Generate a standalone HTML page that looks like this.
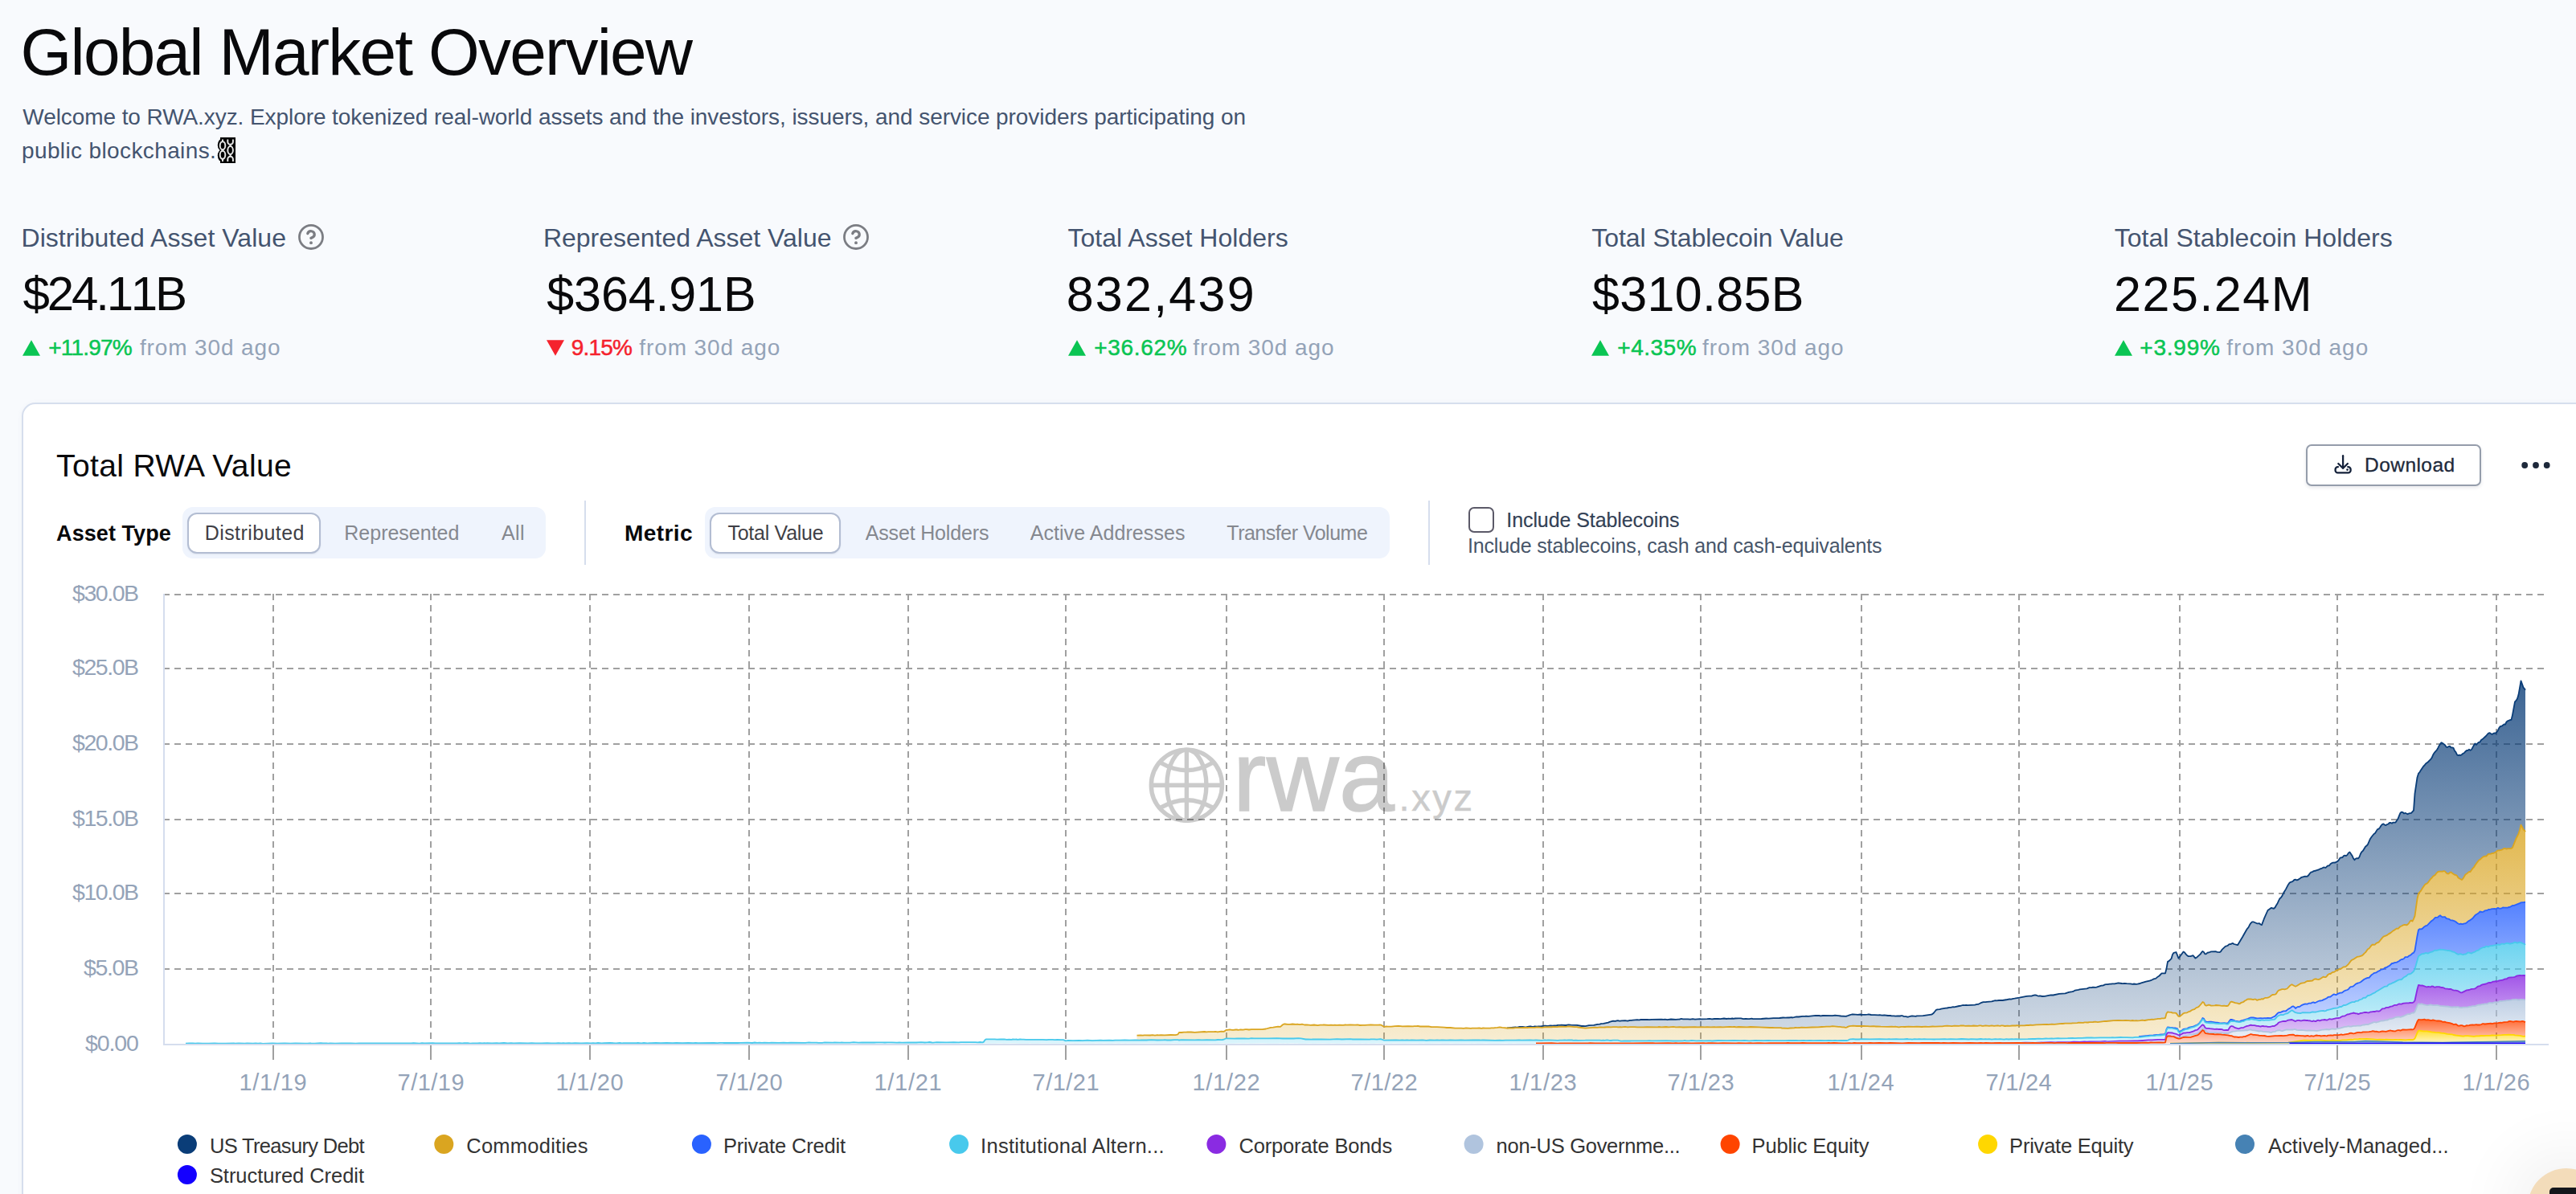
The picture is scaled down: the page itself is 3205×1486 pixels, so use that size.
<!DOCTYPE html>
<html lang="en">
<head>
<meta charset="utf-8">
<title>Global Market Overview</title>
<style>
html,body{margin:0;padding:0}
body{width:3205px;height:1486px;overflow:hidden;background:#f8fafd;font-family:"Liberation Sans",sans-serif;position:relative}
.t{position:absolute;white-space:nowrap;margin:0;padding:0}
.abs{position:absolute}
.card{position:absolute;left:27px;top:501px;width:3300px;height:1100px;box-sizing:border-box;border:2px solid #d6deed;border-radius:17px;background:#fff;box-shadow:0 1px 6px rgba(100,120,160,.06)}
.seg{position:absolute;top:631px;height:64px;border-radius:13px;background:#eff4fd}
.segsel{position:absolute;top:637.5px;height:51px;box-sizing:border-box;border:2px solid #b3bdd2;border-radius:12px;background:#fff;box-shadow:0 1px 2px rgba(30,40,80,.08)}
.vdiv{position:absolute;top:623px;width:2px;height:80px;background:#d6deed}
.chart{position:absolute;left:0;top:0}
.btn{position:absolute;left:2869px;top:553px;width:218px;height:52px;box-sizing:border-box;border:2px solid #959dab;border-radius:7px;background:#fff;box-shadow:0 2px 4px rgba(20,30,60,.10)}
.cb{position:absolute;left:1827px;top:631px;width:32px;height:32px;box-sizing:border-box;border:2px solid #5b5968;border-radius:7px;background:#fff}
.fab{position:absolute;left:3145px;top:1454px;width:96px;height:96px;border-radius:50%;background:#f3dcba;box-shadow:0 0 80px 24px rgba(0,0,0,.055)}
.fabi{position:absolute;left:3172px;top:1478px;width:60px;height:40px;border-radius:5px;background:#14161b}
</style>
</head>
<body>
<div class="card"></div>
<div class="seg" style="left:227px;width:452px"></div>
<div class="segsel" style="left:233px;width:165.5px"></div>
<div class="vdiv" style="left:727px"></div>
<div class="seg" style="left:877px;width:852px"></div>
<div class="segsel" style="left:883px;width:162.5px"></div>
<div class="vdiv" style="left:1777px"></div>
<div class="cb"></div>
<div class="btn"></div>
<svg class="chart" width="3205" height="1486" viewBox="0 0 3205 1486">
<defs>
<linearGradient id="g-sc" x1="0" y1="0" x2="0" y2="1"><stop offset="0" stop-color="#1400ff" stop-opacity="0.8"/><stop offset="1" stop-color="#1400ff" stop-opacity="0.2"/></linearGradient>
<linearGradient id="g-am" x1="0" y1="0" x2="0" y2="1"><stop offset="0" stop-color="#4682b4" stop-opacity="0.8"/><stop offset="1" stop-color="#4682b4" stop-opacity="0.2"/></linearGradient>
<linearGradient id="g-pe" x1="0" y1="0" x2="0" y2="1"><stop offset="0" stop-color="#ffd700" stop-opacity="0.8"/><stop offset="1" stop-color="#ffd700" stop-opacity="0.2"/></linearGradient>
<linearGradient id="g-pu" x1="0" y1="0" x2="0" y2="1"><stop offset="0" stop-color="#ff4500" stop-opacity="0.8"/><stop offset="1" stop-color="#ff4500" stop-opacity="0.2"/></linearGradient>
<linearGradient id="g-ng" x1="0" y1="0" x2="0" y2="1"><stop offset="0" stop-color="#b0c4de" stop-opacity="0.8"/><stop offset="1" stop-color="#b0c4de" stop-opacity="0.2"/></linearGradient>
<linearGradient id="g-cb" x1="0" y1="0" x2="0" y2="1"><stop offset="0" stop-color="#8a2be2" stop-opacity="0.8"/><stop offset="1" stop-color="#8a2be2" stop-opacity="0.2"/></linearGradient>
<linearGradient id="g-ia" x1="0" y1="0" x2="0" y2="1"><stop offset="0" stop-color="#48c9ec" stop-opacity="0.8"/><stop offset="1" stop-color="#48c9ec" stop-opacity="0.2"/></linearGradient>
<linearGradient id="g-pc" x1="0" y1="0" x2="0" y2="1"><stop offset="0" stop-color="#2962ff" stop-opacity="0.8"/><stop offset="1" stop-color="#2962ff" stop-opacity="0.2"/></linearGradient>
<linearGradient id="g-co" x1="0" y1="0" x2="0" y2="1"><stop offset="0" stop-color="#daa520" stop-opacity="0.8"/><stop offset="1" stop-color="#daa520" stop-opacity="0.2"/></linearGradient>
<linearGradient id="g-us" x1="0" y1="0" x2="0" y2="1"><stop offset="0" stop-color="#0a3d78" stop-opacity="0.8"/><stop offset="1" stop-color="#0a3d78" stop-opacity="0.2"/></linearGradient>
</defs>
<g stroke="#a0a0a0" stroke-width="2" stroke-dasharray="8 6" fill="none">
<line x1="203" y1="740.0" x2="3166" y2="740.0"/>
<line x1="203" y1="832.0" x2="3166" y2="832.0"/>
<line x1="203" y1="926.0" x2="3166" y2="926.0"/>
<line x1="203" y1="1020.0" x2="3166" y2="1020.0"/>
<line x1="203" y1="1112.0" x2="3166" y2="1112.0"/>
<line x1="203" y1="1206.0" x2="3166" y2="1206.0"/>
<line x1="340.0" y1="739" x2="340.0" y2="1299"/>
<line x1="536.0" y1="739" x2="536.0" y2="1299"/>
<line x1="734.0" y1="739" x2="734.0" y2="1299"/>
<line x1="932.0" y1="739" x2="932.0" y2="1299"/>
<line x1="1130.0" y1="739" x2="1130.0" y2="1299"/>
<line x1="1326.0" y1="739" x2="1326.0" y2="1299"/>
<line x1="1526.0" y1="739" x2="1526.0" y2="1299"/>
<line x1="1722.0" y1="739" x2="1722.0" y2="1299"/>
<line x1="1920.0" y1="739" x2="1920.0" y2="1299"/>
<line x1="2116.0" y1="739" x2="2116.0" y2="1299"/>
<line x1="2316.0" y1="739" x2="2316.0" y2="1299"/>
<line x1="2512.0" y1="739" x2="2512.0" y2="1299"/>
<line x1="2712.0" y1="739" x2="2712.0" y2="1299"/>
<line x1="2908.0" y1="739" x2="2908.0" y2="1299"/>
<line x1="3106.0" y1="739" x2="3106.0" y2="1299"/>
</g>
<g id="wm" opacity="0.2"><g fill="none" stroke="#000" stroke-width="5.4"><circle cx="1476.4" cy="977.2" r="44.1"/><ellipse cx="1476.4" cy="977.2" rx="24.5" ry="44.1"/><line x1="1476.4" y1="933" x2="1476.4" y2="1021.4"/><line x1="1432.3" y1="977.2" x2="1520.5" y2="977.2"/><path d="M1444.5 949.5Q1476.4 968 1508.3 949.5"/><path d="M1444.5 1004.9Q1476.4 986.4 1508.3 1004.9"/></g>
<text x="1534.0" y="1009.3" font-family='"Liberation Sans", sans-serif' font-size="124" fill="#000" stroke="#000" stroke-width="1.6" letter-spacing="0.6">rwa</text>
<text x="1740.6" y="1009.3" font-family='"Liberation Sans", sans-serif' font-size="47" fill="#000" stroke="#000" stroke-width="0.6" letter-spacing="2.6">.xyz</text></g>
<polygon points="1875.0,1279.4 1885.5,1278.4 1887.0,1278.6 1888.5,1278.4 1890.0,1278.0 1894.5,1277.9 1897.5,1278.4 1899.0,1278.4 1900.5,1277.9 1903.5,1277.5 1905.0,1277.5 1906.5,1277.9 1908.0,1277.8 1909.5,1277.3 1912.5,1277.7 1914.0,1277.3 1917.0,1277.3 1921.5,1276.6 1923.0,1276.6 1924.5,1276.9 1926.0,1276.9 1929.0,1276.4 1932.0,1276.7 1933.5,1276.3 1935.0,1276.5 1936.5,1276.4 1938.0,1275.8 1941.0,1275.8 1942.5,1275.6 1947.0,1276.0 1948.5,1276.0 1951.5,1275.3 1954.5,1275.6 1962.0,1275.9 1968.0,1277.0 1969.5,1276.9 1972.5,1277.2 1977.0,1276.2 1983.0,1275.9 1987.5,1274.9 1990.5,1274.7 1992.0,1274.1 1995.0,1273.9 2001.0,1272.6 2002.5,1271.9 2007.0,1270.7 2010.0,1270.9 2011.5,1270.4 2013.0,1270.2 2014.5,1270.6 2016.0,1270.7 2017.5,1270.3 2022.0,1270.2 2025.0,1270.7 2028.0,1269.8 2029.5,1269.8 2037.0,1269.2 2038.5,1269.4 2040.0,1269.4 2041.5,1268.9 2043.0,1269.0 2049.0,1268.8 2052.0,1269.2 2055.0,1268.8 2067.0,1268.7 2070.0,1268.9 2071.5,1268.7 2074.5,1269.2 2079.0,1268.5 2085.0,1268.8 2088.0,1268.6 2089.5,1268.7 2091.0,1268.2 2092.5,1268.0 2094.0,1268.4 2100.0,1268.4 2103.0,1268.6 2106.0,1268.2 2109.0,1268.7 2115.0,1268.2 2116.5,1268.3 2124.0,1268.1 2127.0,1267.8 2130.0,1268.3 2133.0,1268.0 2137.5,1267.9 2140.5,1268.1 2145.0,1267.5 2148.0,1268.0 2151.0,1267.7 2152.5,1267.8 2155.5,1267.5 2157.0,1267.8 2158.5,1267.5 2163.0,1267.3 2166.0,1267.4 2169.0,1268.1 2172.0,1267.8 2175.0,1268.2 2176.5,1268.1 2178.0,1267.8 2179.5,1267.7 2181.0,1268.1 2191.5,1268.0 2197.5,1267.5 2200.5,1267.6 2206.5,1267.1 2214.0,1267.0 2218.5,1266.5 2221.5,1266.6 2224.5,1266.3 2226.0,1266.5 2229.0,1266.2 2230.5,1266.5 2235.0,1265.3 2238.0,1265.5 2242.5,1264.8 2245.5,1264.8 2247.0,1264.6 2250.0,1264.8 2259.0,1263.8 2263.5,1264.0 2265.0,1264.3 2268.0,1264.0 2280.0,1264.1 2281.5,1263.8 2283.0,1263.7 2287.5,1264.1 2290.5,1264.5 2296.5,1264.8 2298.0,1264.5 2301.0,1263.4 2304.0,1262.5 2305.5,1262.4 2311.5,1262.8 2314.5,1262.5 2317.5,1262.8 2320.5,1262.8 2323.5,1262.7 2325.0,1262.4 2328.0,1263.0 2332.5,1263.2 2337.0,1263.4 2338.5,1263.2 2341.5,1263.6 2344.5,1263.3 2349.0,1264.0 2352.0,1264.0 2353.5,1264.3 2356.5,1264.3 2358.0,1264.7 2361.0,1264.5 2364.0,1264.5 2365.5,1264.2 2367.0,1264.2 2368.5,1264.9 2370.0,1265.2 2371.5,1265.2 2373.0,1265.6 2374.5,1265.5 2377.5,1264.6 2379.0,1264.4 2383.5,1264.9 2385.0,1264.4 2392.5,1264.1 2403.0,1262.7 2404.5,1261.9 2406.0,1260.5 2409.0,1256.8 2410.5,1256.3 2413.5,1256.1 2415.0,1255.7 2421.0,1254.6 2422.5,1254.5 2425.5,1253.9 2427.0,1253.8 2430.0,1253.2 2431.5,1253.4 2437.5,1252.0 2439.0,1251.9 2442.0,1251.0 2443.5,1251.2 2446.5,1250.9 2448.0,1251.1 2457.0,1250.7 2460.0,1249.9 2461.5,1249.8 2464.5,1248.2 2467.5,1247.1 2470.5,1247.2 2472.0,1246.9 2478.0,1246.4 2482.5,1245.2 2484.0,1245.3 2487.0,1245.0 2491.5,1245.0 2497.5,1244.0 2500.5,1243.4 2502.0,1243.6 2505.0,1242.8 2506.5,1242.7 2512.5,1241.7 2521.5,1239.9 2524.5,1239.6 2527.5,1239.6 2530.5,1238.6 2532.0,1238.3 2533.5,1238.6 2535.0,1239.3 2536.5,1239.6 2538.0,1239.3 2541.0,1240.0 2544.0,1239.9 2551.5,1238.4 2554.5,1238.5 2562.0,1236.8 2569.5,1236.3 2574.0,1234.9 2577.0,1234.3 2578.5,1234.2 2580.0,1233.6 2581.5,1232.7 2583.0,1232.3 2586.0,1231.8 2587.5,1231.3 2596.5,1230.3 2599.5,1229.2 2602.5,1229.2 2604.0,1228.7 2607.0,1228.9 2608.5,1228.7 2614.5,1226.7 2616.0,1226.6 2617.5,1226.1 2619.0,1225.3 2620.5,1225.1 2622.0,1225.2 2625.0,1224.7 2626.5,1224.7 2628.0,1224.3 2631.0,1224.3 2635.5,1223.3 2640.0,1224.0 2641.5,1224.1 2643.0,1223.8 2646.0,1224.2 2650.5,1224.3 2653.5,1224.8 2655.0,1224.5 2658.0,1224.8 2659.5,1224.7 2662.5,1224.0 2664.0,1223.4 2670.0,1221.7 2674.5,1220.7 2676.0,1220.2 2679.0,1218.7 2680.5,1218.2 2682.0,1217.9 2685.0,1215.4 2686.5,1214.5 2689.5,1211.4 2694.0,1211.4 2695.5,1205.3 2697.0,1196.9 2698.5,1196.1 2701.5,1193.2 2703.0,1188.0 2704.5,1185.8 2707.5,1185.0 2710.5,1192.7 2716.5,1184.5 2718.0,1185.2 2719.5,1187.4 2721.0,1189.0 2722.5,1190.1 2725.5,1190.1 2728.5,1189.2 2731.5,1192.6 2733.0,1191.7 2737.5,1187.7 2739.0,1185.4 2740.5,1183.9 2742.0,1185.1 2743.5,1187.4 2745.0,1187.1 2746.5,1185.7 2748.0,1185.5 2751.0,1184.4 2757.0,1184.2 2758.5,1184.9 2761.5,1185.2 2763.0,1184.3 2764.5,1181.9 2769.0,1177.7 2770.5,1177.3 2772.0,1176.6 2773.5,1175.2 2775.0,1175.1 2778.0,1173.9 2779.5,1175.0 2784.0,1176.2 2790.0,1166.3 2794.5,1158.2 2796.0,1155.8 2797.5,1154.1 2799.0,1151.1 2800.5,1148.8 2802.0,1147.4 2803.5,1147.3 2808.0,1149.3 2809.5,1149.4 2811.0,1149.1 2812.5,1150.5 2814.0,1151.1 2817.0,1143.2 2821.5,1133.0 2826.0,1129.8 2829.0,1130.8 2830.5,1129.5 2832.0,1126.7 2833.5,1124.5 2835.0,1121.1 2836.5,1118.2 2838.0,1117.1 2839.5,1114.8 2841.0,1111.5 2844.0,1106.6 2847.0,1100.9 2848.5,1098.8 2850.0,1097.8 2851.5,1097.4 2853.0,1096.5 2854.5,1095.0 2856.0,1094.7 2857.5,1095.3 2859.0,1095.0 2862.0,1093.0 2863.5,1091.8 2868.0,1090.6 2869.5,1090.8 2871.0,1090.5 2872.5,1089.0 2874.0,1086.8 2875.5,1085.4 2877.0,1085.2 2878.5,1084.1 2881.5,1083.5 2883.0,1082.8 2884.5,1082.5 2886.0,1081.7 2889.0,1080.6 2890.5,1079.7 2892.0,1079.5 2893.5,1080.0 2895.0,1078.4 2896.5,1077.3 2898.0,1077.3 2899.5,1075.3 2901.0,1074.3 2902.5,1073.6 2905.5,1073.5 2908.5,1071.9 2910.0,1070.1 2911.5,1067.6 2914.5,1067.0 2916.0,1065.1 2917.5,1064.7 2919.0,1065.1 2920.5,1063.9 2922.0,1061.4 2923.5,1060.5 2926.5,1064.9 2928.0,1068.4 2929.5,1070.2 2931.0,1068.7 2932.5,1068.2 2934.0,1068.4 2935.5,1066.5 2937.0,1062.5 2938.5,1060.1 2940.0,1058.8 2943.0,1053.7 2944.5,1052.6 2946.0,1050.8 2949.0,1043.9 2950.5,1041.8 2953.5,1038.0 2955.0,1037.0 2958.0,1032.1 2959.5,1031.7 2961.0,1030.0 2962.5,1027.5 2964.0,1025.9 2965.5,1025.3 2967.0,1026.7 2968.5,1027.0 2970.0,1026.0 2971.5,1025.5 2973.0,1024.0 2974.5,1024.0 2976.0,1024.7 2977.5,1023.6 2980.5,1023.6 2983.5,1019.1 2985.0,1015.1 2986.5,1011.7 2988.0,1010.6 2989.5,1010.8 2991.0,1012.5 2992.5,1011.7 2995.5,1013.3 2997.0,1012.4 3000.0,1011.9 3003.0,1008.6 3004.5,987.6 3007.5,967.5 3009.0,962.7 3010.5,961.0 3012.0,958.4 3015.0,953.9 3016.5,952.5 3018.0,950.5 3021.0,948.3 3022.5,946.6 3024.0,945.3 3025.5,943.3 3027.0,939.8 3028.5,937.3 3030.0,935.4 3031.5,933.9 3033.0,931.6 3034.5,928.4 3036.0,926.0 3037.5,924.2 3039.0,924.9 3042.0,927.3 3043.5,929.6 3045.0,930.0 3046.5,929.1 3048.0,928.6 3049.5,930.4 3051.0,930.4 3052.5,930.9 3054.0,934.4 3055.5,936.2 3057.0,939.4 3058.5,940.2 3060.0,939.6 3061.5,940.0 3063.0,939.0 3064.5,937.7 3066.0,937.0 3067.5,935.2 3069.0,934.0 3070.5,933.9 3072.0,932.7 3073.5,933.8 3075.0,932.9 3078.0,927.4 3079.5,925.4 3081.0,926.9 3082.5,925.1 3084.0,923.8 3085.5,923.5 3087.0,921.0 3088.5,920.1 3093.0,916.0 3096.0,912.5 3097.5,912.1 3100.5,913.9 3102.0,912.9 3103.5,912.4 3105.0,912.5 3106.5,911.1 3108.0,908.7 3109.5,905.6 3111.0,903.9 3112.5,903.7 3115.5,901.5 3117.0,901.6 3118.5,898.5 3120.0,897.3 3123.0,896.0 3124.5,895.9 3126.0,889.6 3129.0,873.3 3130.5,871.9 3132.0,869.5 3133.5,864.6 3136.5,847.3 3139.5,855.6 3141.0,857.3 3142.0,858.8 3142.0,1035.2 3141.0,1033.4 3139.5,1032.4 3138.0,1029.2 3136.5,1026.6 3135.0,1032.9 3133.5,1037.6 3130.5,1043.6 3126.0,1054.8 3124.5,1055.9 3123.0,1056.2 3120.0,1056.1 3118.5,1056.7 3117.0,1056.0 3115.5,1056.0 3112.5,1057.7 3109.5,1058.3 3108.0,1058.3 3106.5,1059.3 3105.0,1060.6 3103.5,1061.3 3102.0,1061.9 3100.5,1062.0 3099.0,1062.6 3096.0,1062.8 3094.5,1064.5 3093.0,1065.7 3091.5,1065.6 3090.0,1066.2 3088.5,1067.1 3085.5,1069.8 3084.0,1070.8 3082.5,1072.6 3079.5,1076.7 3078.0,1079.3 3076.5,1080.7 3073.5,1085.1 3072.0,1084.9 3069.0,1087.4 3067.5,1088.3 3064.5,1093.4 3063.0,1095.0 3058.5,1092.5 3057.0,1089.9 3055.5,1088.9 3054.0,1088.8 3051.0,1086.7 3049.5,1085.3 3048.0,1086.0 3046.5,1087.4 3045.0,1087.3 3043.5,1086.2 3042.0,1084.5 3040.5,1084.0 3039.0,1084.6 3034.5,1084.6 3033.0,1085.1 3031.5,1086.6 3030.0,1088.7 3027.0,1090.7 3025.5,1092.6 3024.0,1094.0 3021.0,1098.1 3019.5,1099.7 3018.0,1100.1 3016.5,1101.7 3013.5,1106.1 3012.0,1108.7 3009.0,1112.2 3007.5,1118.5 3004.5,1139.9 3003.0,1143.7 3001.5,1146.6 3000.0,1145.5 2998.5,1146.6 2997.0,1149.1 2995.5,1150.6 2994.0,1151.4 2992.5,1150.9 2991.0,1151.0 2989.5,1151.6 2988.0,1152.5 2986.5,1153.0 2983.5,1155.9 2982.0,1155.5 2979.0,1157.6 2977.5,1158.4 2974.5,1160.9 2971.5,1162.6 2970.0,1163.9 2965.5,1165.6 2964.0,1167.1 2959.5,1172.7 2956.5,1173.8 2955.0,1175.5 2953.5,1175.8 2952.0,1175.5 2950.5,1176.6 2947.5,1180.5 2946.0,1181.3 2943.0,1185.4 2941.5,1186.6 2940.0,1188.3 2938.5,1189.4 2935.5,1190.3 2932.5,1190.9 2928.0,1193.9 2926.5,1194.5 2925.0,1195.7 2922.0,1199.8 2919.0,1202.7 2917.5,1203.4 2916.0,1203.3 2914.5,1204.2 2913.0,1205.4 2911.5,1205.6 2910.0,1206.6 2908.5,1207.3 2907.0,1207.5 2905.5,1208.8 2904.0,1209.8 2902.5,1209.9 2901.0,1210.7 2899.5,1212.0 2898.0,1212.0 2896.5,1212.9 2895.0,1214.9 2893.5,1216.2 2892.0,1216.1 2890.5,1215.7 2886.0,1218.7 2884.5,1219.1 2883.0,1218.9 2881.5,1218.4 2880.0,1218.5 2878.5,1219.3 2877.0,1220.5 2872.5,1221.0 2871.0,1220.9 2869.5,1221.6 2868.0,1222.6 2866.5,1223.1 2863.5,1223.6 2862.0,1224.2 2857.5,1227.0 2856.0,1227.6 2854.5,1227.0 2851.5,1225.2 2850.0,1226.1 2848.5,1227.3 2845.5,1230.5 2842.5,1231.3 2841.0,1231.1 2839.5,1231.2 2838.0,1231.5 2836.5,1232.1 2835.0,1232.7 2833.5,1234.2 2832.0,1236.7 2830.5,1237.7 2827.5,1238.0 2826.0,1238.8 2824.5,1240.2 2823.0,1241.1 2821.5,1241.7 2820.0,1241.9 2818.5,1241.8 2817.0,1242.5 2815.5,1243.6 2814.0,1243.2 2812.5,1243.8 2811.0,1243.9 2808.0,1244.8 2806.5,1243.7 2805.0,1243.6 2803.5,1244.1 2800.5,1243.5 2797.5,1243.3 2796.0,1243.7 2794.5,1244.8 2793.0,1245.5 2791.5,1246.8 2788.5,1247.8 2787.0,1249.0 2785.5,1249.3 2784.0,1248.6 2781.0,1248.2 2776.5,1246.7 2775.0,1247.1 2773.5,1249.7 2772.0,1251.8 2770.5,1252.0 2769.0,1252.0 2767.5,1251.6 2764.5,1251.9 2763.0,1251.7 2761.5,1251.3 2757.0,1251.0 2755.5,1251.3 2751.0,1251.7 2749.5,1250.9 2748.0,1250.6 2746.5,1251.2 2745.0,1251.6 2743.5,1250.9 2742.0,1247.8 2740.5,1246.9 2739.0,1249.0 2736.0,1252.5 2734.5,1253.6 2733.0,1253.9 2730.0,1256.2 2728.5,1256.5 2727.0,1257.1 2725.5,1258.3 2724.0,1258.8 2721.0,1260.3 2718.0,1260.6 2716.5,1261.3 2712.0,1265.1 2710.5,1264.9 2707.5,1260.9 2706.0,1260.7 2703.0,1260.6 2701.5,1259.9 2698.5,1259.7 2697.0,1259.3 2695.5,1261.2 2694.0,1266.9 2692.5,1267.3 2689.5,1267.4 2688.0,1267.8 2685.0,1267.9 2683.5,1268.2 2682.0,1268.3 2679.0,1268.8 2677.5,1268.6 2674.5,1269.2 2673.0,1269.1 2668.5,1270.0 2667.0,1269.9 2665.5,1269.6 2662.5,1270.2 2659.5,1270.4 2658.0,1270.1 2655.0,1270.3 2653.5,1270.0 2650.5,1270.3 2649.0,1270.1 2644.5,1269.9 2641.5,1270.2 2635.5,1269.9 2629.5,1270.2 2620.5,1271.0 2619.0,1270.9 2610.0,1272.1 2607.0,1271.6 2604.0,1272.0 2599.5,1272.2 2598.0,1272.5 2596.5,1272.5 2595.0,1272.3 2593.5,1272.4 2592.0,1272.9 2586.0,1272.7 2584.5,1273.1 2578.5,1273.3 2577.0,1273.6 2569.5,1273.6 2566.5,1274.0 2565.0,1273.8 2556.0,1274.8 2553.0,1274.7 2548.5,1275.1 2547.0,1275.0 2533.5,1275.4 2529.0,1275.9 2526.0,1275.7 2524.5,1276.0 2521.5,1276.0 2518.5,1276.4 2514.0,1276.4 2512.5,1276.7 2509.5,1276.2 2508.0,1276.5 2503.5,1276.5 2500.5,1276.8 2497.5,1276.6 2494.5,1277.0 2491.5,1276.4 2490.0,1276.4 2488.5,1276.8 2487.0,1276.7 2485.5,1276.3 2481.0,1276.8 2478.0,1276.4 2475.0,1276.8 2470.5,1276.4 2467.5,1276.9 2466.0,1276.8 2464.5,1276.4 2463.0,1276.3 2461.5,1276.7 2460.0,1276.8 2455.5,1276.5 2452.5,1276.8 2449.5,1276.6 2445.0,1276.9 2443.5,1276.5 2439.0,1276.5 2437.5,1276.9 2431.5,1276.7 2428.5,1277.1 2422.5,1276.7 2419.5,1276.9 2416.5,1277.4 2413.5,1277.3 2407.5,1277.6 2404.5,1277.5 2400.0,1277.9 2398.5,1277.9 2395.5,1277.6 2391.0,1278.0 2385.0,1277.7 2380.5,1277.9 2374.5,1277.6 2370.0,1278.0 2367.0,1277.8 2365.5,1277.8 2362.5,1278.3 2359.5,1277.8 2358.0,1277.7 2356.5,1277.9 2353.5,1277.6 2349.0,1277.8 2340.0,1277.7 2335.5,1277.3 2334.0,1277.5 2331.0,1277.1 2326.5,1277.3 2323.5,1277.1 2322.0,1277.2 2319.0,1277.0 2310.0,1277.0 2305.5,1276.7 2301.0,1277.1 2299.5,1277.6 2298.0,1278.4 2296.5,1279.0 2295.0,1278.5 2293.5,1278.3 2292.0,1278.4 2289.0,1277.9 2287.5,1277.9 2280.0,1277.2 2277.0,1277.7 2272.5,1277.6 2269.5,1277.9 2266.5,1278.0 2262.0,1278.4 2254.5,1278.5 2247.0,1278.8 2241.0,1278.6 2239.5,1279.0 2236.5,1279.2 2233.5,1279.0 2232.0,1279.3 2227.5,1279.5 2224.5,1279.8 2217.0,1279.5 2215.5,1279.2 2208.0,1279.2 2205.0,1278.8 2202.0,1279.0 2188.5,1278.3 2178.0,1278.0 2173.5,1278.4 2163.0,1278.0 2160.0,1278.3 2158.5,1278.0 2157.0,1277.9 2155.5,1278.1 2152.5,1277.9 2143.5,1278.3 2140.5,1278.2 2134.5,1278.3 2133.0,1278.2 2128.5,1278.4 2124.0,1278.1 2121.0,1278.4 2118.0,1278.1 2112.0,1278.3 2109.0,1278.1 2094.0,1278.5 2089.5,1278.1 2086.5,1278.3 2085.0,1278.3 2082.0,1277.8 2076.0,1278.3 2073.0,1278.0 2067.0,1278.3 2064.0,1278.0 2062.5,1278.3 2061.0,1278.3 2049.0,1278.1 2044.5,1278.4 2037.0,1278.4 2034.0,1278.2 2028.0,1278.1 2025.0,1278.4 2022.0,1277.9 2017.5,1278.3 2016.0,1278.1 2013.0,1278.4 2011.5,1278.2 2007.0,1278.2 2004.0,1278.4 2001.0,1278.2 1996.5,1278.5 1995.0,1278.7 1990.5,1278.4 1987.5,1278.9 1984.5,1278.6 1972.5,1279.6 1963.5,1278.5 1962.0,1278.2 1959.0,1278.2 1951.5,1277.4 1948.5,1277.8 1939.5,1277.7 1938.0,1278.0 1936.5,1278.1 1935.0,1278.2 1932.0,1278.0 1930.5,1278.3 1927.5,1278.2 1921.5,1278.4 1918.5,1278.8 1912.5,1278.3 1909.5,1278.8 1905.0,1279.0 1902.0,1278.8 1900.5,1279.0 1897.5,1278.8 1891.5,1279.2 1885.5,1279.1 1882.5,1279.5 1879.5,1279.3 1875.0,1279.5" fill="url(#g-us)"/>
<polygon points="1414.5,1288.7 1419.0,1288.5 1422.0,1288.7 1423.5,1288.4 1425.0,1288.3 1431.0,1288.5 1434.0,1288.2 1437.0,1288.6 1440.0,1288.2 1441.5,1288.3 1444.5,1288.1 1449.0,1288.3 1456.5,1288.0 1462.5,1288.2 1465.5,1287.4 1467.0,1284.9 1470.0,1285.0 1473.0,1284.6 1476.0,1284.7 1477.5,1284.4 1482.0,1284.5 1486.5,1284.8 1498.5,1284.0 1501.5,1284.3 1503.0,1284.2 1510.5,1284.1 1512.0,1283.9 1515.0,1284.3 1519.5,1283.6 1522.5,1283.8 1524.0,1283.2 1525.5,1281.8 1527.0,1281.8 1530.0,1281.4 1533.0,1281.8 1534.5,1281.9 1537.5,1281.5 1539.0,1281.5 1540.5,1281.8 1542.0,1281.7 1543.5,1281.3 1546.5,1281.7 1549.5,1281.2 1551.0,1281.1 1554.0,1281.5 1557.0,1281.2 1570.5,1281.1 1575.0,1280.5 1581.0,1278.8 1584.0,1278.7 1590.0,1277.7 1593.0,1277.9 1596.0,1275.3 1597.5,1274.5 1599.0,1274.5 1602.0,1274.8 1605.0,1274.8 1608.0,1274.5 1612.5,1274.8 1614.0,1274.7 1617.0,1275.1 1620.0,1274.7 1623.0,1275.5 1626.0,1275.4 1630.5,1275.8 1635.0,1275.5 1639.5,1276.1 1642.5,1275.7 1645.5,1275.7 1647.0,1275.5 1653.0,1275.8 1656.0,1275.7 1659.0,1275.8 1660.5,1275.6 1663.5,1275.8 1666.5,1275.6 1671.0,1275.9 1674.0,1275.5 1675.5,1275.7 1680.0,1275.4 1686.0,1275.6 1689.0,1275.4 1692.0,1276.0 1695.0,1275.8 1698.0,1275.9 1705.5,1275.4 1710.0,1275.7 1714.5,1275.7 1717.5,1275.5 1719.0,1275.9 1720.5,1277.0 1722.0,1277.8 1725.0,1277.5 1726.5,1277.7 1731.0,1277.6 1735.5,1277.2 1740.0,1277.0 1743.0,1277.2 1744.5,1277.4 1752.0,1277.1 1758.0,1277.3 1759.5,1277.1 1762.5,1277.1 1764.0,1276.8 1767.0,1277.5 1771.5,1277.4 1777.5,1277.5 1780.5,1278.0 1788.0,1278.2 1797.0,1278.7 1800.0,1279.0 1804.5,1279.0 1810.5,1279.7 1818.0,1279.6 1821.0,1279.8 1824.0,1279.4 1830.0,1279.9 1831.5,1279.7 1837.5,1279.7 1840.5,1279.5 1843.5,1279.8 1845.0,1279.5 1848.0,1279.7 1854.0,1279.6 1855.5,1279.3 1858.5,1279.4 1860.0,1279.1 1863.0,1278.9 1866.0,1278.3 1869.0,1278.9 1875.0,1279.5 1879.5,1279.3 1882.5,1279.5 1885.5,1279.1 1891.5,1279.2 1897.5,1278.8 1900.5,1279.0 1902.0,1278.8 1906.5,1278.9 1909.5,1278.8 1912.5,1278.3 1918.5,1278.8 1921.5,1278.4 1927.5,1278.2 1930.5,1278.3 1932.0,1278.0 1935.0,1278.2 1936.5,1278.1 1938.0,1278.0 1939.5,1277.7 1948.5,1277.8 1951.5,1277.4 1959.0,1278.2 1962.0,1278.2 1963.5,1278.5 1972.5,1279.6 1984.5,1278.6 1987.5,1278.9 1990.5,1278.4 1995.0,1278.7 1996.5,1278.5 2001.0,1278.2 2004.0,1278.4 2007.0,1278.2 2011.5,1278.2 2013.0,1278.4 2016.0,1278.1 2017.5,1278.3 2022.0,1277.9 2025.0,1278.4 2028.0,1278.1 2034.0,1278.2 2037.0,1278.4 2044.5,1278.4 2049.0,1278.1 2061.0,1278.3 2062.5,1278.3 2064.0,1278.0 2067.0,1278.3 2073.0,1278.0 2076.0,1278.3 2082.0,1277.8 2085.0,1278.3 2086.5,1278.3 2089.5,1278.1 2094.0,1278.5 2109.0,1278.1 2112.0,1278.3 2118.0,1278.1 2121.0,1278.4 2124.0,1278.1 2128.5,1278.4 2133.0,1278.2 2134.5,1278.3 2140.5,1278.2 2143.5,1278.3 2152.5,1277.9 2155.5,1278.1 2157.0,1277.9 2158.5,1278.0 2160.0,1278.3 2163.0,1278.0 2173.5,1278.4 2178.0,1278.0 2188.5,1278.3 2202.0,1279.0 2205.0,1278.8 2208.0,1279.2 2215.5,1279.2 2217.0,1279.5 2224.5,1279.8 2227.5,1279.5 2232.0,1279.3 2233.5,1279.0 2236.5,1279.2 2239.5,1279.0 2241.0,1278.6 2247.0,1278.8 2254.5,1278.5 2262.0,1278.4 2266.5,1278.0 2269.5,1277.9 2272.5,1277.6 2277.0,1277.7 2280.0,1277.2 2287.5,1277.9 2289.0,1277.9 2292.0,1278.4 2293.5,1278.3 2295.0,1278.5 2296.5,1279.0 2298.0,1278.4 2299.5,1277.6 2301.0,1277.1 2305.5,1276.7 2310.0,1277.0 2319.0,1277.0 2322.0,1277.2 2323.5,1277.1 2326.5,1277.3 2331.0,1277.1 2334.0,1277.5 2335.5,1277.3 2340.0,1277.7 2349.0,1277.8 2353.5,1277.6 2356.5,1277.9 2358.0,1277.7 2359.5,1277.8 2362.5,1278.3 2365.5,1277.8 2367.0,1277.8 2370.0,1278.0 2374.5,1277.6 2380.5,1277.9 2385.0,1277.7 2391.0,1278.0 2395.5,1277.6 2398.5,1277.9 2400.0,1277.9 2404.5,1277.5 2407.5,1277.6 2413.5,1277.3 2416.5,1277.4 2419.5,1276.9 2422.5,1276.7 2428.5,1277.1 2431.5,1276.7 2437.5,1276.9 2439.0,1276.5 2443.5,1276.5 2445.0,1276.9 2449.5,1276.6 2452.5,1276.8 2455.5,1276.5 2460.0,1276.8 2461.5,1276.7 2463.0,1276.3 2464.5,1276.4 2466.0,1276.8 2467.5,1276.9 2470.5,1276.4 2475.0,1276.8 2478.0,1276.4 2481.0,1276.8 2485.5,1276.3 2487.0,1276.7 2488.5,1276.8 2490.0,1276.4 2491.5,1276.4 2494.5,1277.0 2497.5,1276.6 2500.5,1276.8 2503.5,1276.5 2508.0,1276.5 2509.5,1276.2 2512.5,1276.7 2514.0,1276.4 2518.5,1276.4 2521.5,1276.0 2524.5,1276.0 2526.0,1275.7 2529.0,1275.9 2533.5,1275.4 2547.0,1275.0 2548.5,1275.1 2553.0,1274.7 2556.0,1274.8 2565.0,1273.8 2566.5,1274.0 2569.5,1273.6 2577.0,1273.6 2578.5,1273.3 2584.5,1273.1 2586.0,1272.7 2592.0,1272.9 2593.5,1272.4 2595.0,1272.3 2596.5,1272.5 2598.0,1272.5 2599.5,1272.2 2604.0,1272.0 2607.0,1271.6 2610.0,1272.1 2619.0,1270.9 2620.5,1271.0 2629.5,1270.2 2635.5,1269.9 2641.5,1270.2 2644.5,1269.9 2649.0,1270.1 2650.5,1270.3 2653.5,1270.0 2655.0,1270.3 2658.0,1270.1 2659.5,1270.4 2662.5,1270.2 2665.5,1269.6 2667.0,1269.9 2668.5,1270.0 2673.0,1269.1 2674.5,1269.2 2677.5,1268.6 2679.0,1268.8 2682.0,1268.3 2683.5,1268.2 2685.0,1267.9 2688.0,1267.8 2689.5,1267.4 2692.5,1267.3 2694.0,1266.9 2695.5,1261.2 2697.0,1259.3 2698.5,1259.7 2701.5,1259.9 2703.0,1260.6 2706.0,1260.7 2707.5,1260.9 2710.5,1264.9 2712.0,1265.1 2716.5,1261.3 2718.0,1260.6 2721.0,1260.3 2724.0,1258.8 2725.5,1258.3 2727.0,1257.1 2728.5,1256.5 2730.0,1256.2 2733.0,1253.9 2734.5,1253.6 2736.0,1252.5 2739.0,1249.0 2740.5,1246.9 2742.0,1247.8 2743.5,1250.9 2745.0,1251.6 2746.5,1251.2 2748.0,1250.6 2749.5,1250.9 2751.0,1251.7 2755.5,1251.3 2757.0,1251.0 2761.5,1251.3 2763.0,1251.7 2764.5,1251.9 2767.5,1251.6 2769.0,1252.0 2770.5,1252.0 2772.0,1251.8 2773.5,1249.7 2775.0,1247.1 2776.5,1246.7 2781.0,1248.2 2784.0,1248.6 2785.5,1249.3 2787.0,1249.0 2788.5,1247.8 2791.5,1246.8 2793.0,1245.5 2794.5,1244.8 2796.0,1243.7 2797.5,1243.3 2800.5,1243.5 2803.5,1244.1 2805.0,1243.6 2806.5,1243.7 2808.0,1244.8 2811.0,1243.9 2812.5,1243.8 2814.0,1243.2 2815.5,1243.6 2817.0,1242.5 2818.5,1241.8 2820.0,1241.9 2821.5,1241.7 2823.0,1241.1 2824.5,1240.2 2826.0,1238.8 2827.5,1238.0 2830.5,1237.7 2832.0,1236.7 2833.5,1234.2 2835.0,1232.7 2836.5,1232.1 2838.0,1231.5 2839.5,1231.2 2841.0,1231.1 2842.5,1231.3 2845.5,1230.5 2848.5,1227.3 2850.0,1226.1 2851.5,1225.2 2854.5,1227.0 2856.0,1227.6 2857.5,1227.0 2862.0,1224.2 2863.5,1223.6 2866.5,1223.1 2868.0,1222.6 2869.5,1221.6 2871.0,1220.9 2872.5,1221.0 2877.0,1220.5 2878.5,1219.3 2880.0,1218.5 2881.5,1218.4 2883.0,1218.9 2884.5,1219.1 2886.0,1218.7 2890.5,1215.7 2892.0,1216.1 2893.5,1216.2 2895.0,1214.9 2896.5,1212.9 2898.0,1212.0 2899.5,1212.0 2901.0,1210.7 2902.5,1209.9 2904.0,1209.8 2905.5,1208.8 2907.0,1207.5 2908.5,1207.3 2910.0,1206.6 2911.5,1205.6 2913.0,1205.4 2914.5,1204.2 2916.0,1203.3 2917.5,1203.4 2919.0,1202.7 2922.0,1199.8 2925.0,1195.7 2926.5,1194.5 2928.0,1193.9 2932.5,1190.9 2935.5,1190.3 2938.5,1189.4 2940.0,1188.3 2941.5,1186.6 2943.0,1185.4 2946.0,1181.3 2947.5,1180.5 2950.5,1176.6 2952.0,1175.5 2953.5,1175.8 2955.0,1175.5 2956.5,1173.8 2959.5,1172.7 2964.0,1167.1 2965.5,1165.6 2970.0,1163.9 2971.5,1162.6 2974.5,1160.9 2977.5,1158.4 2979.0,1157.6 2982.0,1155.5 2983.5,1155.9 2986.5,1153.0 2988.0,1152.5 2989.5,1151.6 2991.0,1151.0 2992.5,1150.9 2994.0,1151.4 2995.5,1150.6 2997.0,1149.1 2998.5,1146.6 3000.0,1145.5 3001.5,1146.6 3003.0,1143.7 3004.5,1139.9 3007.5,1118.5 3009.0,1112.2 3012.0,1108.7 3013.5,1106.1 3016.5,1101.7 3018.0,1100.1 3019.5,1099.7 3021.0,1098.1 3024.0,1094.0 3025.5,1092.6 3027.0,1090.7 3030.0,1088.7 3031.5,1086.6 3033.0,1085.1 3034.5,1084.6 3039.0,1084.6 3040.5,1084.0 3042.0,1084.5 3043.5,1086.2 3045.0,1087.3 3046.5,1087.4 3048.0,1086.0 3049.5,1085.3 3051.0,1086.7 3054.0,1088.8 3055.5,1088.9 3057.0,1089.9 3058.5,1092.5 3063.0,1095.0 3064.5,1093.4 3067.5,1088.3 3069.0,1087.4 3072.0,1084.9 3073.5,1085.1 3076.5,1080.7 3078.0,1079.3 3079.5,1076.7 3082.5,1072.6 3084.0,1070.8 3085.5,1069.8 3088.5,1067.1 3090.0,1066.2 3091.5,1065.6 3093.0,1065.7 3094.5,1064.5 3096.0,1062.8 3099.0,1062.6 3100.5,1062.0 3102.0,1061.9 3103.5,1061.3 3105.0,1060.6 3106.5,1059.3 3108.0,1058.3 3109.5,1058.3 3112.5,1057.7 3115.5,1056.0 3117.0,1056.0 3118.5,1056.7 3120.0,1056.1 3123.0,1056.2 3124.5,1055.9 3126.0,1054.8 3130.5,1043.6 3133.5,1037.6 3135.0,1032.9 3136.5,1026.6 3138.0,1029.2 3139.5,1032.4 3141.0,1033.4 3142.0,1035.2 3142.0,1122.6 3139.5,1123.1 3138.0,1123.1 3136.5,1123.3 3135.0,1124.1 3127.5,1127.2 3126.0,1127.0 3123.0,1128.8 3121.5,1128.9 3120.0,1129.7 3115.5,1129.7 3114.0,1129.5 3112.5,1130.3 3111.0,1130.7 3109.5,1130.7 3108.0,1129.9 3105.0,1131.4 3103.5,1130.9 3102.0,1131.2 3100.5,1131.2 3097.5,1132.0 3096.0,1132.0 3094.5,1132.9 3091.5,1133.4 3090.0,1134.5 3088.5,1135.2 3085.5,1134.5 3084.0,1136.1 3082.5,1137.3 3081.0,1138.0 3079.5,1139.2 3076.5,1142.8 3075.0,1144.0 3073.5,1145.1 3070.5,1146.8 3069.0,1148.3 3067.5,1149.3 3066.0,1149.4 3064.5,1150.0 3063.0,1150.2 3061.5,1149.7 3060.0,1150.2 3058.5,1149.5 3057.0,1148.5 3055.5,1147.2 3054.0,1146.4 3051.0,1145.4 3049.5,1145.4 3046.5,1143.6 3045.0,1143.4 3043.5,1142.9 3042.0,1141.2 3040.5,1141.1 3039.0,1141.5 3037.5,1140.6 3036.0,1139.3 3034.5,1140.2 3033.0,1141.7 3030.0,1141.8 3027.0,1145.0 3025.5,1146.0 3024.0,1147.3 3019.5,1152.0 3018.0,1152.2 3016.5,1153.2 3013.5,1156.0 3012.0,1156.3 3010.5,1156.2 3009.0,1157.3 3007.5,1164.7 3004.5,1183.0 3003.0,1185.9 3001.5,1186.4 3000.0,1188.1 2998.5,1189.1 2997.0,1189.7 2995.5,1191.1 2992.5,1191.2 2991.0,1193.0 2989.5,1193.8 2988.0,1194.0 2986.5,1194.8 2985.0,1196.0 2982.0,1197.6 2979.0,1198.1 2977.5,1198.9 2976.0,1199.0 2973.0,1201.9 2971.5,1202.5 2970.0,1203.7 2967.0,1204.7 2965.5,1206.1 2962.5,1206.6 2961.0,1207.9 2958.0,1209.3 2956.5,1210.4 2953.5,1211.1 2952.0,1212.4 2950.5,1213.3 2947.5,1216.9 2946.0,1216.8 2944.5,1217.4 2941.5,1218.8 2937.0,1222.3 2935.5,1223.0 2934.0,1223.4 2931.0,1224.6 2928.0,1227.3 2926.5,1227.8 2925.0,1228.1 2923.5,1229.1 2922.0,1231.0 2920.5,1232.0 2917.5,1232.9 2916.0,1233.8 2914.5,1235.1 2913.0,1235.7 2911.5,1235.7 2908.5,1236.8 2907.0,1238.1 2905.5,1238.0 2904.0,1237.4 2902.5,1238.1 2899.5,1240.5 2896.5,1240.9 2895.0,1242.2 2893.5,1243.1 2892.0,1243.6 2889.0,1245.1 2887.5,1245.5 2886.0,1245.5 2884.5,1246.0 2881.5,1247.5 2880.0,1248.1 2878.5,1247.4 2877.0,1247.6 2875.5,1248.5 2872.5,1248.7 2871.0,1249.5 2869.5,1249.7 2868.0,1249.5 2866.5,1249.8 2863.5,1251.1 2862.0,1252.3 2860.5,1253.2 2859.0,1253.0 2857.5,1253.8 2856.0,1255.0 2854.5,1253.2 2853.0,1252.3 2851.5,1252.8 2850.0,1254.2 2847.0,1255.9 2844.0,1258.3 2842.5,1258.4 2841.0,1258.3 2838.0,1259.6 2836.5,1260.1 2835.0,1260.2 2833.5,1261.3 2830.5,1264.7 2827.5,1266.0 2826.0,1266.9 2824.5,1267.1 2821.5,1266.8 2820.0,1267.1 2817.0,1267.1 2815.5,1267.4 2812.5,1267.1 2809.5,1267.4 2808.0,1267.3 2803.5,1266.5 2800.5,1266.5 2799.0,1266.8 2796.0,1268.2 2790.0,1270.0 2788.5,1270.3 2787.0,1271.0 2785.5,1271.4 2781.0,1270.6 2779.5,1269.9 2776.5,1268.9 2775.0,1269.0 2772.0,1273.2 2770.5,1273.6 2767.5,1273.1 2764.5,1273.3 2761.5,1273.1 2758.5,1272.6 2757.0,1272.7 2751.0,1271.7 2749.5,1271.6 2746.5,1271.9 2745.0,1271.6 2743.5,1270.8 2742.0,1267.7 2740.5,1267.0 2739.0,1269.7 2736.0,1273.8 2734.5,1275.0 2730.0,1277.1 2728.5,1277.7 2724.0,1278.6 2721.0,1280.1 2716.5,1280.8 2715.0,1282.2 2712.0,1283.9 2710.5,1283.2 2709.0,1280.2 2706.0,1279.5 2704.5,1279.5 2701.5,1278.9 2700.0,1279.0 2697.0,1278.3 2695.5,1280.9 2694.0,1286.9 2691.0,1287.4 2689.5,1287.3 2686.5,1287.7 2683.5,1287.8 2679.0,1288.4 2674.5,1288.6 2671.5,1289.1 2670.0,1289.2 2661.0,1290.2 2659.5,1290.8 2656.5,1290.8 2653.5,1291.3 2652.0,1291.3 2650.5,1291.1 2641.5,1291.2 2638.5,1291.0 2631.0,1291.4 2628.0,1291.1 2626.5,1291.3 2613.0,1291.3 2605.5,1291.6 2602.5,1291.4 2596.5,1291.5 2590.5,1291.9 2586.0,1291.8 2581.5,1292.2 2578.5,1291.9 2572.5,1292.2 2563.5,1292.4 2560.5,1292.1 2554.5,1292.7 2553.0,1292.5 2548.5,1292.7 2545.5,1292.5 2541.0,1292.8 2536.5,1292.7 2532.0,1293.0 2529.0,1292.8 2523.0,1293.2 2512.5,1293.4 2508.0,1293.2 2505.0,1293.4 2503.5,1293.2 2499.0,1293.5 2496.0,1293.1 2494.5,1293.5 2493.0,1293.6 2488.5,1293.1 2485.5,1293.3 2482.5,1293.2 2478.0,1293.6 2475.0,1293.2 2472.0,1293.4 2470.5,1293.1 2467.5,1293.4 2464.5,1293.0 2460.0,1293.5 2452.5,1293.2 2449.5,1293.5 2440.5,1293.0 2434.5,1293.4 2427.0,1293.2 2422.5,1293.4 2419.5,1293.1 2412.0,1293.4 2409.0,1293.3 2406.0,1293.5 2403.0,1293.3 2397.0,1293.4 2394.0,1293.2 2391.0,1293.3 2388.0,1293.1 2385.0,1293.3 2382.0,1293.2 2379.0,1293.6 2377.5,1293.3 2374.5,1293.3 2373.0,1293.0 2368.5,1293.3 2362.5,1293.3 2359.5,1293.1 2352.0,1293.4 2350.5,1293.2 2347.5,1293.4 2338.5,1293.2 2326.5,1293.4 2316.0,1293.1 2313.0,1293.5 2311.5,1293.3 2308.5,1293.5 2305.5,1293.2 2302.5,1293.3 2301.0,1293.7 2299.5,1294.6 2298.0,1295.0 2296.5,1294.8 2293.5,1295.0 2290.5,1294.9 2286.0,1295.2 2283.0,1295.0 2280.0,1295.1 2275.5,1294.9 2271.0,1295.1 2265.0,1294.9 2256.0,1295.1 2251.5,1294.8 2247.0,1295.2 2244.0,1294.8 2238.0,1295.2 2235.0,1295.0 2226.0,1294.8 2221.5,1295.1 2203.5,1295.1 2200.5,1294.9 2194.5,1295.2 2184.0,1294.8 2176.5,1295.3 2170.5,1294.9 2166.0,1295.2 2157.0,1294.9 2148.0,1295.2 2137.5,1295.0 2130.0,1295.5 2127.0,1295.2 2119.5,1295.4 2116.5,1295.1 2110.5,1295.3 2104.5,1294.9 2101.5,1295.3 2098.5,1295.3 2095.5,1295.0 2094.0,1295.4 2082.0,1295.5 2073.0,1295.2 2055.0,1295.4 2052.0,1295.2 2049.0,1295.4 2044.5,1295.3 2038.5,1295.4 2029.5,1295.3 2028.0,1295.5 2020.5,1295.4 2017.5,1295.6 2016.0,1295.5 2013.0,1294.7 2011.5,1294.6 2007.0,1294.6 2004.0,1295.0 2002.5,1294.9 1999.5,1294.4 1996.5,1294.8 1995.0,1294.6 1992.0,1294.8 1990.5,1294.6 1978.5,1294.7 1974.0,1294.6 1972.5,1294.7 1963.5,1294.8 1960.5,1294.6 1957.5,1294.8 1956.0,1294.5 1951.5,1294.5 1948.5,1294.7 1947.0,1294.5 1944.0,1294.7 1941.0,1294.6 1938.0,1294.8 1926.0,1294.4 1924.5,1294.7 1921.5,1294.4 1918.5,1294.8 1911.0,1294.5 1908.0,1294.7 1903.5,1294.5 1893.0,1294.7 1890.0,1294.5 1885.5,1294.7 1873.5,1294.6 1869.0,1294.9 1866.0,1294.6 1860.0,1294.8 1845.0,1294.5 1842.0,1294.7 1840.5,1294.5 1833.0,1294.5 1822.5,1294.7 1818.0,1294.5 1810.5,1294.7 1804.5,1294.4 1800.0,1294.7 1794.0,1294.4 1791.0,1294.7 1788.0,1294.4 1785.0,1294.7 1779.0,1294.5 1774.5,1294.8 1770.0,1294.4 1762.5,1294.7 1756.5,1294.3 1753.5,1294.7 1750.5,1294.4 1747.5,1294.6 1744.5,1294.4 1741.5,1294.6 1737.0,1294.3 1723.5,1294.7 1722.0,1294.6 1719.0,1293.5 1717.5,1293.2 1713.0,1293.6 1710.0,1293.3 1705.5,1293.3 1704.0,1293.6 1692.0,1293.3 1683.0,1293.5 1680.0,1293.2 1669.5,1293.5 1663.5,1293.2 1654.5,1293.6 1644.0,1293.3 1636.5,1293.5 1633.5,1293.4 1632.0,1293.7 1626.0,1293.3 1624.5,1293.5 1618.5,1292.4 1615.5,1292.2 1609.5,1292.5 1606.5,1292.3 1596.0,1292.5 1588.5,1292.2 1578.0,1292.4 1575.0,1292.3 1572.0,1292.4 1563.0,1292.3 1560.0,1292.4 1557.0,1292.2 1554.0,1292.6 1552.5,1292.6 1548.0,1292.3 1542.0,1292.5 1539.0,1292.3 1536.0,1292.6 1525.5,1292.3 1522.5,1293.7 1519.5,1294.1 1515.0,1294.0 1512.0,1294.3 1501.5,1294.1 1495.5,1294.3 1491.0,1294.1 1486.5,1294.4 1470.0,1294.1 1467.0,1294.5 1465.5,1294.2 1461.0,1294.2 1456.5,1294.5 1455.0,1294.3 1452.0,1294.5 1449.0,1294.2 1447.5,1294.4 1440.0,1294.5 1432.5,1294.2 1426.5,1294.5 1420.5,1294.3 1417.5,1294.6 1414.5,1294.5" fill="url(#g-co)"/>
<polygon points="2661.0,1290.2 2670.0,1289.2 2671.5,1289.1 2674.5,1288.6 2679.0,1288.4 2683.5,1287.8 2686.5,1287.7 2689.5,1287.3 2691.0,1287.4 2694.0,1286.9 2695.5,1280.9 2697.0,1278.3 2700.0,1279.0 2701.5,1278.9 2704.5,1279.5 2706.0,1279.5 2709.0,1280.2 2710.5,1283.2 2712.0,1283.9 2715.0,1282.2 2716.5,1280.8 2721.0,1280.1 2724.0,1278.6 2728.5,1277.7 2730.0,1277.1 2734.5,1275.0 2736.0,1273.8 2739.0,1269.7 2740.5,1267.0 2742.0,1267.7 2743.5,1270.8 2745.0,1271.6 2746.5,1271.9 2749.5,1271.6 2751.0,1271.7 2757.0,1272.7 2758.5,1272.6 2761.5,1273.1 2764.5,1273.3 2767.5,1273.1 2770.5,1273.6 2772.0,1273.2 2775.0,1269.0 2776.5,1268.9 2779.5,1269.9 2781.0,1270.6 2785.5,1271.4 2787.0,1271.0 2788.5,1270.3 2790.0,1270.0 2796.0,1268.2 2799.0,1266.8 2800.5,1266.5 2803.5,1266.5 2808.0,1267.3 2809.5,1267.4 2812.5,1267.1 2815.5,1267.4 2817.0,1267.1 2820.0,1267.1 2821.5,1266.8 2824.5,1267.1 2826.0,1266.9 2827.5,1266.0 2830.5,1264.7 2833.5,1261.3 2835.0,1260.2 2836.5,1260.1 2838.0,1259.6 2841.0,1258.3 2842.5,1258.4 2844.0,1258.3 2847.0,1255.9 2850.0,1254.2 2851.5,1252.8 2853.0,1252.3 2854.5,1253.2 2856.0,1255.0 2857.5,1253.8 2859.0,1253.0 2860.5,1253.2 2862.0,1252.3 2863.5,1251.1 2866.5,1249.8 2868.0,1249.5 2869.5,1249.7 2871.0,1249.5 2872.5,1248.7 2875.5,1248.5 2877.0,1247.6 2878.5,1247.4 2880.0,1248.1 2881.5,1247.5 2884.5,1246.0 2886.0,1245.5 2887.5,1245.5 2889.0,1245.1 2892.0,1243.6 2893.5,1243.1 2895.0,1242.2 2896.5,1240.9 2899.5,1240.5 2902.5,1238.1 2904.0,1237.4 2905.5,1238.0 2907.0,1238.1 2908.5,1236.8 2911.5,1235.7 2913.0,1235.7 2914.5,1235.1 2916.0,1233.8 2917.5,1232.9 2920.5,1232.0 2922.0,1231.0 2923.5,1229.1 2925.0,1228.1 2926.5,1227.8 2928.0,1227.3 2931.0,1224.6 2934.0,1223.4 2935.5,1223.0 2937.0,1222.3 2941.5,1218.8 2944.5,1217.4 2946.0,1216.8 2947.5,1216.9 2950.5,1213.3 2952.0,1212.4 2953.5,1211.1 2956.5,1210.4 2958.0,1209.3 2961.0,1207.9 2962.5,1206.6 2965.5,1206.1 2967.0,1204.7 2970.0,1203.7 2971.5,1202.5 2973.0,1201.9 2976.0,1199.0 2977.5,1198.9 2979.0,1198.1 2982.0,1197.6 2985.0,1196.0 2986.5,1194.8 2988.0,1194.0 2989.5,1193.8 2991.0,1193.0 2992.5,1191.2 2995.5,1191.1 2997.0,1189.7 2998.5,1189.1 3000.0,1188.1 3001.5,1186.4 3003.0,1185.9 3004.5,1183.0 3007.5,1164.7 3009.0,1157.3 3010.5,1156.2 3012.0,1156.3 3013.5,1156.0 3016.5,1153.2 3018.0,1152.2 3019.5,1152.0 3024.0,1147.3 3025.5,1146.0 3027.0,1145.0 3030.0,1141.8 3033.0,1141.7 3034.5,1140.2 3036.0,1139.3 3037.5,1140.6 3039.0,1141.5 3040.5,1141.1 3042.0,1141.2 3043.5,1142.9 3045.0,1143.4 3046.5,1143.6 3049.5,1145.4 3051.0,1145.4 3054.0,1146.4 3055.5,1147.2 3057.0,1148.5 3058.5,1149.5 3060.0,1150.2 3061.5,1149.7 3063.0,1150.2 3064.5,1150.0 3066.0,1149.4 3067.5,1149.3 3069.0,1148.3 3070.5,1146.8 3073.5,1145.1 3075.0,1144.0 3076.5,1142.8 3079.5,1139.2 3081.0,1138.0 3082.5,1137.3 3084.0,1136.1 3085.5,1134.5 3088.5,1135.2 3090.0,1134.5 3091.5,1133.4 3094.5,1132.9 3096.0,1132.0 3097.5,1132.0 3100.5,1131.2 3102.0,1131.2 3103.5,1130.9 3105.0,1131.4 3108.0,1129.9 3109.5,1130.7 3111.0,1130.7 3112.5,1130.3 3114.0,1129.5 3115.5,1129.7 3120.0,1129.7 3121.5,1128.9 3123.0,1128.8 3126.0,1127.0 3127.5,1127.2 3135.0,1124.1 3136.5,1123.3 3138.0,1123.1 3139.5,1123.1 3142.0,1122.6 3142.0,1175.8 3141.0,1174.9 3139.5,1174.5 3138.0,1173.7 3135.0,1172.7 3132.0,1173.7 3129.0,1172.6 3126.0,1174.0 3124.5,1174.1 3123.0,1174.7 3120.0,1173.8 3118.5,1173.9 3115.5,1175.0 3114.0,1174.6 3112.5,1174.6 3111.0,1175.6 3109.5,1175.9 3108.0,1175.4 3105.0,1176.4 3103.5,1176.3 3100.5,1177.1 3099.0,1177.1 3097.5,1177.4 3096.0,1178.3 3093.0,1177.7 3091.5,1179.0 3090.0,1179.0 3088.5,1179.5 3085.5,1181.0 3084.0,1182.4 3081.0,1183.3 3079.5,1184.5 3076.5,1185.6 3075.0,1186.5 3073.5,1186.2 3072.0,1185.6 3070.5,1185.5 3069.0,1186.8 3067.5,1187.5 3066.0,1187.6 3064.5,1188.1 3063.0,1187.8 3061.5,1187.1 3060.0,1187.3 3058.5,1187.8 3057.0,1187.2 3054.0,1185.2 3051.0,1184.4 3049.5,1183.5 3046.5,1183.0 3045.0,1183.0 3043.5,1182.6 3039.0,1181.9 3037.5,1181.9 3036.0,1181.6 3031.5,1182.8 3030.0,1182.7 3028.5,1183.2 3027.0,1184.1 3025.5,1184.7 3024.0,1185.0 3022.5,1185.7 3021.0,1186.6 3018.0,1185.8 3016.5,1186.7 3015.0,1187.0 3013.5,1187.1 3009.0,1189.9 3004.5,1205.9 3003.0,1208.8 3000.0,1211.5 2998.5,1212.3 2997.0,1212.2 2995.5,1213.1 2994.0,1214.6 2991.0,1216.2 2988.0,1219.0 2985.0,1219.4 2983.5,1219.9 2979.0,1222.4 2976.0,1223.7 2974.5,1224.6 2973.0,1224.7 2971.5,1225.7 2970.0,1227.3 2967.0,1227.8 2958.0,1233.2 2956.5,1233.9 2955.0,1235.2 2952.0,1236.6 2950.5,1237.6 2947.5,1239.0 2946.0,1239.0 2943.0,1241.9 2941.5,1241.6 2940.0,1242.2 2938.5,1243.5 2935.5,1244.3 2934.0,1245.6 2931.0,1245.9 2929.5,1247.0 2926.5,1247.1 2923.5,1248.4 2919.0,1250.7 2917.5,1251.1 2916.0,1250.9 2913.0,1253.0 2911.5,1252.9 2908.5,1254.3 2904.0,1254.9 2899.5,1256.2 2896.5,1256.8 2895.0,1257.2 2893.5,1258.2 2892.0,1258.4 2890.5,1257.8 2886.0,1258.4 2881.5,1259.5 2880.0,1259.6 2877.0,1259.4 2874.0,1260.3 2865.0,1260.2 2863.5,1260.6 2862.0,1261.2 2860.5,1260.8 2859.0,1260.8 2856.0,1260.1 2854.5,1259.4 2853.0,1258.2 2851.5,1257.3 2847.0,1260.6 2845.5,1261.4 2844.0,1261.5 2841.0,1263.0 2839.5,1263.1 2838.0,1262.8 2835.0,1264.0 2833.5,1264.9 2830.5,1268.3 2829.0,1268.8 2824.5,1269.4 2823.0,1269.7 2818.5,1269.5 2817.0,1269.9 2814.0,1269.4 2812.5,1270.0 2811.0,1270.1 2806.5,1269.2 2805.0,1269.1 2802.0,1268.4 2800.5,1268.3 2799.0,1269.0 2796.0,1269.0 2794.5,1269.3 2791.5,1271.0 2790.0,1271.0 2788.5,1271.7 2787.0,1272.1 2785.5,1272.2 2782.5,1271.7 2779.5,1270.9 2775.0,1271.2 2772.0,1274.7 2770.5,1274.7 2767.5,1273.7 2764.5,1274.2 2763.0,1273.8 2760.0,1274.0 2757.0,1273.9 2752.5,1273.2 2749.5,1273.3 2748.0,1273.2 2746.5,1272.8 2745.0,1272.8 2743.5,1272.1 2742.0,1269.1 2740.5,1268.4 2736.0,1274.4 2734.5,1275.6 2730.0,1278.0 2725.5,1279.2 2722.5,1280.5 2719.5,1281.0 2718.0,1281.6 2716.5,1282.2 2712.0,1285.1 2710.5,1284.2 2709.0,1281.1 2707.5,1281.0 2701.5,1279.5 2698.5,1279.6 2697.0,1279.2 2695.5,1281.7 2694.0,1287.8 2692.5,1287.8 2688.0,1288.5 2683.5,1288.5 2682.0,1288.9 2680.5,1289.1 2676.0,1289.2 2673.0,1289.7 2670.0,1289.8 2662.5,1290.9 2661.0,1290.8" fill="url(#g-pc)"/>
<polygon points="231.0,1298.6 235.5,1298.3 240.0,1298.3 243.0,1298.6 246.0,1298.4 252.0,1298.6 259.5,1298.7 267.0,1298.5 271.5,1298.7 280.5,1298.6 291.0,1298.4 292.5,1298.6 297.0,1298.5 304.5,1298.7 307.5,1298.3 315.0,1298.7 318.0,1298.4 321.0,1298.6 324.0,1298.5 327.0,1298.8 339.0,1298.4 345.0,1298.7 354.0,1298.4 361.5,1298.7 367.5,1298.4 379.5,1298.6 382.5,1298.6 385.5,1298.3 387.0,1298.5 391.5,1298.6 399.0,1298.2 402.0,1298.5 406.5,1298.4 408.0,1298.6 411.0,1298.4 417.0,1298.7 424.5,1298.3 429.0,1298.5 430.5,1298.3 433.5,1298.4 436.5,1298.3 442.5,1298.6 447.0,1298.3 450.0,1298.5 456.0,1298.5 465.0,1298.3 466.5,1298.5 469.5,1298.3 477.0,1298.5 495.0,1298.4 498.0,1298.5 507.0,1298.3 511.5,1298.5 514.5,1298.2 522.0,1298.6 525.0,1298.2 528.0,1298.5 538.5,1298.2 541.5,1298.4 552.0,1298.3 556.5,1298.5 562.5,1298.3 568.5,1298.4 571.5,1298.2 574.5,1298.5 576.0,1298.5 577.5,1298.2 582.0,1298.2 585.0,1298.7 588.0,1298.3 594.0,1298.5 597.0,1298.2 600.0,1298.4 603.0,1298.2 604.5,1298.4 606.0,1298.2 612.0,1298.5 618.0,1298.2 621.0,1298.3 627.0,1298.0 631.5,1298.3 636.0,1298.2 639.0,1298.4 646.5,1298.1 657.0,1298.5 661.5,1298.2 666.0,1298.4 673.5,1298.4 681.0,1298.1 685.5,1298.4 691.5,1298.4 694.5,1298.1 699.0,1298.3 700.5,1298.2 703.5,1298.4 708.0,1298.1 711.0,1298.3 715.5,1298.1 723.0,1298.3 730.5,1298.1 735.0,1298.3 738.0,1298.1 741.0,1298.4 744.0,1298.0 748.5,1298.5 751.5,1298.2 759.0,1298.0 766.5,1298.3 771.0,1298.0 774.0,1298.3 775.5,1298.1 780.0,1298.1 781.5,1298.2 792.0,1298.1 793.5,1298.0 798.0,1298.3 801.0,1298.0 805.5,1298.3 808.5,1298.1 810.0,1298.2 816.0,1297.9 822.0,1298.2 829.5,1297.8 837.0,1298.1 841.5,1297.8 849.0,1298.2 856.5,1298.0 862.5,1298.2 865.5,1297.9 868.5,1298.1 888.0,1297.9 892.5,1298.1 895.5,1297.8 898.5,1297.8 901.5,1298.0 906.0,1297.8 918.0,1298.0 921.0,1297.8 930.0,1297.7 936.0,1298.0 939.0,1297.5 942.0,1297.9 945.0,1297.7 948.0,1297.9 951.0,1297.7 957.0,1297.8 960.0,1297.6 969.0,1297.9 975.0,1297.6 979.5,1297.8 984.0,1297.6 1002.0,1297.8 1006.5,1297.4 1009.5,1297.7 1015.5,1297.6 1018.5,1297.8 1023.0,1297.8 1026.0,1297.4 1036.5,1297.7 1038.0,1297.4 1045.5,1297.6 1047.0,1297.4 1050.0,1297.7 1057.5,1297.7 1062.0,1297.2 1068.0,1297.6 1072.5,1297.3 1077.0,1297.5 1080.0,1297.3 1087.5,1297.5 1090.5,1297.3 1098.0,1297.3 1101.0,1297.5 1104.0,1297.3 1110.0,1297.3 1116.0,1297.6 1119.0,1297.4 1122.0,1297.6 1131.0,1297.4 1134.0,1297.5 1138.5,1297.3 1140.0,1297.5 1146.0,1297.2 1150.5,1297.5 1153.5,1297.4 1156.5,1297.0 1159.5,1297.5 1161.0,1297.6 1165.5,1297.1 1177.5,1297.4 1186.5,1297.1 1192.5,1297.4 1195.5,1297.2 1213.5,1297.2 1216.5,1297.4 1219.5,1297.0 1222.5,1297.4 1224.0,1296.6 1225.5,1294.2 1227.0,1293.4 1237.5,1293.4 1240.5,1293.6 1245.0,1293.3 1248.0,1293.5 1249.5,1293.4 1252.5,1293.8 1255.5,1293.6 1258.5,1293.8 1260.0,1293.5 1263.0,1293.6 1264.5,1293.5 1266.0,1293.8 1269.0,1293.5 1272.0,1293.7 1273.5,1293.6 1276.5,1293.9 1297.5,1293.9 1302.0,1294.2 1305.0,1293.9 1309.5,1293.9 1312.5,1294.1 1315.5,1293.9 1320.0,1294.2 1323.0,1294.1 1326.0,1295.3 1329.0,1294.9 1335.0,1295.1 1342.5,1294.9 1347.0,1295.1 1353.0,1294.7 1359.0,1295.1 1369.5,1294.7 1372.5,1294.9 1380.0,1294.7 1384.5,1294.9 1387.5,1294.6 1393.5,1294.7 1399.5,1294.5 1405.5,1294.6 1413.0,1294.5 1417.5,1294.6 1420.5,1294.3 1426.5,1294.5 1432.5,1294.2 1440.0,1294.5 1447.5,1294.4 1449.0,1294.2 1452.0,1294.5 1455.0,1294.3 1456.5,1294.5 1461.0,1294.2 1465.5,1294.2 1467.0,1294.5 1470.0,1294.1 1486.5,1294.4 1491.0,1294.1 1495.5,1294.3 1501.5,1294.1 1512.0,1294.3 1515.0,1294.0 1519.5,1294.1 1521.0,1294.0 1522.5,1293.7 1525.5,1292.3 1536.0,1292.6 1539.0,1292.3 1542.0,1292.5 1548.0,1292.3 1552.5,1292.6 1554.0,1292.6 1557.0,1292.2 1560.0,1292.4 1563.0,1292.3 1572.0,1292.4 1575.0,1292.3 1578.0,1292.4 1588.5,1292.2 1596.0,1292.5 1606.5,1292.3 1609.5,1292.5 1615.5,1292.2 1618.5,1292.4 1624.5,1293.5 1626.0,1293.3 1632.0,1293.7 1633.5,1293.4 1636.5,1293.5 1644.0,1293.3 1654.5,1293.6 1663.5,1293.2 1669.5,1293.5 1680.0,1293.2 1683.0,1293.5 1692.0,1293.3 1704.0,1293.6 1705.5,1293.3 1710.0,1293.3 1713.0,1293.6 1717.5,1293.2 1719.0,1293.5 1722.0,1294.6 1723.5,1294.7 1737.0,1294.3 1741.5,1294.6 1744.5,1294.4 1747.5,1294.6 1750.5,1294.4 1753.5,1294.7 1756.5,1294.3 1762.5,1294.7 1770.0,1294.4 1774.5,1294.8 1779.0,1294.5 1785.0,1294.7 1788.0,1294.4 1791.0,1294.7 1794.0,1294.4 1800.0,1294.7 1804.5,1294.4 1810.5,1294.7 1818.0,1294.5 1822.5,1294.7 1833.0,1294.5 1840.5,1294.5 1842.0,1294.7 1845.0,1294.5 1860.0,1294.8 1866.0,1294.6 1869.0,1294.9 1873.5,1294.6 1885.5,1294.7 1890.0,1294.5 1893.0,1294.7 1903.5,1294.5 1908.0,1294.7 1911.0,1294.5 1918.5,1294.8 1921.5,1294.4 1924.5,1294.7 1926.0,1294.4 1938.0,1294.8 1941.0,1294.6 1944.0,1294.7 1947.0,1294.5 1948.5,1294.7 1951.5,1294.5 1956.0,1294.5 1957.5,1294.8 1960.5,1294.6 1963.5,1294.8 1972.5,1294.7 1974.0,1294.6 1978.5,1294.7 1990.5,1294.6 1992.0,1294.8 1995.0,1294.6 1996.5,1294.8 1999.5,1294.4 2002.5,1294.9 2004.0,1295.0 2007.0,1294.6 2011.5,1294.6 2013.0,1294.7 2016.0,1295.5 2017.5,1295.6 2020.5,1295.4 2028.0,1295.5 2029.5,1295.3 2038.5,1295.4 2044.5,1295.3 2049.0,1295.4 2052.0,1295.2 2055.0,1295.4 2073.0,1295.2 2082.0,1295.5 2094.0,1295.4 2095.5,1295.0 2098.5,1295.3 2101.5,1295.3 2104.5,1294.9 2110.5,1295.3 2116.5,1295.1 2119.5,1295.4 2127.0,1295.2 2130.0,1295.5 2137.5,1295.0 2148.0,1295.2 2157.0,1294.9 2166.0,1295.2 2170.5,1294.9 2176.5,1295.3 2184.0,1294.8 2194.5,1295.2 2200.5,1294.9 2203.5,1295.1 2221.5,1295.1 2226.0,1294.8 2235.0,1295.0 2238.0,1295.2 2244.0,1294.8 2247.0,1295.2 2251.5,1294.8 2256.0,1295.1 2265.0,1294.9 2271.0,1295.1 2275.5,1294.9 2280.0,1295.1 2283.0,1295.0 2286.0,1295.2 2290.5,1294.9 2293.5,1295.0 2296.5,1294.8 2298.0,1295.0 2299.5,1294.6 2301.0,1293.7 2302.5,1293.3 2305.5,1293.2 2308.5,1293.5 2311.5,1293.3 2313.0,1293.5 2316.0,1293.1 2326.5,1293.4 2338.5,1293.2 2347.5,1293.4 2350.5,1293.2 2352.0,1293.4 2359.5,1293.1 2362.5,1293.3 2368.5,1293.3 2373.0,1293.0 2374.5,1293.3 2377.5,1293.3 2379.0,1293.6 2382.0,1293.2 2385.0,1293.3 2388.0,1293.1 2391.0,1293.3 2394.0,1293.2 2397.0,1293.4 2403.0,1293.3 2406.0,1293.5 2409.0,1293.3 2412.0,1293.4 2419.5,1293.1 2422.5,1293.4 2427.0,1293.2 2434.5,1293.4 2440.5,1293.0 2449.5,1293.5 2452.5,1293.2 2460.0,1293.5 2464.5,1293.0 2467.5,1293.4 2470.5,1293.1 2472.0,1293.4 2475.0,1293.2 2478.0,1293.6 2482.5,1293.2 2485.5,1293.3 2488.5,1293.1 2493.0,1293.6 2494.5,1293.5 2496.0,1293.1 2499.0,1293.5 2503.5,1293.2 2505.0,1293.4 2508.0,1293.2 2512.5,1293.4 2523.0,1293.2 2529.0,1292.8 2532.0,1293.0 2536.5,1292.7 2541.0,1292.8 2545.5,1292.5 2548.5,1292.7 2553.0,1292.5 2554.5,1292.7 2560.5,1292.1 2563.5,1292.4 2572.5,1292.2 2578.5,1291.9 2581.5,1292.2 2586.0,1291.8 2590.5,1291.9 2596.5,1291.5 2602.5,1291.4 2605.5,1291.6 2613.0,1291.3 2626.5,1291.3 2628.0,1291.1 2631.0,1291.4 2638.5,1291.0 2641.5,1291.2 2646.0,1291.1 2653.5,1291.3 2656.5,1290.8 2662.5,1290.9 2670.0,1289.8 2673.0,1289.7 2676.0,1289.2 2680.5,1289.1 2682.0,1288.9 2683.5,1288.5 2688.0,1288.5 2692.5,1287.8 2694.0,1287.8 2695.5,1281.7 2697.0,1279.2 2698.5,1279.6 2701.5,1279.5 2707.5,1281.0 2709.0,1281.1 2710.5,1284.2 2712.0,1285.1 2716.5,1282.2 2718.0,1281.6 2719.5,1281.0 2722.5,1280.5 2725.5,1279.2 2730.0,1278.0 2734.5,1275.6 2736.0,1274.4 2740.5,1268.4 2742.0,1269.1 2743.5,1272.1 2745.0,1272.8 2746.5,1272.8 2748.0,1273.2 2749.5,1273.3 2752.5,1273.2 2757.0,1273.9 2760.0,1274.0 2763.0,1273.8 2764.5,1274.2 2767.5,1273.7 2770.5,1274.7 2772.0,1274.7 2775.0,1271.2 2779.5,1270.9 2782.5,1271.7 2785.5,1272.2 2787.0,1272.1 2788.5,1271.7 2790.0,1271.0 2791.5,1271.0 2794.5,1269.3 2796.0,1269.0 2799.0,1269.0 2800.5,1268.3 2802.0,1268.4 2805.0,1269.1 2806.5,1269.2 2811.0,1270.1 2812.5,1270.0 2814.0,1269.4 2817.0,1269.9 2818.5,1269.5 2823.0,1269.7 2824.5,1269.4 2829.0,1268.8 2830.5,1268.3 2833.5,1264.9 2835.0,1264.0 2838.0,1262.8 2839.5,1263.1 2841.0,1263.0 2844.0,1261.5 2845.5,1261.4 2847.0,1260.6 2851.5,1257.3 2853.0,1258.2 2854.5,1259.4 2856.0,1260.1 2859.0,1260.8 2860.5,1260.8 2862.0,1261.2 2863.5,1260.6 2865.0,1260.2 2874.0,1260.3 2877.0,1259.4 2880.0,1259.6 2881.5,1259.5 2886.0,1258.4 2890.5,1257.8 2892.0,1258.4 2893.5,1258.2 2895.0,1257.2 2896.5,1256.8 2899.5,1256.2 2904.0,1254.9 2908.5,1254.3 2911.5,1252.9 2913.0,1253.0 2916.0,1250.9 2917.5,1251.1 2919.0,1250.7 2923.5,1248.4 2926.5,1247.1 2929.5,1247.0 2931.0,1245.9 2934.0,1245.6 2935.5,1244.3 2938.5,1243.5 2940.0,1242.2 2941.5,1241.6 2943.0,1241.9 2946.0,1239.0 2947.5,1239.0 2950.5,1237.6 2952.0,1236.6 2955.0,1235.2 2956.5,1233.9 2958.0,1233.2 2967.0,1227.8 2970.0,1227.3 2971.5,1225.7 2973.0,1224.7 2974.5,1224.6 2976.0,1223.7 2979.0,1222.4 2983.5,1219.9 2985.0,1219.4 2988.0,1219.0 2991.0,1216.2 2994.0,1214.6 2995.5,1213.1 2997.0,1212.2 2998.5,1212.3 3000.0,1211.5 3003.0,1208.8 3004.5,1205.9 3009.0,1189.9 3013.5,1187.1 3015.0,1187.0 3016.5,1186.7 3018.0,1185.8 3021.0,1186.6 3022.5,1185.7 3024.0,1185.0 3025.5,1184.7 3027.0,1184.1 3028.5,1183.2 3030.0,1182.7 3031.5,1182.8 3036.0,1181.6 3037.5,1181.9 3039.0,1181.9 3043.5,1182.6 3045.0,1183.0 3046.5,1183.0 3049.5,1183.5 3051.0,1184.4 3054.0,1185.2 3057.0,1187.2 3058.5,1187.8 3060.0,1187.3 3061.5,1187.1 3063.0,1187.8 3064.5,1188.1 3066.0,1187.6 3067.5,1187.5 3069.0,1186.8 3070.5,1185.5 3072.0,1185.6 3073.5,1186.2 3075.0,1186.5 3076.5,1185.6 3079.5,1184.5 3081.0,1183.3 3084.0,1182.4 3085.5,1181.0 3088.5,1179.5 3090.0,1179.0 3091.5,1179.0 3093.0,1177.7 3096.0,1178.3 3097.5,1177.4 3099.0,1177.1 3100.5,1177.1 3103.5,1176.3 3105.0,1176.4 3108.0,1175.4 3109.5,1175.9 3111.0,1175.6 3112.5,1174.6 3114.0,1174.6 3115.5,1175.0 3118.5,1173.9 3120.0,1173.8 3123.0,1174.7 3124.5,1174.1 3126.0,1174.0 3129.0,1172.6 3132.0,1173.7 3135.0,1172.7 3138.0,1173.7 3139.5,1174.5 3141.0,1174.9 3142.0,1175.8 3142.0,1214.2 3139.5,1213.9 3138.0,1214.2 3135.0,1214.0 3132.0,1214.4 3130.5,1214.9 3129.0,1215.8 3127.5,1216.2 3121.5,1216.7 3120.0,1217.3 3118.5,1218.4 3117.0,1218.3 3115.5,1218.9 3114.0,1219.7 3109.5,1220.3 3108.0,1220.8 3105.0,1221.2 3103.5,1221.7 3102.0,1221.6 3099.0,1223.0 3097.5,1222.9 3096.0,1223.2 3093.0,1224.5 3088.5,1225.4 3087.0,1226.1 3085.5,1227.2 3084.0,1227.4 3082.5,1227.9 3081.0,1229.3 3079.5,1230.3 3078.0,1230.7 3075.0,1230.9 3072.0,1232.0 3069.0,1232.4 3063.0,1235.4 3061.5,1235.3 3058.5,1233.4 3055.5,1232.6 3054.0,1232.7 3052.5,1232.4 3051.0,1231.8 3049.5,1230.9 3046.5,1231.0 3045.0,1230.6 3042.0,1230.3 3040.5,1229.4 3039.0,1229.0 3037.5,1229.0 3036.0,1228.5 3034.5,1228.2 3031.5,1228.1 3030.0,1228.7 3028.5,1228.6 3027.0,1227.6 3025.5,1227.5 3024.0,1228.4 3021.0,1227.9 3019.5,1228.5 3015.0,1226.8 3013.5,1226.5 3012.0,1226.7 3009.0,1225.9 3007.5,1231.2 3004.5,1245.3 3003.0,1247.2 3001.5,1248.1 2998.5,1247.8 2997.0,1248.3 2994.0,1248.3 2991.0,1248.6 2989.5,1248.9 2988.0,1249.6 2986.5,1249.7 2985.0,1249.3 2983.5,1250.0 2982.0,1250.9 2979.0,1250.9 2977.5,1251.8 2976.0,1252.4 2974.5,1252.7 2971.5,1253.8 2970.0,1253.8 2968.5,1254.1 2967.0,1255.1 2964.0,1255.4 2961.0,1258.2 2959.5,1258.6 2958.0,1258.3 2956.5,1258.4 2955.0,1259.0 2953.5,1258.8 2950.5,1259.4 2949.0,1259.4 2947.5,1260.3 2946.0,1260.4 2944.5,1260.0 2941.5,1260.0 2938.5,1260.8 2937.0,1260.9 2935.5,1261.7 2934.0,1262.1 2932.5,1261.3 2931.0,1261.3 2929.5,1260.8 2928.0,1260.5 2926.5,1261.2 2925.0,1261.4 2922.0,1262.3 2920.5,1262.5 2917.5,1264.3 2916.0,1264.6 2914.5,1264.7 2913.0,1265.5 2911.5,1266.6 2910.0,1267.0 2907.0,1267.2 2901.0,1268.7 2898.0,1268.2 2895.0,1269.7 2892.0,1269.0 2890.5,1269.3 2889.0,1269.4 2886.0,1270.4 2884.5,1269.7 2883.0,1270.0 2881.5,1271.1 2880.0,1271.0 2878.5,1270.4 2877.0,1271.1 2875.5,1270.9 2874.0,1270.2 2872.5,1270.3 2871.0,1269.9 2869.5,1270.0 2866.5,1269.7 2863.5,1270.3 2862.0,1270.4 2860.5,1269.8 2859.0,1269.8 2857.5,1270.2 2856.0,1271.1 2851.5,1269.0 2847.0,1269.7 2845.5,1270.2 2844.0,1271.0 2841.0,1270.8 2836.5,1272.0 2835.0,1272.7 2833.5,1274.4 2830.5,1276.6 2829.0,1277.1 2827.5,1277.0 2824.5,1277.9 2821.5,1277.8 2820.0,1277.4 2817.0,1277.3 2815.5,1276.8 2814.0,1277.1 2812.5,1277.7 2809.5,1276.8 2808.0,1276.8 2805.0,1276.2 2802.0,1276.1 2800.5,1275.7 2797.5,1276.7 2796.0,1276.8 2794.5,1277.3 2791.5,1278.8 2790.0,1279.2 2788.5,1279.2 2787.0,1279.6 2785.5,1280.3 2781.0,1279.2 2779.5,1278.2 2778.0,1277.4 2776.5,1277.0 2775.0,1277.6 2772.0,1282.2 2770.5,1282.0 2767.5,1282.1 2766.0,1281.8 2764.5,1281.1 2763.0,1281.0 2760.0,1281.0 2758.5,1280.6 2755.5,1280.9 2749.5,1280.1 2748.0,1279.8 2745.0,1279.8 2743.5,1278.9 2742.0,1276.3 2740.5,1275.3 2739.0,1276.5 2734.5,1281.2 2733.0,1281.9 2731.5,1282.1 2728.5,1283.7 2724.0,1285.1 2721.0,1285.1 2719.5,1285.5 2716.5,1285.6 2712.0,1288.2 2710.5,1288.3 2707.5,1286.8 2704.5,1286.1 2703.0,1285.5 2697.0,1285.2 2695.5,1287.5 2694.0,1293.9 2685.0,1293.9 2677.5,1294.3 2673.0,1294.4 2659.5,1295.5 2656.5,1295.3 2646.0,1295.7 2632.5,1295.8 2622.0,1296.3 2619.0,1296.0 2613.0,1296.3 2605.5,1296.3 2602.5,1296.5 2599.5,1296.5 2596.5,1296.6 2593.5,1296.5 2587.5,1296.8 2580.0,1296.6 2575.5,1297.1 2560.5,1297.1 2557.5,1297.4 2551.5,1297.2 2532.0,1297.8 2520.0,1297.7 2514.0,1298.0 2494.5,1298.1 2488.5,1297.9 2482.5,1298.0 2479.5,1297.9 2476.5,1298.1 2469.0,1297.7 2464.5,1297.9 2461.5,1298.2 2458.5,1297.9 2454.0,1298.1 2449.5,1297.8 2448.0,1298.1 2430.0,1297.7 2424.0,1298.2 2419.5,1298.1 2416.5,1297.8 2415.0,1298.1 2412.0,1297.9 2401.5,1298.1 2398.5,1297.7 2395.5,1298.1 2391.0,1298.0 2386.5,1298.1 2382.0,1297.9 2371.5,1298.2 2368.5,1298.0 2367.0,1298.2 2364.0,1298.0 2355.0,1298.0 2350.5,1297.9 2349.0,1298.1 2334.0,1298.1 2328.0,1297.9 2320.5,1298.2 2314.5,1298.2 2308.5,1298.1 2307.0,1297.7 2304.0,1298.2 2299.5,1298.0 2295.0,1298.3 2287.5,1298.0 2277.0,1298.1 2275.5,1297.8 2269.5,1298.2 2266.5,1298.0 2260.5,1298.1 2257.5,1297.9 2256.0,1298.1 2247.0,1298.2 2242.5,1298.0 2238.0,1298.2 2235.0,1297.9 2232.0,1298.2 2218.5,1298.0 2217.0,1298.2 2212.5,1298.0 2209.5,1298.2 2202.0,1297.9 2197.5,1298.2 2190.0,1297.9 2187.0,1298.2 2178.0,1298.0 2175.0,1298.2 2167.5,1298.2 2163.0,1298.0 2160.0,1298.3 2157.0,1298.2 2152.5,1298.3 2149.5,1298.1 2148.0,1298.2 2145.0,1298.1 2137.5,1298.3 2130.0,1297.9 2128.5,1298.1 2122.5,1298.3 2121.0,1298.1 2113.5,1298.3 2109.0,1298.1 2104.5,1298.3 2101.5,1298.0 2100.0,1298.1 2089.5,1298.4 2088.0,1298.4 2086.5,1298.0 2082.0,1298.4 2076.0,1298.1 2073.0,1298.3 2070.0,1298.1 2067.0,1298.3 2064.0,1298.0 2061.0,1298.4 2056.5,1298.0 2053.5,1298.3 2046.0,1298.1 2040.0,1298.4 2032.5,1298.1 2029.5,1298.4 2028.0,1298.2 2019.0,1298.4 2013.0,1298.1 2007.0,1298.3 2004.0,1298.3 2001.0,1298.0 1998.0,1298.3 1993.5,1298.4 1984.5,1298.4 1978.5,1298.1 1975.5,1298.4 1968.0,1298.2 1956.0,1298.4 1951.5,1298.2 1941.0,1298.3 1938.0,1298.6 1935.0,1298.3 1933.5,1298.5 1930.5,1298.2 1927.5,1298.4 1920.0,1298.3 1915.5,1298.5 1911.0,1298.1 1908.0,1298.8 1906.5,1298.8 1888.5,1298.8 1882.5,1298.4 1881.0,1298.7 1876.5,1298.7 1875.0,1298.4 1872.0,1298.6 1864.5,1298.8 1852.5,1298.7 1849.5,1298.6 1848.0,1298.4 1845.0,1298.7 1837.5,1298.8 1834.5,1298.5 1831.5,1298.7 1827.0,1298.6 1810.5,1298.8 1804.5,1298.6 1801.5,1298.8 1794.0,1298.8 1791.0,1298.5 1777.5,1298.8 1773.0,1298.8 1771.5,1298.5 1767.0,1298.8 1764.0,1298.5 1758.0,1298.5 1747.5,1298.8 1734.0,1298.5 1731.0,1298.8 1728.0,1298.5 1725.0,1298.7 1722.0,1298.4 1720.5,1298.7 1719.0,1298.8 1713.0,1298.6 1710.0,1298.8 1705.5,1298.8 1702.5,1298.6 1699.5,1298.8 1695.0,1298.6 1692.0,1298.8 1687.5,1298.6 1680.0,1298.8 1675.5,1298.6 1663.5,1298.8 1656.0,1298.5 1654.5,1298.8 1653.0,1298.8 1645.5,1298.6 1633.5,1298.8 1629.0,1298.4 1624.5,1298.8 1615.5,1298.8 1614.0,1298.6 1611.0,1298.8 1609.5,1298.6 1605.0,1298.5 1602.0,1298.7 1599.0,1298.5 1596.0,1298.7 1593.0,1298.5 1590.0,1298.8 1578.0,1298.8 1570.5,1298.5 1555.5,1298.8 1552.5,1298.6 1546.5,1298.8 1542.0,1298.6 1534.5,1298.8 1528.5,1298.7 1524.0,1298.8 1522.5,1298.5 1515.0,1298.8 1510.5,1298.8 1504.5,1298.4 1501.5,1298.8 1485.0,1298.7 1476.0,1298.8 1470.0,1298.5 1467.0,1298.8 1459.5,1298.5 1456.5,1298.8 1438.5,1298.8 1429.5,1298.6 1408.5,1298.8 1402.5,1298.6 1401.0,1298.7 1395.0,1298.6 1392.0,1298.8 1387.5,1298.5 1384.5,1298.7 1378.5,1298.7 1374.0,1298.5 1369.5,1298.8 1363.5,1298.5 1360.5,1298.8 1344.0,1298.6 1338.0,1298.8 1332.0,1298.6 1311.0,1298.8 1296.0,1298.6 1293.0,1298.7 1284.0,1298.7 1281.0,1298.4 1279.5,1298.7 1278.0,1298.8 1270.5,1298.7 1267.5,1298.8 1257.0,1298.6 1249.5,1298.8 1245.0,1298.5 1237.5,1298.8 1230.0,1298.7 1225.5,1298.5 1224.0,1298.7 1221.0,1298.5 1212.0,1298.8 1206.0,1298.6 1201.5,1298.8 1197.0,1298.6 1194.0,1298.8 1191.0,1298.6 1188.0,1298.8 1182.0,1298.6 1176.0,1298.8 1173.0,1298.6 1170.0,1298.8 1165.5,1298.7 1164.0,1298.5 1161.0,1298.7 1143.0,1298.8 1135.5,1298.4 1132.5,1298.7 1128.0,1298.8 1120.5,1298.5 1116.0,1298.8 1108.5,1298.8 1107.0,1298.6 1099.5,1298.8 1093.5,1298.6 1092.0,1298.8 1080.0,1298.6 1074.0,1298.8 1071.0,1298.6 1062.0,1298.8 1054.5,1298.6 1051.5,1298.7 1045.5,1298.6 1027.5,1298.8 1024.5,1298.6 1023.0,1298.8 1020.0,1298.5 1017.0,1298.8 1015.5,1298.6 1014.0,1298.8 993.0,1298.6 978.0,1298.8 972.0,1298.6 967.5,1298.8 958.5,1298.5 955.5,1298.8 952.5,1298.7 949.5,1298.8 946.5,1298.6 943.5,1298.8 940.5,1298.4 934.5,1298.8 928.5,1298.7 927.0,1298.4 924.0,1298.7 916.5,1298.6 913.5,1298.8 910.5,1298.6 903.0,1298.8 898.5,1298.3 897.0,1298.4 895.5,1298.7 889.5,1298.6 886.5,1298.8 882.0,1298.5 879.0,1298.7 867.0,1298.8 862.5,1298.7 855.0,1298.8 852.0,1298.4 849.0,1298.8 846.0,1298.8 843.0,1298.5 840.0,1298.7 835.5,1298.8 832.5,1298.6 828.0,1298.8 817.5,1298.7 816.0,1298.8 807.0,1298.6 792.0,1298.8 786.0,1298.5 784.5,1298.7 780.0,1298.8 760.5,1298.8 757.5,1298.6 756.0,1298.8 753.0,1298.6 747.0,1298.7 744.0,1298.6 723.0,1298.8 718.5,1298.5 715.5,1298.8 714.0,1298.6 711.0,1298.7 708.0,1298.5 702.0,1298.8 696.0,1298.7 693.0,1298.5 687.0,1298.8 684.0,1298.3 678.0,1298.8 673.5,1298.6 670.5,1298.8 649.5,1298.6 645.0,1298.7 639.0,1298.5 636.0,1298.7 615.0,1298.8 609.0,1298.7 583.5,1298.8 580.5,1298.6 565.5,1298.8 561.0,1298.8 558.0,1298.5 553.5,1298.8 549.0,1298.5 546.0,1298.7 541.5,1298.6 535.5,1298.8 529.5,1298.6 523.5,1298.8 517.5,1298.6 504.0,1298.7 501.0,1298.5 489.0,1298.8 486.0,1298.6 483.0,1298.8 478.5,1298.8 477.0,1298.5 471.0,1298.8 468.0,1298.6 460.5,1298.8 453.0,1298.7 451.5,1298.5 448.5,1298.8 424.5,1298.6 414.0,1298.8 412.5,1298.6 406.5,1298.8 403.5,1298.6 397.5,1298.7 396.0,1298.6 393.0,1298.8 375.0,1298.8 372.0,1298.6 369.0,1298.8 354.0,1298.8 351.0,1298.5 346.5,1298.8 337.5,1298.5 334.5,1298.8 319.5,1298.6 297.0,1298.8 294.0,1298.7 291.0,1298.4 286.5,1298.8 277.5,1298.6 271.5,1298.8 268.5,1298.6 267.0,1298.7 262.5,1298.6 255.0,1298.8 231.0,1298.7" fill="url(#g-ia)"/>
<polygon points="2481.0,1297.9 2488.5,1297.9 2494.5,1298.1 2514.0,1298.0 2520.0,1297.7 2532.0,1297.8 2551.5,1297.2 2557.5,1297.4 2560.5,1297.1 2575.5,1297.1 2580.0,1296.6 2587.5,1296.8 2593.5,1296.5 2596.5,1296.6 2599.5,1296.5 2602.5,1296.5 2605.5,1296.3 2613.0,1296.3 2619.0,1296.0 2622.0,1296.3 2637.0,1295.6 2646.0,1295.7 2656.5,1295.3 2659.5,1295.5 2673.0,1294.4 2677.5,1294.3 2685.0,1293.9 2694.0,1293.9 2695.5,1287.5 2697.0,1285.2 2703.0,1285.5 2704.5,1286.1 2707.5,1286.8 2710.5,1288.3 2712.0,1288.2 2716.5,1285.6 2719.5,1285.5 2721.0,1285.1 2724.0,1285.1 2728.5,1283.7 2731.5,1282.1 2733.0,1281.9 2734.5,1281.2 2739.0,1276.5 2740.5,1275.3 2742.0,1276.3 2743.5,1278.9 2745.0,1279.8 2748.0,1279.8 2749.5,1280.1 2755.5,1280.9 2758.5,1280.6 2760.0,1281.0 2763.0,1281.0 2764.5,1281.1 2766.0,1281.8 2767.5,1282.1 2770.5,1282.0 2772.0,1282.2 2775.0,1277.6 2776.5,1277.0 2778.0,1277.4 2779.5,1278.2 2781.0,1279.2 2785.5,1280.3 2787.0,1279.6 2788.5,1279.2 2790.0,1279.2 2791.5,1278.8 2794.5,1277.3 2796.0,1276.8 2797.5,1276.7 2800.5,1275.7 2802.0,1276.1 2805.0,1276.2 2808.0,1276.8 2809.5,1276.8 2812.5,1277.7 2814.0,1277.1 2815.5,1276.8 2817.0,1277.3 2820.0,1277.4 2821.5,1277.8 2824.5,1277.9 2827.5,1277.0 2829.0,1277.1 2830.5,1276.6 2833.5,1274.4 2835.0,1272.7 2836.5,1272.0 2841.0,1270.8 2844.0,1271.0 2845.5,1270.2 2847.0,1269.7 2851.5,1269.0 2856.0,1271.1 2857.5,1270.2 2859.0,1269.8 2860.5,1269.8 2862.0,1270.4 2863.5,1270.3 2866.5,1269.7 2869.5,1270.0 2871.0,1269.9 2872.5,1270.3 2874.0,1270.2 2875.5,1270.9 2877.0,1271.1 2878.5,1270.4 2880.0,1271.0 2881.5,1271.1 2883.0,1270.0 2884.5,1269.7 2886.0,1270.4 2889.0,1269.4 2890.5,1269.3 2892.0,1269.0 2895.0,1269.7 2898.0,1268.2 2901.0,1268.7 2907.0,1267.2 2910.0,1267.0 2911.5,1266.6 2913.0,1265.5 2914.5,1264.7 2916.0,1264.6 2917.5,1264.3 2920.5,1262.5 2922.0,1262.3 2925.0,1261.4 2926.5,1261.2 2928.0,1260.5 2929.5,1260.8 2931.0,1261.3 2932.5,1261.3 2934.0,1262.1 2935.5,1261.7 2937.0,1260.9 2938.5,1260.8 2941.5,1260.0 2944.5,1260.0 2946.0,1260.4 2947.5,1260.3 2949.0,1259.4 2950.5,1259.4 2953.5,1258.8 2955.0,1259.0 2956.5,1258.4 2958.0,1258.3 2959.5,1258.6 2961.0,1258.2 2964.0,1255.4 2967.0,1255.1 2968.5,1254.1 2970.0,1253.8 2971.5,1253.8 2974.5,1252.7 2976.0,1252.4 2977.5,1251.8 2979.0,1250.9 2982.0,1250.9 2983.5,1250.0 2985.0,1249.3 2986.5,1249.7 2988.0,1249.6 2989.5,1248.9 2991.0,1248.6 2994.0,1248.3 2997.0,1248.3 2998.5,1247.8 3001.5,1248.1 3003.0,1247.2 3004.5,1245.3 3007.5,1231.2 3009.0,1225.9 3012.0,1226.7 3013.5,1226.5 3015.0,1226.8 3019.5,1228.5 3021.0,1227.9 3024.0,1228.4 3025.5,1227.5 3027.0,1227.6 3028.5,1228.6 3030.0,1228.7 3031.5,1228.1 3034.5,1228.2 3036.0,1228.5 3037.5,1229.0 3039.0,1229.0 3040.5,1229.4 3042.0,1230.3 3045.0,1230.6 3046.5,1231.0 3049.5,1230.9 3051.0,1231.8 3052.5,1232.4 3054.0,1232.7 3055.5,1232.6 3058.5,1233.4 3061.5,1235.3 3063.0,1235.4 3069.0,1232.4 3072.0,1232.0 3075.0,1230.9 3078.0,1230.7 3079.5,1230.3 3081.0,1229.3 3082.5,1227.9 3084.0,1227.4 3085.5,1227.2 3087.0,1226.1 3088.5,1225.4 3093.0,1224.5 3096.0,1223.2 3097.5,1222.9 3099.0,1223.0 3102.0,1221.6 3103.5,1221.7 3105.0,1221.2 3108.0,1220.8 3109.5,1220.3 3114.0,1219.7 3115.5,1218.9 3117.0,1218.3 3118.5,1218.4 3120.0,1217.3 3121.5,1216.7 3127.5,1216.2 3129.0,1215.8 3130.5,1214.9 3132.0,1214.4 3135.0,1214.0 3138.0,1214.2 3139.5,1213.9 3142.0,1214.2 3142.0,1244.4 3141.0,1244.4 3139.5,1244.0 3138.0,1244.2 3136.5,1244.0 3133.5,1244.5 3130.5,1244.0 3126.0,1244.1 3124.5,1244.6 3121.5,1245.1 3118.5,1245.1 3117.0,1245.6 3115.5,1245.7 3112.5,1246.2 3111.0,1245.9 3109.5,1246.4 3108.0,1247.3 3105.0,1247.2 3100.5,1248.4 3097.5,1248.0 3096.0,1248.5 3094.5,1249.4 3091.5,1249.4 3090.0,1249.9 3088.5,1249.8 3085.5,1250.7 3084.0,1250.5 3082.5,1250.9 3079.5,1252.2 3076.5,1252.2 3073.5,1252.8 3072.0,1252.9 3070.5,1253.4 3064.5,1253.7 3063.0,1254.0 3060.0,1253.8 3058.5,1253.2 3057.0,1253.2 3055.5,1253.5 3054.0,1253.2 3051.0,1253.5 3049.5,1253.3 3045.0,1252.5 3043.5,1252.7 3042.0,1252.3 3036.0,1251.9 3033.0,1251.0 3027.0,1251.2 3024.0,1250.3 3021.0,1251.1 3019.5,1251.1 3015.0,1250.2 3013.5,1249.5 3012.0,1249.5 3010.5,1249.9 3009.0,1249.3 3007.5,1251.8 3004.5,1259.1 3003.0,1260.7 3001.5,1260.5 3000.0,1261.1 2998.5,1262.1 2995.5,1262.2 2991.0,1264.3 2986.5,1265.9 2985.0,1265.5 2983.5,1265.4 2982.0,1265.9 2980.5,1266.0 2977.5,1267.3 2974.5,1268.2 2973.0,1268.2 2970.0,1269.6 2968.5,1269.6 2965.5,1270.3 2962.5,1270.5 2959.5,1271.7 2956.5,1272.5 2955.0,1272.2 2953.5,1272.2 2946.0,1275.1 2944.5,1274.9 2941.5,1275.5 2940.0,1275.5 2937.0,1276.6 2932.5,1276.6 2931.0,1276.9 2928.0,1276.8 2925.0,1277.6 2923.5,1277.6 2922.0,1277.2 2919.0,1277.8 2917.5,1277.9 2911.5,1279.7 2908.5,1280.0 2905.5,1280.9 2902.5,1280.5 2901.0,1280.6 2899.5,1280.9 2898.0,1281.5 2895.0,1281.0 2892.0,1281.3 2890.5,1281.7 2889.0,1281.7 2886.0,1282.4 2883.0,1282.8 2881.5,1282.9 2878.5,1282.6 2877.0,1282.7 2872.5,1282.3 2869.5,1282.6 2863.5,1281.8 2860.5,1282.1 2857.5,1281.8 2856.0,1281.2 2854.5,1281.0 2853.0,1281.5 2851.5,1281.4 2848.5,1281.7 2845.5,1281.5 2844.0,1281.6 2839.5,1283.1 2838.0,1282.9 2836.5,1282.2 2833.5,1282.5 2832.0,1282.9 2830.5,1283.9 2827.5,1284.2 2826.0,1285.0 2824.5,1284.9 2823.0,1284.4 2815.5,1283.9 2814.0,1283.4 2812.5,1283.2 2811.0,1283.5 2805.0,1282.3 2802.0,1282.1 2800.5,1281.5 2799.0,1281.5 2796.0,1282.4 2794.5,1282.2 2791.5,1282.7 2790.0,1282.5 2787.0,1282.9 2784.0,1282.9 2781.0,1283.4 2778.0,1283.6 2772.0,1286.1 2769.0,1285.8 2767.5,1286.0 2766.0,1285.9 2764.5,1285.5 2760.0,1285.7 2755.5,1285.2 2754.0,1285.5 2752.5,1285.5 2751.0,1285.2 2748.0,1285.3 2746.5,1284.8 2742.0,1280.5 2740.5,1280.3 2736.0,1285.1 2734.5,1286.2 2731.5,1286.8 2730.0,1286.9 2725.5,1287.9 2722.5,1288.3 2716.5,1289.8 2712.0,1291.6 2710.5,1291.8 2707.5,1291.2 2704.5,1290.1 2697.0,1289.2 2695.5,1291.1 2694.0,1297.3 2689.5,1297.1 2686.5,1297.3 2683.5,1297.1 2668.5,1297.4 2665.5,1297.2 2662.5,1297.5 2659.5,1297.3 2655.0,1297.5 2626.5,1297.5 2623.5,1297.6 2620.5,1297.5 2596.5,1297.9 2574.0,1297.8 2565.0,1298.0 2560.5,1297.8 2554.5,1298.1 2553.0,1297.9 2545.5,1297.8 2538.0,1298.1 2529.0,1297.8 2526.0,1298.0 2517.0,1298.1 2511.0,1297.9 2494.5,1298.1 2488.5,1297.9 2481.0,1297.9" fill="url(#g-cb)"/>
<polygon points="2481.0,1297.9 2488.5,1297.9 2494.5,1298.1 2511.0,1297.9 2517.0,1298.1 2526.0,1298.0 2529.0,1297.8 2538.0,1298.1 2545.5,1297.8 2553.0,1297.9 2554.5,1298.1 2560.5,1297.8 2565.0,1298.0 2574.0,1297.8 2596.5,1297.9 2620.5,1297.5 2623.5,1297.6 2626.5,1297.5 2655.0,1297.5 2659.5,1297.3 2662.5,1297.5 2665.5,1297.2 2668.5,1297.4 2683.5,1297.1 2686.5,1297.3 2689.5,1297.1 2694.0,1297.3 2695.5,1291.1 2697.0,1289.2 2704.5,1290.1 2707.5,1291.2 2710.5,1291.8 2712.0,1291.6 2716.5,1289.8 2722.5,1288.3 2725.5,1287.9 2730.0,1286.9 2731.5,1286.8 2734.5,1286.2 2736.0,1285.1 2740.5,1280.3 2742.0,1280.5 2746.5,1284.8 2748.0,1285.3 2751.0,1285.2 2752.5,1285.5 2754.0,1285.5 2755.5,1285.2 2760.0,1285.7 2764.5,1285.5 2766.0,1285.9 2767.5,1286.0 2769.0,1285.8 2772.0,1286.1 2778.0,1283.6 2781.0,1283.4 2784.0,1282.9 2787.0,1282.9 2790.0,1282.5 2791.5,1282.7 2794.5,1282.2 2796.0,1282.4 2799.0,1281.5 2800.5,1281.5 2802.0,1282.1 2805.0,1282.3 2811.0,1283.5 2812.5,1283.2 2814.0,1283.4 2815.5,1283.9 2823.0,1284.4 2824.5,1284.9 2826.0,1285.0 2827.5,1284.2 2830.5,1283.9 2832.0,1282.9 2833.5,1282.5 2836.5,1282.2 2838.0,1282.9 2839.5,1283.1 2844.0,1281.6 2845.5,1281.5 2848.5,1281.7 2851.5,1281.4 2853.0,1281.5 2854.5,1281.0 2856.0,1281.2 2857.5,1281.8 2860.5,1282.1 2863.5,1281.8 2869.5,1282.6 2872.5,1282.3 2877.0,1282.7 2878.5,1282.6 2881.5,1282.9 2883.0,1282.8 2886.0,1282.4 2889.0,1281.7 2890.5,1281.7 2892.0,1281.3 2895.0,1281.0 2898.0,1281.5 2899.5,1280.9 2901.0,1280.6 2902.5,1280.5 2905.5,1280.9 2908.5,1280.0 2911.5,1279.7 2917.5,1277.9 2919.0,1277.8 2922.0,1277.2 2923.5,1277.6 2925.0,1277.6 2928.0,1276.8 2931.0,1276.9 2932.5,1276.6 2937.0,1276.6 2940.0,1275.5 2941.5,1275.5 2944.5,1274.9 2946.0,1275.1 2953.5,1272.2 2955.0,1272.2 2956.5,1272.5 2959.5,1271.7 2962.5,1270.5 2965.5,1270.3 2968.5,1269.6 2970.0,1269.6 2973.0,1268.2 2974.5,1268.2 2977.5,1267.3 2980.5,1266.0 2982.0,1265.9 2983.5,1265.4 2985.0,1265.5 2986.5,1265.9 2991.0,1264.3 2995.5,1262.2 2998.5,1262.1 3000.0,1261.1 3001.5,1260.5 3003.0,1260.7 3004.5,1259.1 3007.5,1251.8 3009.0,1249.3 3010.5,1249.9 3012.0,1249.5 3013.5,1249.5 3015.0,1250.2 3019.5,1251.1 3021.0,1251.1 3024.0,1250.3 3027.0,1251.2 3033.0,1251.0 3036.0,1251.9 3042.0,1252.3 3043.5,1252.7 3045.0,1252.5 3049.5,1253.3 3051.0,1253.5 3054.0,1253.2 3055.5,1253.5 3057.0,1253.2 3058.5,1253.2 3060.0,1253.8 3063.0,1254.0 3064.5,1253.7 3070.5,1253.4 3072.0,1252.9 3073.5,1252.8 3076.5,1252.2 3079.5,1252.2 3082.5,1250.9 3084.0,1250.5 3085.5,1250.7 3088.5,1249.8 3090.0,1249.9 3091.5,1249.4 3094.5,1249.4 3096.0,1248.5 3097.5,1248.0 3100.5,1248.4 3105.0,1247.2 3108.0,1247.3 3109.5,1246.4 3111.0,1245.9 3112.5,1246.2 3115.5,1245.7 3117.0,1245.6 3118.5,1245.1 3121.5,1245.1 3124.5,1244.6 3126.0,1244.1 3130.5,1244.0 3133.5,1244.5 3136.5,1244.0 3138.0,1244.2 3139.5,1244.0 3141.0,1244.4 3142.0,1244.4 3142.0,1272.2 3139.5,1271.2 3138.0,1270.8 3136.5,1271.3 3135.0,1271.4 3130.5,1271.0 3129.0,1271.1 3127.5,1271.6 3126.0,1271.5 3124.5,1271.1 3123.0,1271.0 3121.5,1271.2 3120.0,1271.8 3115.5,1272.2 3112.5,1272.8 3111.0,1272.6 3108.0,1273.1 3103.5,1273.3 3100.5,1274.1 3099.0,1273.6 3091.5,1274.5 3090.0,1274.2 3088.5,1274.2 3087.0,1275.0 3085.5,1275.5 3082.5,1275.5 3081.0,1275.2 3078.0,1275.6 3076.5,1275.5 3073.5,1275.6 3072.0,1276.1 3070.5,1276.3 3069.0,1276.1 3067.5,1276.9 3066.0,1277.3 3063.0,1276.1 3061.5,1276.2 3060.0,1276.7 3058.5,1276.7 3055.5,1274.6 3054.0,1274.9 3052.5,1275.0 3051.0,1274.1 3048.0,1273.2 3043.5,1272.4 3042.0,1271.7 3039.0,1271.8 3037.5,1270.9 3036.0,1270.6 3034.5,1270.4 3031.5,1270.5 3027.0,1269.4 3025.5,1269.8 3024.0,1269.8 3021.0,1269.2 3018.0,1269.3 3016.5,1268.7 3015.0,1268.8 3013.5,1269.2 3010.5,1269.1 3009.0,1268.9 3007.5,1271.3 3004.5,1278.9 3003.0,1281.0 3001.5,1281.4 3000.0,1281.2 2997.0,1281.3 2994.0,1281.7 2989.5,1281.4 2986.5,1282.6 2985.0,1282.1 2983.5,1282.1 2982.0,1282.5 2980.5,1283.3 2979.0,1283.4 2976.0,1283.0 2974.5,1282.5 2973.0,1282.6 2968.5,1283.8 2964.0,1283.3 2961.0,1284.2 2959.5,1284.3 2956.5,1283.6 2955.0,1283.9 2953.5,1283.3 2952.0,1283.2 2950.5,1283.6 2947.5,1284.1 2943.0,1284.4 2940.0,1284.3 2938.5,1284.9 2937.0,1285.1 2935.5,1284.8 2934.0,1284.9 2932.5,1285.2 2929.5,1286.2 2928.0,1286.4 2925.0,1285.7 2923.5,1285.9 2922.0,1286.6 2916.0,1287.7 2914.5,1287.8 2913.0,1287.4 2910.0,1288.1 2905.5,1288.1 2904.0,1288.2 2902.5,1288.7 2899.5,1288.5 2898.0,1288.7 2896.5,1288.7 2895.0,1289.3 2893.5,1289.2 2892.0,1288.8 2887.5,1289.4 2886.0,1288.8 2884.5,1288.9 2881.5,1288.5 2880.0,1289.2 2878.5,1289.6 2875.5,1289.2 2874.0,1289.6 2872.5,1289.4 2871.0,1288.8 2868.0,1289.5 2865.0,1289.1 2863.5,1289.2 2857.5,1288.6 2856.0,1289.0 2854.5,1288.2 2853.0,1287.7 2848.5,1287.9 2845.5,1288.6 2841.0,1289.2 2838.0,1288.9 2833.5,1289.2 2830.5,1289.1 2823.0,1289.8 2820.0,1289.7 2817.0,1289.0 2815.5,1289.2 2814.0,1288.8 2811.0,1288.8 2809.5,1288.4 2805.0,1287.9 2803.5,1287.9 2800.5,1287.0 2793.0,1290.2 2791.5,1290.2 2790.0,1290.6 2787.0,1290.7 2785.5,1291.0 2781.0,1290.3 2779.5,1290.5 2776.5,1289.1 2775.0,1289.2 2772.0,1288.3 2767.5,1287.8 2764.5,1287.7 2763.0,1287.4 2758.5,1287.2 2755.5,1287.3 2754.0,1287.0 2748.0,1286.6 2745.0,1286.1 2743.5,1285.6 2742.0,1282.9 2740.5,1282.0 2736.0,1286.9 2734.5,1288.1 2730.0,1289.3 2725.5,1290.8 2718.0,1290.8 2716.5,1291.0 2712.0,1292.6 2710.5,1292.7 2707.5,1291.6 2704.5,1290.1 2701.5,1289.8 2700.0,1289.5 2697.0,1289.4 2695.5,1291.1 2694.0,1297.3 2691.0,1297.6 2686.5,1297.4 2679.0,1297.7 2676.0,1297.5 2673.0,1297.8 2670.0,1297.7 2658.0,1298.0 2655.0,1297.8 2652.0,1298.0 2649.0,1297.8 2641.5,1298.0 2638.5,1297.8 2635.5,1298.0 2632.5,1297.8 2620.5,1297.9 2619.0,1298.1 2616.0,1297.8 2604.0,1298.0 2601.0,1297.8 2598.0,1298.0 2592.0,1297.8 2589.0,1298.0 2586.0,1297.9 2580.0,1298.0 2574.0,1297.8 2572.5,1298.1 2569.5,1297.9 2559.0,1297.9 2556.0,1298.1 2553.0,1297.9 2545.5,1297.8 2538.0,1298.1 2529.0,1297.8 2526.0,1298.0 2517.0,1298.1 2511.0,1297.9 2494.5,1298.1 2488.5,1297.9 2481.0,1297.9" fill="url(#g-ng)"/>
<polygon points="1911.0,1298.3 1915.5,1298.5 1930.5,1298.2 1938.0,1298.6 1941.0,1298.4 1966.5,1298.4 1975.5,1298.4 1978.5,1298.2 1984.5,1298.4 2016.0,1298.3 2023.5,1298.4 2047.5,1298.2 2056.5,1298.2 2059.5,1298.5 2076.0,1298.2 2082.0,1298.4 2085.0,1298.2 2088.0,1298.4 2095.5,1298.2 2104.5,1298.3 2119.5,1298.2 2122.5,1298.5 2125.5,1298.2 2130.0,1298.1 2137.5,1298.3 2143.5,1298.2 2160.0,1298.3 2163.0,1298.1 2172.0,1298.3 2178.0,1298.1 2181.0,1298.3 2187.0,1298.2 2190.0,1298.1 2196.0,1298.3 2202.0,1298.1 2209.5,1298.2 2214.0,1298.1 2221.5,1298.2 2224.5,1298.0 2227.5,1298.2 2230.5,1298.1 2239.5,1298.2 2242.5,1298.0 2248.5,1298.2 2257.5,1298.1 2260.5,1298.2 2272.5,1298.2 2275.5,1298.0 2277.0,1298.2 2281.5,1298.0 2295.0,1298.3 2301.0,1298.1 2304.0,1298.3 2307.0,1298.0 2310.0,1298.2 2323.5,1298.2 2326.5,1298.0 2331.0,1298.2 2338.5,1298.0 2347.5,1298.2 2352.0,1298.0 2367.0,1298.3 2374.5,1298.0 2388.0,1298.1 2391.0,1298.0 2412.0,1298.0 2415.0,1298.2 2418.0,1298.0 2424.0,1298.2 2430.0,1297.9 2440.5,1298.1 2451.0,1298.0 2460.0,1298.2 2464.5,1297.9 2467.5,1298.1 2470.5,1297.9 2478.0,1298.1 2488.5,1297.9 2491.5,1298.1 2511.0,1297.9 2523.0,1298.1 2529.0,1297.8 2538.0,1298.1 2545.5,1297.8 2553.0,1297.9 2556.0,1298.1 2559.0,1297.9 2569.5,1297.9 2572.5,1298.1 2574.0,1297.8 2580.0,1298.0 2586.0,1297.9 2589.0,1298.0 2592.0,1297.8 2598.0,1298.0 2601.0,1297.8 2604.0,1298.0 2616.0,1297.8 2619.0,1298.1 2620.5,1297.9 2628.0,1297.8 2632.5,1297.8 2635.5,1298.0 2638.5,1297.8 2641.5,1298.0 2649.0,1297.8 2652.0,1298.0 2655.0,1297.8 2658.0,1298.0 2670.0,1297.7 2673.0,1297.8 2676.0,1297.5 2679.0,1297.7 2686.5,1297.4 2691.0,1297.6 2694.0,1297.3 2695.5,1291.1 2697.0,1289.4 2700.0,1289.5 2701.5,1289.8 2704.5,1290.1 2707.5,1291.6 2710.5,1292.7 2712.0,1292.6 2716.5,1291.0 2718.0,1290.8 2725.5,1290.8 2730.0,1289.3 2734.5,1288.1 2736.0,1286.9 2740.5,1282.0 2742.0,1282.9 2743.5,1285.6 2745.0,1286.1 2748.0,1286.6 2754.0,1287.0 2755.5,1287.3 2758.5,1287.2 2763.0,1287.4 2764.5,1287.7 2767.5,1287.8 2772.0,1288.3 2775.0,1289.2 2776.5,1289.1 2779.5,1290.5 2781.0,1290.3 2785.5,1291.0 2787.0,1290.7 2790.0,1290.6 2791.5,1290.2 2793.0,1290.2 2800.5,1287.0 2803.5,1287.9 2805.0,1287.9 2809.5,1288.4 2811.0,1288.8 2814.0,1288.8 2815.5,1289.2 2817.0,1289.0 2820.0,1289.7 2823.0,1289.8 2830.5,1289.1 2833.5,1289.2 2838.0,1288.9 2841.0,1289.2 2845.5,1288.6 2848.5,1287.9 2853.0,1287.7 2854.5,1288.2 2856.0,1289.0 2857.5,1288.6 2863.5,1289.2 2865.0,1289.1 2868.0,1289.5 2871.0,1288.8 2872.5,1289.4 2874.0,1289.6 2875.5,1289.2 2878.5,1289.6 2880.0,1289.2 2881.5,1288.5 2884.5,1288.9 2886.0,1288.8 2887.5,1289.4 2892.0,1288.8 2893.5,1289.2 2895.0,1289.3 2896.5,1288.7 2898.0,1288.7 2899.5,1288.5 2902.5,1288.7 2904.0,1288.2 2905.5,1288.1 2910.0,1288.1 2913.0,1287.4 2914.5,1287.8 2916.0,1287.7 2922.0,1286.6 2923.5,1285.9 2925.0,1285.7 2928.0,1286.4 2929.5,1286.2 2932.5,1285.2 2934.0,1284.9 2935.5,1284.8 2937.0,1285.1 2938.5,1284.9 2940.0,1284.3 2943.0,1284.4 2947.5,1284.1 2950.5,1283.6 2952.0,1283.2 2953.5,1283.3 2955.0,1283.9 2956.5,1283.6 2959.5,1284.3 2961.0,1284.2 2964.0,1283.3 2968.5,1283.8 2973.0,1282.6 2974.5,1282.5 2976.0,1283.0 2979.0,1283.4 2980.5,1283.3 2982.0,1282.5 2983.5,1282.1 2985.0,1282.1 2986.5,1282.6 2989.5,1281.4 2994.0,1281.7 2997.0,1281.3 3000.0,1281.2 3001.5,1281.4 3003.0,1281.0 3004.5,1278.9 3007.5,1271.3 3009.0,1268.9 3010.5,1269.1 3013.5,1269.2 3015.0,1268.8 3016.5,1268.7 3018.0,1269.3 3021.0,1269.2 3024.0,1269.8 3025.5,1269.8 3027.0,1269.4 3031.5,1270.5 3034.5,1270.4 3036.0,1270.6 3037.5,1270.9 3039.0,1271.8 3042.0,1271.7 3043.5,1272.4 3048.0,1273.2 3051.0,1274.1 3052.5,1275.0 3054.0,1274.9 3055.5,1274.6 3058.5,1276.7 3060.0,1276.7 3061.5,1276.2 3063.0,1276.1 3066.0,1277.3 3067.5,1276.9 3069.0,1276.1 3070.5,1276.3 3072.0,1276.1 3073.5,1275.6 3076.5,1275.5 3078.0,1275.6 3081.0,1275.2 3082.5,1275.5 3085.5,1275.5 3087.0,1275.0 3088.5,1274.2 3090.0,1274.2 3091.5,1274.5 3099.0,1273.6 3100.5,1274.1 3103.5,1273.3 3108.0,1273.1 3111.0,1272.6 3112.5,1272.8 3115.5,1272.2 3120.0,1271.8 3121.5,1271.2 3123.0,1271.0 3124.5,1271.1 3126.0,1271.5 3127.5,1271.6 3129.0,1271.1 3130.5,1271.0 3135.0,1271.4 3136.5,1271.3 3138.0,1270.8 3139.5,1271.2 3142.0,1272.2 3142.0,1289.7 3139.5,1289.9 3135.0,1288.8 3129.0,1288.3 3127.5,1287.8 3124.5,1287.9 3121.5,1287.6 3118.5,1287.9 3115.5,1287.8 3112.5,1288.2 3108.0,1288.3 3105.0,1288.7 3100.5,1288.5 3097.5,1288.8 3093.0,1288.8 3090.0,1289.2 3087.0,1289.0 3084.0,1289.4 3081.0,1289.4 3078.0,1289.8 3070.5,1289.2 3067.5,1289.2 3064.5,1289.6 3055.5,1288.5 3052.5,1288.0 3051.0,1287.4 3045.0,1286.8 3040.5,1285.9 3037.5,1285.7 3034.5,1285.1 3030.0,1284.9 3025.5,1284.4 3019.5,1283.3 3015.0,1283.3 3010.5,1282.7 3009.0,1282.7 3007.5,1285.3 3004.5,1292.5 3003.0,1293.7 3001.5,1294.1 2998.5,1293.8 2992.5,1294.4 2986.5,1294.0 2983.5,1294.2 2980.5,1293.9 2977.5,1294.2 2968.5,1293.7 2967.0,1293.9 2961.0,1293.6 2958.0,1293.8 2952.0,1293.3 2944.5,1293.0 2938.5,1293.2 2935.5,1293.0 2934.0,1293.3 2929.5,1293.4 2928.0,1293.7 2926.5,1293.8 2925.0,1293.6 2919.0,1294.4 2914.5,1294.4 2911.5,1294.8 2905.5,1294.9 2902.5,1294.5 2899.5,1294.8 2893.5,1295.1 2887.5,1294.5 2884.5,1294.7 2877.0,1294.6 2874.0,1294.8 2866.5,1294.7 2847.0,1297.6 2800.5,1297.8 2760.0,1297.6 2710.5,1298.6 2700.0,1298.6 2695.5,1298.8 1911.0,1298.8" fill="url(#g-pu)"/>
<polygon points="2700.0,1298.6 2710.5,1298.6 2760.0,1297.6 2800.5,1297.8 2847.0,1297.6 2866.5,1294.7 2874.0,1294.8 2877.0,1294.6 2884.5,1294.7 2887.5,1294.5 2893.5,1295.1 2899.5,1294.8 2902.5,1294.5 2905.5,1294.9 2911.5,1294.8 2914.5,1294.4 2919.0,1294.4 2925.0,1293.6 2926.5,1293.8 2928.0,1293.7 2929.5,1293.4 2934.0,1293.3 2935.5,1293.0 2938.5,1293.2 2944.5,1293.0 2952.0,1293.3 2958.0,1293.8 2961.0,1293.6 2967.0,1293.9 2968.5,1293.7 2977.5,1294.2 2980.5,1293.9 2983.5,1294.2 2986.5,1294.0 2992.5,1294.4 2998.5,1293.8 3001.5,1294.1 3003.0,1293.7 3004.5,1292.5 3007.5,1285.3 3009.0,1282.7 3010.5,1282.7 3015.0,1283.3 3019.5,1283.3 3025.5,1284.4 3030.0,1284.9 3034.5,1285.1 3037.5,1285.7 3040.5,1285.9 3045.0,1286.8 3051.0,1287.4 3052.5,1288.0 3055.5,1288.5 3064.5,1289.6 3067.5,1289.2 3070.5,1289.2 3078.0,1289.8 3081.0,1289.4 3084.0,1289.4 3087.0,1289.0 3090.0,1289.2 3093.0,1288.8 3097.5,1288.8 3100.5,1288.5 3105.0,1288.7 3108.0,1288.3 3112.5,1288.2 3115.5,1287.8 3118.5,1287.9 3121.5,1287.6 3124.5,1287.9 3127.5,1287.8 3129.0,1288.3 3135.0,1288.8 3139.5,1289.9 3142.0,1289.7 3142.0,1295.8 3100.5,1296.6 3039.0,1297.4 2989.5,1297.0 2943.0,1295.4 2929.5,1296.6 2880.0,1296.4 2847.0,1297.6 2800.5,1297.8 2760.0,1297.6 2700.0,1298.8" fill="url(#g-pe)"/>
<polygon points="2700.0,1298.8 2760.0,1297.6 2800.5,1297.8 2847.0,1297.6 2880.0,1296.4 2929.5,1296.6 2943.0,1295.4 2989.5,1297.0 3039.0,1297.4 3100.5,1296.6 3142.0,1295.8 3142.0,1298.2 2848.5,1298.6 2847.0,1298.8 2700.0,1298.8" fill="url(#g-am)"/>
<polygon points="2848.5,1298.6 3142.0,1298.2 3142.0,1300.0 2848.5,1300.0" fill="url(#g-sc)"/>
<polyline points="1875.0,1279.4 1885.5,1278.4 1887.0,1278.6 1888.5,1278.4 1890.0,1278.0 1894.5,1277.9 1897.5,1278.4 1899.0,1278.4 1900.5,1277.9 1903.5,1277.5 1905.0,1277.5 1906.5,1277.9 1908.0,1277.8 1909.5,1277.3 1912.5,1277.7 1914.0,1277.3 1917.0,1277.3 1921.5,1276.6 1923.0,1276.6 1924.5,1276.9 1926.0,1276.9 1929.0,1276.4 1932.0,1276.7 1933.5,1276.3 1935.0,1276.5 1936.5,1276.4 1938.0,1275.8 1941.0,1275.8 1942.5,1275.6 1947.0,1276.0 1948.5,1276.0 1951.5,1275.3 1954.5,1275.6 1962.0,1275.9 1968.0,1277.0 1969.5,1276.9 1972.5,1277.2 1977.0,1276.2 1983.0,1275.9 1987.5,1274.9 1990.5,1274.7 1992.0,1274.1 1995.0,1273.9 2001.0,1272.6 2002.5,1271.9 2007.0,1270.7 2010.0,1270.9 2011.5,1270.4 2013.0,1270.2 2014.5,1270.6 2016.0,1270.7 2017.5,1270.3 2022.0,1270.2 2025.0,1270.7 2028.0,1269.8 2029.5,1269.8 2037.0,1269.2 2038.5,1269.4 2040.0,1269.4 2041.5,1268.9 2043.0,1269.0 2049.0,1268.8 2052.0,1269.2 2055.0,1268.8 2067.0,1268.7 2070.0,1268.9 2071.5,1268.7 2074.5,1269.2 2079.0,1268.5 2085.0,1268.8 2088.0,1268.6 2089.5,1268.7 2091.0,1268.2 2092.5,1268.0 2094.0,1268.4 2100.0,1268.4 2103.0,1268.6 2106.0,1268.2 2109.0,1268.7 2115.0,1268.2 2116.5,1268.3 2124.0,1268.1 2127.0,1267.8 2130.0,1268.3 2133.0,1268.0 2137.5,1267.9 2140.5,1268.1 2145.0,1267.5 2148.0,1268.0 2151.0,1267.7 2152.5,1267.8 2155.5,1267.5 2157.0,1267.8 2158.5,1267.5 2163.0,1267.3 2166.0,1267.4 2169.0,1268.1 2172.0,1267.8 2175.0,1268.2 2176.5,1268.1 2178.0,1267.8 2179.5,1267.7 2181.0,1268.1 2191.5,1268.0 2197.5,1267.5 2200.5,1267.6 2206.5,1267.1 2214.0,1267.0 2218.5,1266.5 2221.5,1266.6 2224.5,1266.3 2226.0,1266.5 2229.0,1266.2 2230.5,1266.5 2235.0,1265.3 2238.0,1265.5 2242.5,1264.8 2245.5,1264.8 2247.0,1264.6 2250.0,1264.8 2259.0,1263.8 2263.5,1264.0 2265.0,1264.3 2268.0,1264.0 2280.0,1264.1 2281.5,1263.8 2283.0,1263.7 2287.5,1264.1 2290.5,1264.5 2296.5,1264.8 2298.0,1264.5 2301.0,1263.4 2304.0,1262.5 2305.5,1262.4 2311.5,1262.8 2314.5,1262.5 2317.5,1262.8 2320.5,1262.8 2323.5,1262.7 2325.0,1262.4 2328.0,1263.0 2332.5,1263.2 2337.0,1263.4 2338.5,1263.2 2341.5,1263.6 2344.5,1263.3 2349.0,1264.0 2352.0,1264.0 2353.5,1264.3 2356.5,1264.3 2358.0,1264.7 2361.0,1264.5 2364.0,1264.5 2365.5,1264.2 2367.0,1264.2 2368.5,1264.9 2370.0,1265.2 2371.5,1265.2 2373.0,1265.6 2374.5,1265.5 2377.5,1264.6 2379.0,1264.4 2383.5,1264.9 2385.0,1264.4 2392.5,1264.1 2403.0,1262.7 2404.5,1261.9 2406.0,1260.5 2409.0,1256.8 2410.5,1256.3 2413.5,1256.1 2415.0,1255.7 2421.0,1254.6 2422.5,1254.5 2425.5,1253.9 2427.0,1253.8 2430.0,1253.2 2431.5,1253.4 2437.5,1252.0 2439.0,1251.9 2442.0,1251.0 2443.5,1251.2 2446.5,1250.9 2448.0,1251.1 2457.0,1250.7 2460.0,1249.9 2461.5,1249.8 2464.5,1248.2 2467.5,1247.1 2470.5,1247.2 2472.0,1246.9 2478.0,1246.4 2482.5,1245.2 2484.0,1245.3 2487.0,1245.0 2491.5,1245.0 2497.5,1244.0 2500.5,1243.4 2502.0,1243.6 2505.0,1242.8 2506.5,1242.7 2512.5,1241.7 2521.5,1239.9 2524.5,1239.6 2527.5,1239.6 2530.5,1238.6 2532.0,1238.3 2533.5,1238.6 2535.0,1239.3 2536.5,1239.6 2538.0,1239.3 2541.0,1240.0 2544.0,1239.9 2551.5,1238.4 2554.5,1238.5 2562.0,1236.8 2569.5,1236.3 2574.0,1234.9 2577.0,1234.3 2578.5,1234.2 2580.0,1233.6 2581.5,1232.7 2583.0,1232.3 2586.0,1231.8 2587.5,1231.3 2596.5,1230.3 2599.5,1229.2 2602.5,1229.2 2604.0,1228.7 2607.0,1228.9 2608.5,1228.7 2614.5,1226.7 2616.0,1226.6 2617.5,1226.1 2619.0,1225.3 2620.5,1225.1 2622.0,1225.2 2625.0,1224.7 2626.5,1224.7 2628.0,1224.3 2631.0,1224.3 2635.5,1223.3 2640.0,1224.0 2641.5,1224.1 2643.0,1223.8 2646.0,1224.2 2650.5,1224.3 2653.5,1224.8 2655.0,1224.5 2658.0,1224.8 2659.5,1224.7 2662.5,1224.0 2664.0,1223.4 2670.0,1221.7 2674.5,1220.7 2676.0,1220.2 2679.0,1218.7 2680.5,1218.2 2682.0,1217.9 2685.0,1215.4 2686.5,1214.5 2689.5,1211.4 2694.0,1211.4 2695.5,1205.3 2697.0,1196.9 2698.5,1196.1 2701.5,1193.2 2703.0,1188.0 2704.5,1185.8 2707.5,1185.0 2710.5,1192.7 2716.5,1184.5 2718.0,1185.2 2719.5,1187.4 2721.0,1189.0 2722.5,1190.1 2725.5,1190.1 2728.5,1189.2 2731.5,1192.6 2733.0,1191.7 2737.5,1187.7 2739.0,1185.4 2740.5,1183.9 2742.0,1185.1 2743.5,1187.4 2745.0,1187.1 2746.5,1185.7 2748.0,1185.5 2751.0,1184.4 2757.0,1184.2 2758.5,1184.9 2761.5,1185.2 2763.0,1184.3 2764.5,1181.9 2769.0,1177.7 2770.5,1177.3 2772.0,1176.6 2773.5,1175.2 2775.0,1175.1 2778.0,1173.9 2779.5,1175.0 2784.0,1176.2 2790.0,1166.3 2794.5,1158.2 2796.0,1155.8 2797.5,1154.1 2799.0,1151.1 2800.5,1148.8 2802.0,1147.4 2803.5,1147.3 2808.0,1149.3 2809.5,1149.4 2811.0,1149.1 2812.5,1150.5 2814.0,1151.1 2817.0,1143.2 2821.5,1133.0 2826.0,1129.8 2829.0,1130.8 2830.5,1129.5 2832.0,1126.7 2833.5,1124.5 2835.0,1121.1 2836.5,1118.2 2838.0,1117.1 2839.5,1114.8 2841.0,1111.5 2844.0,1106.6 2847.0,1100.9 2848.5,1098.8 2850.0,1097.8 2851.5,1097.4 2853.0,1096.5 2854.5,1095.0 2856.0,1094.7 2857.5,1095.3 2859.0,1095.0 2862.0,1093.0 2863.5,1091.8 2868.0,1090.6 2869.5,1090.8 2871.0,1090.5 2872.5,1089.0 2874.0,1086.8 2875.5,1085.4 2877.0,1085.2 2878.5,1084.1 2881.5,1083.5 2883.0,1082.8 2884.5,1082.5 2886.0,1081.7 2889.0,1080.6 2890.5,1079.7 2892.0,1079.5 2893.5,1080.0 2895.0,1078.4 2896.5,1077.3 2898.0,1077.3 2899.5,1075.3 2901.0,1074.3 2902.5,1073.6 2905.5,1073.5 2908.5,1071.9 2910.0,1070.1 2911.5,1067.6 2914.5,1067.0 2916.0,1065.1 2917.5,1064.7 2919.0,1065.1 2920.5,1063.9 2922.0,1061.4 2923.5,1060.5 2926.5,1064.9 2928.0,1068.4 2929.5,1070.2 2931.0,1068.7 2932.5,1068.2 2934.0,1068.4 2935.5,1066.5 2937.0,1062.5 2938.5,1060.1 2940.0,1058.8 2943.0,1053.7 2944.5,1052.6 2946.0,1050.8 2949.0,1043.9 2950.5,1041.8 2953.5,1038.0 2955.0,1037.0 2958.0,1032.1 2959.5,1031.7 2961.0,1030.0 2962.5,1027.5 2964.0,1025.9 2965.5,1025.3 2967.0,1026.7 2968.5,1027.0 2970.0,1026.0 2971.5,1025.5 2973.0,1024.0 2974.5,1024.0 2976.0,1024.7 2977.5,1023.6 2980.5,1023.6 2983.5,1019.1 2985.0,1015.1 2986.5,1011.7 2988.0,1010.6 2989.5,1010.8 2991.0,1012.5 2992.5,1011.7 2995.5,1013.3 2997.0,1012.4 3000.0,1011.9 3003.0,1008.6 3004.5,987.6 3007.5,967.5 3009.0,962.7 3010.5,961.0 3012.0,958.4 3015.0,953.9 3016.5,952.5 3018.0,950.5 3021.0,948.3 3022.5,946.6 3024.0,945.3 3025.5,943.3 3027.0,939.8 3028.5,937.3 3030.0,935.4 3031.5,933.9 3033.0,931.6 3034.5,928.4 3036.0,926.0 3037.5,924.2 3039.0,924.9 3042.0,927.3 3043.5,929.6 3045.0,930.0 3046.5,929.1 3048.0,928.6 3049.5,930.4 3051.0,930.4 3052.5,930.9 3054.0,934.4 3055.5,936.2 3057.0,939.4 3058.5,940.2 3060.0,939.6 3061.5,940.0 3063.0,939.0 3064.5,937.7 3066.0,937.0 3067.5,935.2 3069.0,934.0 3070.5,933.9 3072.0,932.7 3073.5,933.8 3075.0,932.9 3078.0,927.4 3079.5,925.4 3081.0,926.9 3082.5,925.1 3084.0,923.8 3085.5,923.5 3087.0,921.0 3088.5,920.1 3093.0,916.0 3096.0,912.5 3097.5,912.1 3100.5,913.9 3102.0,912.9 3103.5,912.4 3105.0,912.5 3106.5,911.1 3108.0,908.7 3109.5,905.6 3111.0,903.9 3112.5,903.7 3115.5,901.5 3117.0,901.6 3118.5,898.5 3120.0,897.3 3123.0,896.0 3124.5,895.9 3126.0,889.6 3129.0,873.3 3130.5,871.9 3132.0,869.5 3133.5,864.6 3136.5,847.3 3139.5,855.6 3141.0,857.3 3142.0,858.8" fill="none" stroke="#0a3d78" stroke-width="1.8" stroke-linejoin="round"/>
<polyline points="1414.5,1288.7 1419.0,1288.5 1422.0,1288.7 1423.5,1288.4 1425.0,1288.3 1431.0,1288.5 1434.0,1288.2 1437.0,1288.6 1440.0,1288.2 1441.5,1288.3 1444.5,1288.1 1449.0,1288.3 1456.5,1288.0 1462.5,1288.2 1465.5,1287.4 1467.0,1284.9 1470.0,1285.0 1473.0,1284.6 1476.0,1284.7 1477.5,1284.4 1482.0,1284.5 1486.5,1284.8 1498.5,1284.0 1501.5,1284.3 1503.0,1284.2 1510.5,1284.1 1512.0,1283.9 1515.0,1284.3 1519.5,1283.6 1522.5,1283.8 1524.0,1283.2 1525.5,1281.8 1527.0,1281.8 1530.0,1281.4 1533.0,1281.8 1534.5,1281.9 1537.5,1281.5 1539.0,1281.5 1540.5,1281.8 1542.0,1281.7 1543.5,1281.3 1546.5,1281.7 1549.5,1281.2 1551.0,1281.1 1554.0,1281.5 1557.0,1281.2 1570.5,1281.1 1575.0,1280.5 1581.0,1278.8 1584.0,1278.7 1590.0,1277.7 1593.0,1277.9 1596.0,1275.3 1597.5,1274.5 1599.0,1274.5 1602.0,1274.8 1605.0,1274.8 1608.0,1274.5 1612.5,1274.8 1614.0,1274.7 1617.0,1275.1 1620.0,1274.7 1623.0,1275.5 1626.0,1275.4 1630.5,1275.8 1635.0,1275.5 1639.5,1276.1 1642.5,1275.7 1645.5,1275.7 1647.0,1275.5 1653.0,1275.8 1656.0,1275.7 1659.0,1275.8 1660.5,1275.6 1663.5,1275.8 1666.5,1275.6 1671.0,1275.9 1674.0,1275.5 1675.5,1275.7 1680.0,1275.4 1686.0,1275.6 1689.0,1275.4 1692.0,1276.0 1695.0,1275.8 1698.0,1275.9 1705.5,1275.4 1710.0,1275.7 1714.5,1275.7 1717.5,1275.5 1719.0,1275.9 1720.5,1277.0 1722.0,1277.8 1725.0,1277.5 1726.5,1277.7 1731.0,1277.6 1735.5,1277.2 1740.0,1277.0 1743.0,1277.2 1744.5,1277.4 1752.0,1277.1 1758.0,1277.3 1759.5,1277.1 1762.5,1277.1 1764.0,1276.8 1767.0,1277.5 1771.5,1277.4 1777.5,1277.5 1780.5,1278.0 1788.0,1278.2 1797.0,1278.7 1800.0,1279.0 1804.5,1279.0 1810.5,1279.7 1818.0,1279.6 1821.0,1279.8 1824.0,1279.4 1830.0,1279.9 1831.5,1279.7 1837.5,1279.7 1840.5,1279.5 1843.5,1279.8 1845.0,1279.5 1848.0,1279.7 1854.0,1279.6 1855.5,1279.3 1858.5,1279.4 1860.0,1279.1 1863.0,1278.9 1866.0,1278.3 1869.0,1278.9 1875.0,1279.5 1879.5,1279.3 1882.5,1279.5 1885.5,1279.1 1891.5,1279.2 1897.5,1278.8 1900.5,1279.0 1902.0,1278.8 1906.5,1278.9 1909.5,1278.8 1912.5,1278.3 1918.5,1278.8 1921.5,1278.4 1927.5,1278.2 1930.5,1278.3 1932.0,1278.0 1935.0,1278.2 1936.5,1278.1 1938.0,1278.0 1939.5,1277.7 1948.5,1277.8 1951.5,1277.4 1959.0,1278.2 1962.0,1278.2 1963.5,1278.5 1972.5,1279.6 1984.5,1278.6 1987.5,1278.9 1990.5,1278.4 1995.0,1278.7 1996.5,1278.5 2001.0,1278.2 2004.0,1278.4 2007.0,1278.2 2011.5,1278.2 2013.0,1278.4 2016.0,1278.1 2017.5,1278.3 2022.0,1277.9 2025.0,1278.4 2028.0,1278.1 2034.0,1278.2 2037.0,1278.4 2044.5,1278.4 2049.0,1278.1 2061.0,1278.3 2062.5,1278.3 2064.0,1278.0 2067.0,1278.3 2073.0,1278.0 2076.0,1278.3 2082.0,1277.8 2085.0,1278.3 2086.5,1278.3 2089.5,1278.1 2094.0,1278.5 2109.0,1278.1 2112.0,1278.3 2118.0,1278.1 2121.0,1278.4 2124.0,1278.1 2128.5,1278.4 2133.0,1278.2 2134.5,1278.3 2140.5,1278.2 2143.5,1278.3 2152.5,1277.9 2155.5,1278.1 2157.0,1277.9 2158.5,1278.0 2160.0,1278.3 2163.0,1278.0 2173.5,1278.4 2178.0,1278.0 2188.5,1278.3 2202.0,1279.0 2205.0,1278.8 2208.0,1279.2 2215.5,1279.2 2217.0,1279.5 2224.5,1279.8 2227.5,1279.5 2232.0,1279.3 2233.5,1279.0 2236.5,1279.2 2239.5,1279.0 2241.0,1278.6 2247.0,1278.8 2254.5,1278.5 2262.0,1278.4 2266.5,1278.0 2269.5,1277.9 2272.5,1277.6 2277.0,1277.7 2280.0,1277.2 2287.5,1277.9 2289.0,1277.9 2292.0,1278.4 2293.5,1278.3 2295.0,1278.5 2296.5,1279.0 2298.0,1278.4 2299.5,1277.6 2301.0,1277.1 2305.5,1276.7 2310.0,1277.0 2319.0,1277.0 2322.0,1277.2 2323.5,1277.1 2326.5,1277.3 2331.0,1277.1 2334.0,1277.5 2335.5,1277.3 2340.0,1277.7 2349.0,1277.8 2353.5,1277.6 2356.5,1277.9 2358.0,1277.7 2359.5,1277.8 2362.5,1278.3 2365.5,1277.8 2367.0,1277.8 2370.0,1278.0 2374.5,1277.6 2380.5,1277.9 2385.0,1277.7 2391.0,1278.0 2395.5,1277.6 2398.5,1277.9 2400.0,1277.9 2404.5,1277.5 2407.5,1277.6 2413.5,1277.3 2416.5,1277.4 2419.5,1276.9 2422.5,1276.7 2428.5,1277.1 2431.5,1276.7 2437.5,1276.9 2439.0,1276.5 2443.5,1276.5 2445.0,1276.9 2449.5,1276.6 2452.5,1276.8 2455.5,1276.5 2460.0,1276.8 2461.5,1276.7 2463.0,1276.3 2464.5,1276.4 2466.0,1276.8 2467.5,1276.9 2470.5,1276.4 2475.0,1276.8 2478.0,1276.4 2481.0,1276.8 2485.5,1276.3 2487.0,1276.7 2488.5,1276.8 2490.0,1276.4 2491.5,1276.4 2494.5,1277.0 2497.5,1276.6 2500.5,1276.8 2503.5,1276.5 2508.0,1276.5 2509.5,1276.2 2512.5,1276.7 2514.0,1276.4 2518.5,1276.4 2521.5,1276.0 2524.5,1276.0 2526.0,1275.7 2529.0,1275.9 2533.5,1275.4 2547.0,1275.0 2548.5,1275.1 2553.0,1274.7 2556.0,1274.8 2565.0,1273.8 2566.5,1274.0 2569.5,1273.6 2577.0,1273.6 2578.5,1273.3 2584.5,1273.1 2586.0,1272.7 2592.0,1272.9 2593.5,1272.4 2595.0,1272.3 2596.5,1272.5 2598.0,1272.5 2599.5,1272.2 2604.0,1272.0 2607.0,1271.6 2610.0,1272.1 2619.0,1270.9 2620.5,1271.0 2629.5,1270.2 2635.5,1269.9 2641.5,1270.2 2644.5,1269.9 2649.0,1270.1 2650.5,1270.3 2653.5,1270.0 2655.0,1270.3 2658.0,1270.1 2659.5,1270.4 2662.5,1270.2 2665.5,1269.6 2667.0,1269.9 2668.5,1270.0 2673.0,1269.1 2674.5,1269.2 2677.5,1268.6 2679.0,1268.8 2682.0,1268.3 2683.5,1268.2 2685.0,1267.9 2688.0,1267.8 2689.5,1267.4 2692.5,1267.3 2694.0,1266.9 2695.5,1261.2 2697.0,1259.3 2698.5,1259.7 2701.5,1259.9 2703.0,1260.6 2706.0,1260.7 2707.5,1260.9 2710.5,1264.9 2712.0,1265.1 2716.5,1261.3 2718.0,1260.6 2721.0,1260.3 2724.0,1258.8 2725.5,1258.3 2727.0,1257.1 2728.5,1256.5 2730.0,1256.2 2733.0,1253.9 2734.5,1253.6 2736.0,1252.5 2739.0,1249.0 2740.5,1246.9 2742.0,1247.8 2743.5,1250.9 2745.0,1251.6 2746.5,1251.2 2748.0,1250.6 2749.5,1250.9 2751.0,1251.7 2755.5,1251.3 2757.0,1251.0 2761.5,1251.3 2763.0,1251.7 2764.5,1251.9 2767.5,1251.6 2769.0,1252.0 2770.5,1252.0 2772.0,1251.8 2773.5,1249.7 2775.0,1247.1 2776.5,1246.7 2781.0,1248.2 2784.0,1248.6 2785.5,1249.3 2787.0,1249.0 2788.5,1247.8 2791.5,1246.8 2793.0,1245.5 2794.5,1244.8 2796.0,1243.7 2797.5,1243.3 2800.5,1243.5 2803.5,1244.1 2805.0,1243.6 2806.5,1243.7 2808.0,1244.8 2811.0,1243.9 2812.5,1243.8 2814.0,1243.2 2815.5,1243.6 2817.0,1242.5 2818.5,1241.8 2820.0,1241.9 2821.5,1241.7 2823.0,1241.1 2824.5,1240.2 2826.0,1238.8 2827.5,1238.0 2830.5,1237.7 2832.0,1236.7 2833.5,1234.2 2835.0,1232.7 2836.5,1232.1 2838.0,1231.5 2839.5,1231.2 2841.0,1231.1 2842.5,1231.3 2845.5,1230.5 2848.5,1227.3 2850.0,1226.1 2851.5,1225.2 2854.5,1227.0 2856.0,1227.6 2857.5,1227.0 2862.0,1224.2 2863.5,1223.6 2866.5,1223.1 2868.0,1222.6 2869.5,1221.6 2871.0,1220.9 2872.5,1221.0 2877.0,1220.5 2878.5,1219.3 2880.0,1218.5 2881.5,1218.4 2883.0,1218.9 2884.5,1219.1 2886.0,1218.7 2890.5,1215.7 2892.0,1216.1 2893.5,1216.2 2895.0,1214.9 2896.5,1212.9 2898.0,1212.0 2899.5,1212.0 2901.0,1210.7 2902.5,1209.9 2904.0,1209.8 2905.5,1208.8 2907.0,1207.5 2908.5,1207.3 2910.0,1206.6 2911.5,1205.6 2913.0,1205.4 2914.5,1204.2 2916.0,1203.3 2917.5,1203.4 2919.0,1202.7 2922.0,1199.8 2925.0,1195.7 2926.5,1194.5 2928.0,1193.9 2932.5,1190.9 2935.5,1190.3 2938.5,1189.4 2940.0,1188.3 2941.5,1186.6 2943.0,1185.4 2946.0,1181.3 2947.5,1180.5 2950.5,1176.6 2952.0,1175.5 2953.5,1175.8 2955.0,1175.5 2956.5,1173.8 2959.5,1172.7 2964.0,1167.1 2965.5,1165.6 2970.0,1163.9 2971.5,1162.6 2974.5,1160.9 2977.5,1158.4 2979.0,1157.6 2982.0,1155.5 2983.5,1155.9 2986.5,1153.0 2988.0,1152.5 2989.5,1151.6 2991.0,1151.0 2992.5,1150.9 2994.0,1151.4 2995.5,1150.6 2997.0,1149.1 2998.5,1146.6 3000.0,1145.5 3001.5,1146.6 3003.0,1143.7 3004.5,1139.9 3007.5,1118.5 3009.0,1112.2 3012.0,1108.7 3013.5,1106.1 3016.5,1101.7 3018.0,1100.1 3019.5,1099.7 3021.0,1098.1 3024.0,1094.0 3025.5,1092.6 3027.0,1090.7 3030.0,1088.7 3031.5,1086.6 3033.0,1085.1 3034.5,1084.6 3039.0,1084.6 3040.5,1084.0 3042.0,1084.5 3043.5,1086.2 3045.0,1087.3 3046.5,1087.4 3048.0,1086.0 3049.5,1085.3 3051.0,1086.7 3054.0,1088.8 3055.5,1088.9 3057.0,1089.9 3058.5,1092.5 3063.0,1095.0 3064.5,1093.4 3067.5,1088.3 3069.0,1087.4 3072.0,1084.9 3073.5,1085.1 3076.5,1080.7 3078.0,1079.3 3079.5,1076.7 3082.5,1072.6 3084.0,1070.8 3085.5,1069.8 3088.5,1067.1 3090.0,1066.2 3091.5,1065.6 3093.0,1065.7 3094.5,1064.5 3096.0,1062.8 3099.0,1062.6 3100.5,1062.0 3102.0,1061.9 3103.5,1061.3 3105.0,1060.6 3106.5,1059.3 3108.0,1058.3 3109.5,1058.3 3112.5,1057.7 3115.5,1056.0 3117.0,1056.0 3118.5,1056.7 3120.0,1056.1 3123.0,1056.2 3124.5,1055.9 3126.0,1054.8 3130.5,1043.6 3133.5,1037.6 3135.0,1032.9 3136.5,1026.6 3138.0,1029.2 3139.5,1032.4 3141.0,1033.4 3142.0,1035.2" fill="none" stroke="#daa520" stroke-width="1.8" stroke-linejoin="round"/>
<polyline points="2661.0,1290.2 2670.0,1289.2 2671.5,1289.1 2674.5,1288.6 2679.0,1288.4 2683.5,1287.8 2686.5,1287.7 2689.5,1287.3 2691.0,1287.4 2694.0,1286.9 2695.5,1280.9 2697.0,1278.3 2700.0,1279.0 2701.5,1278.9 2704.5,1279.5 2706.0,1279.5 2709.0,1280.2 2710.5,1283.2 2712.0,1283.9 2715.0,1282.2 2716.5,1280.8 2721.0,1280.1 2724.0,1278.6 2728.5,1277.7 2730.0,1277.1 2734.5,1275.0 2736.0,1273.8 2739.0,1269.7 2740.5,1267.0 2742.0,1267.7 2743.5,1270.8 2745.0,1271.6 2746.5,1271.9 2749.5,1271.6 2751.0,1271.7 2757.0,1272.7 2758.5,1272.6 2761.5,1273.1 2764.5,1273.3 2767.5,1273.1 2770.5,1273.6 2772.0,1273.2 2775.0,1269.0 2776.5,1268.9 2779.5,1269.9 2781.0,1270.6 2785.5,1271.4 2787.0,1271.0 2788.5,1270.3 2790.0,1270.0 2796.0,1268.2 2799.0,1266.8 2800.5,1266.5 2803.5,1266.5 2808.0,1267.3 2809.5,1267.4 2812.5,1267.1 2815.5,1267.4 2817.0,1267.1 2820.0,1267.1 2821.5,1266.8 2824.5,1267.1 2826.0,1266.9 2827.5,1266.0 2830.5,1264.7 2833.5,1261.3 2835.0,1260.2 2836.5,1260.1 2838.0,1259.6 2841.0,1258.3 2842.5,1258.4 2844.0,1258.3 2847.0,1255.9 2850.0,1254.2 2851.5,1252.8 2853.0,1252.3 2854.5,1253.2 2856.0,1255.0 2857.5,1253.8 2859.0,1253.0 2860.5,1253.2 2862.0,1252.3 2863.5,1251.1 2866.5,1249.8 2868.0,1249.5 2869.5,1249.7 2871.0,1249.5 2872.5,1248.7 2875.5,1248.5 2877.0,1247.6 2878.5,1247.4 2880.0,1248.1 2881.5,1247.5 2884.5,1246.0 2886.0,1245.5 2887.5,1245.5 2889.0,1245.1 2892.0,1243.6 2893.5,1243.1 2895.0,1242.2 2896.5,1240.9 2899.5,1240.5 2902.5,1238.1 2904.0,1237.4 2905.5,1238.0 2907.0,1238.1 2908.5,1236.8 2911.5,1235.7 2913.0,1235.7 2914.5,1235.1 2916.0,1233.8 2917.5,1232.9 2920.5,1232.0 2922.0,1231.0 2923.5,1229.1 2925.0,1228.1 2926.5,1227.8 2928.0,1227.3 2931.0,1224.6 2934.0,1223.4 2935.5,1223.0 2937.0,1222.3 2941.5,1218.8 2944.5,1217.4 2946.0,1216.8 2947.5,1216.9 2950.5,1213.3 2952.0,1212.4 2953.5,1211.1 2956.5,1210.4 2958.0,1209.3 2961.0,1207.9 2962.5,1206.6 2965.5,1206.1 2967.0,1204.7 2970.0,1203.7 2971.5,1202.5 2973.0,1201.9 2976.0,1199.0 2977.5,1198.9 2979.0,1198.1 2982.0,1197.6 2985.0,1196.0 2986.5,1194.8 2988.0,1194.0 2989.5,1193.8 2991.0,1193.0 2992.5,1191.2 2995.5,1191.1 2997.0,1189.7 2998.5,1189.1 3000.0,1188.1 3001.5,1186.4 3003.0,1185.9 3004.5,1183.0 3007.5,1164.7 3009.0,1157.3 3010.5,1156.2 3012.0,1156.3 3013.5,1156.0 3016.5,1153.2 3018.0,1152.2 3019.5,1152.0 3024.0,1147.3 3025.5,1146.0 3027.0,1145.0 3030.0,1141.8 3033.0,1141.7 3034.5,1140.2 3036.0,1139.3 3037.5,1140.6 3039.0,1141.5 3040.5,1141.1 3042.0,1141.2 3043.5,1142.9 3045.0,1143.4 3046.5,1143.6 3049.5,1145.4 3051.0,1145.4 3054.0,1146.4 3055.5,1147.2 3057.0,1148.5 3058.5,1149.5 3060.0,1150.2 3061.5,1149.7 3063.0,1150.2 3064.5,1150.0 3066.0,1149.4 3067.5,1149.3 3069.0,1148.3 3070.5,1146.8 3073.5,1145.1 3075.0,1144.0 3076.5,1142.8 3079.5,1139.2 3081.0,1138.0 3082.5,1137.3 3084.0,1136.1 3085.5,1134.5 3088.5,1135.2 3090.0,1134.5 3091.5,1133.4 3094.5,1132.9 3096.0,1132.0 3097.5,1132.0 3100.5,1131.2 3102.0,1131.2 3103.5,1130.9 3105.0,1131.4 3108.0,1129.9 3109.5,1130.7 3111.0,1130.7 3112.5,1130.3 3114.0,1129.5 3115.5,1129.7 3120.0,1129.7 3121.5,1128.9 3123.0,1128.8 3126.0,1127.0 3127.5,1127.2 3135.0,1124.1 3136.5,1123.3 3138.0,1123.1 3139.5,1123.1 3142.0,1122.6" fill="none" stroke="#2962ff" stroke-width="1.8" stroke-linejoin="round"/>
<polyline points="231.0,1298.6 235.5,1298.3 240.0,1298.3 243.0,1298.6 246.0,1298.4 252.0,1298.6 259.5,1298.7 267.0,1298.5 271.5,1298.7 280.5,1298.6 291.0,1298.4 292.5,1298.6 297.0,1298.5 304.5,1298.7 307.5,1298.3 315.0,1298.7 318.0,1298.4 321.0,1298.6 324.0,1298.5 327.0,1298.8 339.0,1298.4 345.0,1298.7 354.0,1298.4 361.5,1298.7 367.5,1298.4 379.5,1298.6 382.5,1298.6 385.5,1298.3 387.0,1298.5 391.5,1298.6 399.0,1298.2 402.0,1298.5 406.5,1298.4 408.0,1298.6 411.0,1298.4 417.0,1298.7 424.5,1298.3 429.0,1298.5 430.5,1298.3 433.5,1298.4 436.5,1298.3 442.5,1298.6 447.0,1298.3 450.0,1298.5 456.0,1298.5 465.0,1298.3 466.5,1298.5 469.5,1298.3 477.0,1298.5 495.0,1298.4 498.0,1298.5 507.0,1298.3 511.5,1298.5 514.5,1298.2 522.0,1298.6 525.0,1298.2 528.0,1298.5 538.5,1298.2 541.5,1298.4 552.0,1298.3 556.5,1298.5 562.5,1298.3 568.5,1298.4 571.5,1298.2 574.5,1298.5 576.0,1298.5 577.5,1298.2 582.0,1298.2 585.0,1298.7 588.0,1298.3 594.0,1298.5 597.0,1298.2 600.0,1298.4 603.0,1298.2 604.5,1298.4 606.0,1298.2 612.0,1298.5 618.0,1298.2 621.0,1298.3 627.0,1298.0 631.5,1298.3 636.0,1298.2 639.0,1298.4 646.5,1298.1 657.0,1298.5 661.5,1298.2 666.0,1298.4 673.5,1298.4 681.0,1298.1 685.5,1298.4 691.5,1298.4 694.5,1298.1 699.0,1298.3 700.5,1298.2 703.5,1298.4 708.0,1298.1 711.0,1298.3 715.5,1298.1 723.0,1298.3 730.5,1298.1 735.0,1298.3 738.0,1298.1 741.0,1298.4 744.0,1298.0 748.5,1298.5 751.5,1298.2 759.0,1298.0 766.5,1298.3 771.0,1298.0 774.0,1298.3 775.5,1298.1 780.0,1298.1 781.5,1298.2 792.0,1298.1 793.5,1298.0 798.0,1298.3 801.0,1298.0 805.5,1298.3 808.5,1298.1 810.0,1298.2 816.0,1297.9 822.0,1298.2 829.5,1297.8 837.0,1298.1 841.5,1297.8 849.0,1298.2 856.5,1298.0 862.5,1298.2 865.5,1297.9 868.5,1298.1 888.0,1297.9 892.5,1298.1 895.5,1297.8 898.5,1297.8 901.5,1298.0 906.0,1297.8 918.0,1298.0 921.0,1297.8 930.0,1297.7 936.0,1298.0 939.0,1297.5 942.0,1297.9 945.0,1297.7 948.0,1297.9 951.0,1297.7 957.0,1297.8 960.0,1297.6 969.0,1297.9 975.0,1297.6 979.5,1297.8 984.0,1297.6 1002.0,1297.8 1006.5,1297.4 1009.5,1297.7 1015.5,1297.6 1018.5,1297.8 1023.0,1297.8 1026.0,1297.4 1036.5,1297.7 1038.0,1297.4 1045.5,1297.6 1047.0,1297.4 1050.0,1297.7 1057.5,1297.7 1062.0,1297.2 1068.0,1297.6 1072.5,1297.3 1077.0,1297.5 1080.0,1297.3 1087.5,1297.5 1090.5,1297.3 1098.0,1297.3 1101.0,1297.5 1104.0,1297.3 1110.0,1297.3 1116.0,1297.6 1119.0,1297.4 1122.0,1297.6 1131.0,1297.4 1134.0,1297.5 1138.5,1297.3 1140.0,1297.5 1146.0,1297.2 1150.5,1297.5 1153.5,1297.4 1156.5,1297.0 1159.5,1297.5 1161.0,1297.6 1165.5,1297.1 1177.5,1297.4 1186.5,1297.1 1192.5,1297.4 1195.5,1297.2 1213.5,1297.2 1216.5,1297.4 1219.5,1297.0 1222.5,1297.4 1224.0,1296.6 1225.5,1294.2 1227.0,1293.4 1237.5,1293.4 1240.5,1293.6 1245.0,1293.3 1248.0,1293.5 1249.5,1293.4 1252.5,1293.8 1255.5,1293.6 1258.5,1293.8 1260.0,1293.5 1263.0,1293.6 1264.5,1293.5 1266.0,1293.8 1269.0,1293.5 1272.0,1293.7 1273.5,1293.6 1276.5,1293.9 1297.5,1293.9 1302.0,1294.2 1305.0,1293.9 1309.5,1293.9 1312.5,1294.1 1315.5,1293.9 1320.0,1294.2 1323.0,1294.1 1326.0,1295.3 1329.0,1294.9 1335.0,1295.1 1342.5,1294.9 1347.0,1295.1 1353.0,1294.7 1359.0,1295.1 1369.5,1294.7 1372.5,1294.9 1380.0,1294.7 1384.5,1294.9 1387.5,1294.6 1393.5,1294.7 1399.5,1294.5 1405.5,1294.6 1413.0,1294.5 1417.5,1294.6 1420.5,1294.3 1426.5,1294.5 1432.5,1294.2 1440.0,1294.5 1447.5,1294.4 1449.0,1294.2 1452.0,1294.5 1455.0,1294.3 1456.5,1294.5 1461.0,1294.2 1465.5,1294.2 1467.0,1294.5 1470.0,1294.1 1486.5,1294.4 1491.0,1294.1 1495.5,1294.3 1501.5,1294.1 1512.0,1294.3 1515.0,1294.0 1519.5,1294.1 1521.0,1294.0 1522.5,1293.7 1525.5,1292.3 1536.0,1292.6 1539.0,1292.3 1542.0,1292.5 1548.0,1292.3 1552.5,1292.6 1554.0,1292.6 1557.0,1292.2 1560.0,1292.4 1563.0,1292.3 1572.0,1292.4 1575.0,1292.3 1578.0,1292.4 1588.5,1292.2 1596.0,1292.5 1606.5,1292.3 1609.5,1292.5 1615.5,1292.2 1618.5,1292.4 1624.5,1293.5 1626.0,1293.3 1632.0,1293.7 1633.5,1293.4 1636.5,1293.5 1644.0,1293.3 1654.5,1293.6 1663.5,1293.2 1669.5,1293.5 1680.0,1293.2 1683.0,1293.5 1692.0,1293.3 1704.0,1293.6 1705.5,1293.3 1710.0,1293.3 1713.0,1293.6 1717.5,1293.2 1719.0,1293.5 1722.0,1294.6 1723.5,1294.7 1737.0,1294.3 1741.5,1294.6 1744.5,1294.4 1747.5,1294.6 1750.5,1294.4 1753.5,1294.7 1756.5,1294.3 1762.5,1294.7 1770.0,1294.4 1774.5,1294.8 1779.0,1294.5 1785.0,1294.7 1788.0,1294.4 1791.0,1294.7 1794.0,1294.4 1800.0,1294.7 1804.5,1294.4 1810.5,1294.7 1818.0,1294.5 1822.5,1294.7 1833.0,1294.5 1840.5,1294.5 1842.0,1294.7 1845.0,1294.5 1860.0,1294.8 1866.0,1294.6 1869.0,1294.9 1873.5,1294.6 1885.5,1294.7 1890.0,1294.5 1893.0,1294.7 1903.5,1294.5 1908.0,1294.7 1911.0,1294.5 1918.5,1294.8 1921.5,1294.4 1924.5,1294.7 1926.0,1294.4 1938.0,1294.8 1941.0,1294.6 1944.0,1294.7 1947.0,1294.5 1948.5,1294.7 1951.5,1294.5 1956.0,1294.5 1957.5,1294.8 1960.5,1294.6 1963.5,1294.8 1972.5,1294.7 1974.0,1294.6 1978.5,1294.7 1990.5,1294.6 1992.0,1294.8 1995.0,1294.6 1996.5,1294.8 1999.5,1294.4 2002.5,1294.9 2004.0,1295.0 2007.0,1294.6 2011.5,1294.6 2013.0,1294.7 2016.0,1295.5 2017.5,1295.6 2020.5,1295.4 2028.0,1295.5 2029.5,1295.3 2038.5,1295.4 2044.5,1295.3 2049.0,1295.4 2052.0,1295.2 2055.0,1295.4 2073.0,1295.2 2082.0,1295.5 2094.0,1295.4 2095.5,1295.0 2098.5,1295.3 2101.5,1295.3 2104.5,1294.9 2110.5,1295.3 2116.5,1295.1 2119.5,1295.4 2127.0,1295.2 2130.0,1295.5 2137.5,1295.0 2148.0,1295.2 2157.0,1294.9 2166.0,1295.2 2170.5,1294.9 2176.5,1295.3 2184.0,1294.8 2194.5,1295.2 2200.5,1294.9 2203.5,1295.1 2221.5,1295.1 2226.0,1294.8 2235.0,1295.0 2238.0,1295.2 2244.0,1294.8 2247.0,1295.2 2251.5,1294.8 2256.0,1295.1 2265.0,1294.9 2271.0,1295.1 2275.5,1294.9 2280.0,1295.1 2283.0,1295.0 2286.0,1295.2 2290.5,1294.9 2293.5,1295.0 2296.5,1294.8 2298.0,1295.0 2299.5,1294.6 2301.0,1293.7 2302.5,1293.3 2305.5,1293.2 2308.5,1293.5 2311.5,1293.3 2313.0,1293.5 2316.0,1293.1 2326.5,1293.4 2338.5,1293.2 2347.5,1293.4 2350.5,1293.2 2352.0,1293.4 2359.5,1293.1 2362.5,1293.3 2368.5,1293.3 2373.0,1293.0 2374.5,1293.3 2377.5,1293.3 2379.0,1293.6 2382.0,1293.2 2385.0,1293.3 2388.0,1293.1 2391.0,1293.3 2394.0,1293.2 2397.0,1293.4 2403.0,1293.3 2406.0,1293.5 2409.0,1293.3 2412.0,1293.4 2419.5,1293.1 2422.5,1293.4 2427.0,1293.2 2434.5,1293.4 2440.5,1293.0 2449.5,1293.5 2452.5,1293.2 2460.0,1293.5 2464.5,1293.0 2467.5,1293.4 2470.5,1293.1 2472.0,1293.4 2475.0,1293.2 2478.0,1293.6 2482.5,1293.2 2485.5,1293.3 2488.5,1293.1 2493.0,1293.6 2494.5,1293.5 2496.0,1293.1 2499.0,1293.5 2503.5,1293.2 2505.0,1293.4 2508.0,1293.2 2512.5,1293.4 2523.0,1293.2 2529.0,1292.8 2532.0,1293.0 2536.5,1292.7 2541.0,1292.8 2545.5,1292.5 2548.5,1292.7 2553.0,1292.5 2554.5,1292.7 2560.5,1292.1 2563.5,1292.4 2572.5,1292.2 2578.5,1291.9 2581.5,1292.2 2586.0,1291.8 2590.5,1291.9 2596.5,1291.5 2602.5,1291.4 2605.5,1291.6 2613.0,1291.3 2626.5,1291.3 2628.0,1291.1 2631.0,1291.4 2638.5,1291.0 2641.5,1291.2 2646.0,1291.1 2653.5,1291.3 2656.5,1290.8 2662.5,1290.9 2670.0,1289.8 2673.0,1289.7 2676.0,1289.2 2680.5,1289.1 2682.0,1288.9 2683.5,1288.5 2688.0,1288.5 2692.5,1287.8 2694.0,1287.8 2695.5,1281.7 2697.0,1279.2 2698.5,1279.6 2701.5,1279.5 2707.5,1281.0 2709.0,1281.1 2710.5,1284.2 2712.0,1285.1 2716.5,1282.2 2718.0,1281.6 2719.5,1281.0 2722.5,1280.5 2725.5,1279.2 2730.0,1278.0 2734.5,1275.6 2736.0,1274.4 2740.5,1268.4 2742.0,1269.1 2743.5,1272.1 2745.0,1272.8 2746.5,1272.8 2748.0,1273.2 2749.5,1273.3 2752.5,1273.2 2757.0,1273.9 2760.0,1274.0 2763.0,1273.8 2764.5,1274.2 2767.5,1273.7 2770.5,1274.7 2772.0,1274.7 2775.0,1271.2 2779.5,1270.9 2782.5,1271.7 2785.5,1272.2 2787.0,1272.1 2788.5,1271.7 2790.0,1271.0 2791.5,1271.0 2794.5,1269.3 2796.0,1269.0 2799.0,1269.0 2800.5,1268.3 2802.0,1268.4 2805.0,1269.1 2806.5,1269.2 2811.0,1270.1 2812.5,1270.0 2814.0,1269.4 2817.0,1269.9 2818.5,1269.5 2823.0,1269.7 2824.5,1269.4 2829.0,1268.8 2830.5,1268.3 2833.5,1264.9 2835.0,1264.0 2838.0,1262.8 2839.5,1263.1 2841.0,1263.0 2844.0,1261.5 2845.5,1261.4 2847.0,1260.6 2851.5,1257.3 2853.0,1258.2 2854.5,1259.4 2856.0,1260.1 2859.0,1260.8 2860.5,1260.8 2862.0,1261.2 2863.5,1260.6 2865.0,1260.2 2874.0,1260.3 2877.0,1259.4 2880.0,1259.6 2881.5,1259.5 2886.0,1258.4 2890.5,1257.8 2892.0,1258.4 2893.5,1258.2 2895.0,1257.2 2896.5,1256.8 2899.5,1256.2 2904.0,1254.9 2908.5,1254.3 2911.5,1252.9 2913.0,1253.0 2916.0,1250.9 2917.5,1251.1 2919.0,1250.7 2923.5,1248.4 2926.5,1247.1 2929.5,1247.0 2931.0,1245.9 2934.0,1245.6 2935.5,1244.3 2938.5,1243.5 2940.0,1242.2 2941.5,1241.6 2943.0,1241.9 2946.0,1239.0 2947.5,1239.0 2950.5,1237.6 2952.0,1236.6 2955.0,1235.2 2956.5,1233.9 2958.0,1233.2 2967.0,1227.8 2970.0,1227.3 2971.5,1225.7 2973.0,1224.7 2974.5,1224.6 2976.0,1223.7 2979.0,1222.4 2983.5,1219.9 2985.0,1219.4 2988.0,1219.0 2991.0,1216.2 2994.0,1214.6 2995.5,1213.1 2997.0,1212.2 2998.5,1212.3 3000.0,1211.5 3003.0,1208.8 3004.5,1205.9 3009.0,1189.9 3013.5,1187.1 3015.0,1187.0 3016.5,1186.7 3018.0,1185.8 3021.0,1186.6 3022.5,1185.7 3024.0,1185.0 3025.5,1184.7 3027.0,1184.1 3028.5,1183.2 3030.0,1182.7 3031.5,1182.8 3036.0,1181.6 3037.5,1181.9 3039.0,1181.9 3043.5,1182.6 3045.0,1183.0 3046.5,1183.0 3049.5,1183.5 3051.0,1184.4 3054.0,1185.2 3057.0,1187.2 3058.5,1187.8 3060.0,1187.3 3061.5,1187.1 3063.0,1187.8 3064.5,1188.1 3066.0,1187.6 3067.5,1187.5 3069.0,1186.8 3070.5,1185.5 3072.0,1185.6 3073.5,1186.2 3075.0,1186.5 3076.5,1185.6 3079.5,1184.5 3081.0,1183.3 3084.0,1182.4 3085.5,1181.0 3088.5,1179.5 3090.0,1179.0 3091.5,1179.0 3093.0,1177.7 3096.0,1178.3 3097.5,1177.4 3099.0,1177.1 3100.5,1177.1 3103.5,1176.3 3105.0,1176.4 3108.0,1175.4 3109.5,1175.9 3111.0,1175.6 3112.5,1174.6 3114.0,1174.6 3115.5,1175.0 3118.5,1173.9 3120.0,1173.8 3123.0,1174.7 3124.5,1174.1 3126.0,1174.0 3129.0,1172.6 3132.0,1173.7 3135.0,1172.7 3138.0,1173.7 3139.5,1174.5 3141.0,1174.9 3142.0,1175.8" fill="none" stroke="#48c9ec" stroke-width="1.8" stroke-linejoin="round"/>
<polyline points="2481.0,1297.9 2488.5,1297.9 2494.5,1298.1 2514.0,1298.0 2520.0,1297.7 2532.0,1297.8 2551.5,1297.2 2557.5,1297.4 2560.5,1297.1 2575.5,1297.1 2580.0,1296.6 2587.5,1296.8 2593.5,1296.5 2596.5,1296.6 2599.5,1296.5 2602.5,1296.5 2605.5,1296.3 2613.0,1296.3 2619.0,1296.0 2622.0,1296.3 2637.0,1295.6 2646.0,1295.7 2656.5,1295.3 2659.5,1295.5 2673.0,1294.4 2677.5,1294.3 2685.0,1293.9 2694.0,1293.9 2695.5,1287.5 2697.0,1285.2 2703.0,1285.5 2704.5,1286.1 2707.5,1286.8 2710.5,1288.3 2712.0,1288.2 2716.5,1285.6 2719.5,1285.5 2721.0,1285.1 2724.0,1285.1 2728.5,1283.7 2731.5,1282.1 2733.0,1281.9 2734.5,1281.2 2739.0,1276.5 2740.5,1275.3 2742.0,1276.3 2743.5,1278.9 2745.0,1279.8 2748.0,1279.8 2749.5,1280.1 2755.5,1280.9 2758.5,1280.6 2760.0,1281.0 2763.0,1281.0 2764.5,1281.1 2766.0,1281.8 2767.5,1282.1 2770.5,1282.0 2772.0,1282.2 2775.0,1277.6 2776.5,1277.0 2778.0,1277.4 2779.5,1278.2 2781.0,1279.2 2785.5,1280.3 2787.0,1279.6 2788.5,1279.2 2790.0,1279.2 2791.5,1278.8 2794.5,1277.3 2796.0,1276.8 2797.5,1276.7 2800.5,1275.7 2802.0,1276.1 2805.0,1276.2 2808.0,1276.8 2809.5,1276.8 2812.5,1277.7 2814.0,1277.1 2815.5,1276.8 2817.0,1277.3 2820.0,1277.4 2821.5,1277.8 2824.5,1277.9 2827.5,1277.0 2829.0,1277.1 2830.5,1276.6 2833.5,1274.4 2835.0,1272.7 2836.5,1272.0 2841.0,1270.8 2844.0,1271.0 2845.5,1270.2 2847.0,1269.7 2851.5,1269.0 2856.0,1271.1 2857.5,1270.2 2859.0,1269.8 2860.5,1269.8 2862.0,1270.4 2863.5,1270.3 2866.5,1269.7 2869.5,1270.0 2871.0,1269.9 2872.5,1270.3 2874.0,1270.2 2875.5,1270.9 2877.0,1271.1 2878.5,1270.4 2880.0,1271.0 2881.5,1271.1 2883.0,1270.0 2884.5,1269.7 2886.0,1270.4 2889.0,1269.4 2890.5,1269.3 2892.0,1269.0 2895.0,1269.7 2898.0,1268.2 2901.0,1268.7 2907.0,1267.2 2910.0,1267.0 2911.5,1266.6 2913.0,1265.5 2914.5,1264.7 2916.0,1264.6 2917.5,1264.3 2920.5,1262.5 2922.0,1262.3 2925.0,1261.4 2926.5,1261.2 2928.0,1260.5 2929.5,1260.8 2931.0,1261.3 2932.5,1261.3 2934.0,1262.1 2935.5,1261.7 2937.0,1260.9 2938.5,1260.8 2941.5,1260.0 2944.5,1260.0 2946.0,1260.4 2947.5,1260.3 2949.0,1259.4 2950.5,1259.4 2953.5,1258.8 2955.0,1259.0 2956.5,1258.4 2958.0,1258.3 2959.5,1258.6 2961.0,1258.2 2964.0,1255.4 2967.0,1255.1 2968.5,1254.1 2970.0,1253.8 2971.5,1253.8 2974.5,1252.7 2976.0,1252.4 2977.5,1251.8 2979.0,1250.9 2982.0,1250.9 2983.5,1250.0 2985.0,1249.3 2986.5,1249.7 2988.0,1249.6 2989.5,1248.9 2991.0,1248.6 2994.0,1248.3 2997.0,1248.3 2998.5,1247.8 3001.5,1248.1 3003.0,1247.2 3004.5,1245.3 3007.5,1231.2 3009.0,1225.9 3012.0,1226.7 3013.5,1226.5 3015.0,1226.8 3019.5,1228.5 3021.0,1227.9 3024.0,1228.4 3025.5,1227.5 3027.0,1227.6 3028.5,1228.6 3030.0,1228.7 3031.5,1228.1 3034.5,1228.2 3036.0,1228.5 3037.5,1229.0 3039.0,1229.0 3040.5,1229.4 3042.0,1230.3 3045.0,1230.6 3046.5,1231.0 3049.5,1230.9 3051.0,1231.8 3052.5,1232.4 3054.0,1232.7 3055.5,1232.6 3058.5,1233.4 3061.5,1235.3 3063.0,1235.4 3069.0,1232.4 3072.0,1232.0 3075.0,1230.9 3078.0,1230.7 3079.5,1230.3 3081.0,1229.3 3082.5,1227.9 3084.0,1227.4 3085.5,1227.2 3087.0,1226.1 3088.5,1225.4 3093.0,1224.5 3096.0,1223.2 3097.5,1222.9 3099.0,1223.0 3102.0,1221.6 3103.5,1221.7 3105.0,1221.2 3108.0,1220.8 3109.5,1220.3 3114.0,1219.7 3115.5,1218.9 3117.0,1218.3 3118.5,1218.4 3120.0,1217.3 3121.5,1216.7 3127.5,1216.2 3129.0,1215.8 3130.5,1214.9 3132.0,1214.4 3135.0,1214.0 3138.0,1214.2 3139.5,1213.9 3142.0,1214.2" fill="none" stroke="#8a2be2" stroke-width="1.8" stroke-linejoin="round"/>
<polyline points="2481.0,1297.9 2488.5,1297.9 2494.5,1298.1 2511.0,1297.9 2517.0,1298.1 2526.0,1298.0 2529.0,1297.8 2538.0,1298.1 2545.5,1297.8 2553.0,1297.9 2554.5,1298.1 2560.5,1297.8 2565.0,1298.0 2574.0,1297.8 2596.5,1297.9 2620.5,1297.5 2623.5,1297.6 2626.5,1297.5 2655.0,1297.5 2659.5,1297.3 2662.5,1297.5 2665.5,1297.2 2668.5,1297.4 2683.5,1297.1 2686.5,1297.3 2689.5,1297.1 2694.0,1297.3 2695.5,1291.1 2697.0,1289.2 2704.5,1290.1 2707.5,1291.2 2710.5,1291.8 2712.0,1291.6 2716.5,1289.8 2722.5,1288.3 2725.5,1287.9 2730.0,1286.9 2731.5,1286.8 2734.5,1286.2 2736.0,1285.1 2740.5,1280.3 2742.0,1280.5 2746.5,1284.8 2748.0,1285.3 2751.0,1285.2 2752.5,1285.5 2754.0,1285.5 2755.5,1285.2 2760.0,1285.7 2764.5,1285.5 2766.0,1285.9 2767.5,1286.0 2769.0,1285.8 2772.0,1286.1 2778.0,1283.6 2781.0,1283.4 2784.0,1282.9 2787.0,1282.9 2790.0,1282.5 2791.5,1282.7 2794.5,1282.2 2796.0,1282.4 2799.0,1281.5 2800.5,1281.5 2802.0,1282.1 2805.0,1282.3 2811.0,1283.5 2812.5,1283.2 2814.0,1283.4 2815.5,1283.9 2823.0,1284.4 2824.5,1284.9 2826.0,1285.0 2827.5,1284.2 2830.5,1283.9 2832.0,1282.9 2833.5,1282.5 2836.5,1282.2 2838.0,1282.9 2839.5,1283.1 2844.0,1281.6 2845.5,1281.5 2848.5,1281.7 2851.5,1281.4 2853.0,1281.5 2854.5,1281.0 2856.0,1281.2 2857.5,1281.8 2860.5,1282.1 2863.5,1281.8 2869.5,1282.6 2872.5,1282.3 2877.0,1282.7 2878.5,1282.6 2881.5,1282.9 2883.0,1282.8 2886.0,1282.4 2889.0,1281.7 2890.5,1281.7 2892.0,1281.3 2895.0,1281.0 2898.0,1281.5 2899.5,1280.9 2901.0,1280.6 2902.5,1280.5 2905.5,1280.9 2908.5,1280.0 2911.5,1279.7 2917.5,1277.9 2919.0,1277.8 2922.0,1277.2 2923.5,1277.6 2925.0,1277.6 2928.0,1276.8 2931.0,1276.9 2932.5,1276.6 2937.0,1276.6 2940.0,1275.5 2941.5,1275.5 2944.5,1274.9 2946.0,1275.1 2953.5,1272.2 2955.0,1272.2 2956.5,1272.5 2959.5,1271.7 2962.5,1270.5 2965.5,1270.3 2968.5,1269.6 2970.0,1269.6 2973.0,1268.2 2974.5,1268.2 2977.5,1267.3 2980.5,1266.0 2982.0,1265.9 2983.5,1265.4 2985.0,1265.5 2986.5,1265.9 2991.0,1264.3 2995.5,1262.2 2998.5,1262.1 3000.0,1261.1 3001.5,1260.5 3003.0,1260.7 3004.5,1259.1 3007.5,1251.8 3009.0,1249.3 3010.5,1249.9 3012.0,1249.5 3013.5,1249.5 3015.0,1250.2 3019.5,1251.1 3021.0,1251.1 3024.0,1250.3 3027.0,1251.2 3033.0,1251.0 3036.0,1251.9 3042.0,1252.3 3043.5,1252.7 3045.0,1252.5 3049.5,1253.3 3051.0,1253.5 3054.0,1253.2 3055.5,1253.5 3057.0,1253.2 3058.5,1253.2 3060.0,1253.8 3063.0,1254.0 3064.5,1253.7 3070.5,1253.4 3072.0,1252.9 3073.5,1252.8 3076.5,1252.2 3079.5,1252.2 3082.5,1250.9 3084.0,1250.5 3085.5,1250.7 3088.5,1249.8 3090.0,1249.9 3091.5,1249.4 3094.5,1249.4 3096.0,1248.5 3097.5,1248.0 3100.5,1248.4 3105.0,1247.2 3108.0,1247.3 3109.5,1246.4 3111.0,1245.9 3112.5,1246.2 3115.5,1245.7 3117.0,1245.6 3118.5,1245.1 3121.5,1245.1 3124.5,1244.6 3126.0,1244.1 3130.5,1244.0 3133.5,1244.5 3136.5,1244.0 3138.0,1244.2 3139.5,1244.0 3141.0,1244.4 3142.0,1244.4" fill="none" stroke="#b0c4de" stroke-width="1.8" stroke-linejoin="round"/>
<polyline points="1911.0,1298.3 1915.5,1298.5 1930.5,1298.2 1938.0,1298.6 1941.0,1298.4 1966.5,1298.4 1975.5,1298.4 1978.5,1298.2 1984.5,1298.4 2016.0,1298.3 2023.5,1298.4 2047.5,1298.2 2056.5,1298.2 2059.5,1298.5 2076.0,1298.2 2082.0,1298.4 2085.0,1298.2 2088.0,1298.4 2095.5,1298.2 2104.5,1298.3 2119.5,1298.2 2122.5,1298.5 2125.5,1298.2 2130.0,1298.1 2137.5,1298.3 2143.5,1298.2 2160.0,1298.3 2163.0,1298.1 2172.0,1298.3 2178.0,1298.1 2181.0,1298.3 2187.0,1298.2 2190.0,1298.1 2196.0,1298.3 2202.0,1298.1 2209.5,1298.2 2214.0,1298.1 2221.5,1298.2 2224.5,1298.0 2227.5,1298.2 2230.5,1298.1 2239.5,1298.2 2242.5,1298.0 2248.5,1298.2 2257.5,1298.1 2260.5,1298.2 2272.5,1298.2 2275.5,1298.0 2277.0,1298.2 2281.5,1298.0 2295.0,1298.3 2301.0,1298.1 2304.0,1298.3 2307.0,1298.0 2310.0,1298.2 2323.5,1298.2 2326.5,1298.0 2331.0,1298.2 2338.5,1298.0 2347.5,1298.2 2352.0,1298.0 2367.0,1298.3 2374.5,1298.0 2388.0,1298.1 2391.0,1298.0 2412.0,1298.0 2415.0,1298.2 2418.0,1298.0 2424.0,1298.2 2430.0,1297.9 2440.5,1298.1 2451.0,1298.0 2460.0,1298.2 2464.5,1297.9 2467.5,1298.1 2470.5,1297.9 2478.0,1298.1 2488.5,1297.9 2491.5,1298.1 2511.0,1297.9 2523.0,1298.1 2529.0,1297.8 2538.0,1298.1 2545.5,1297.8 2553.0,1297.9 2556.0,1298.1 2559.0,1297.9 2569.5,1297.9 2572.5,1298.1 2574.0,1297.8 2580.0,1298.0 2586.0,1297.9 2589.0,1298.0 2592.0,1297.8 2598.0,1298.0 2601.0,1297.8 2604.0,1298.0 2616.0,1297.8 2619.0,1298.1 2620.5,1297.9 2628.0,1297.8 2632.5,1297.8 2635.5,1298.0 2638.5,1297.8 2641.5,1298.0 2649.0,1297.8 2652.0,1298.0 2655.0,1297.8 2658.0,1298.0 2670.0,1297.7 2673.0,1297.8 2676.0,1297.5 2679.0,1297.7 2686.5,1297.4 2691.0,1297.6 2694.0,1297.3 2695.5,1291.1 2697.0,1289.4 2700.0,1289.5 2701.5,1289.8 2704.5,1290.1 2707.5,1291.6 2710.5,1292.7 2712.0,1292.6 2716.5,1291.0 2718.0,1290.8 2725.5,1290.8 2730.0,1289.3 2734.5,1288.1 2736.0,1286.9 2740.5,1282.0 2742.0,1282.9 2743.5,1285.6 2745.0,1286.1 2748.0,1286.6 2754.0,1287.0 2755.5,1287.3 2758.5,1287.2 2763.0,1287.4 2764.5,1287.7 2767.5,1287.8 2772.0,1288.3 2775.0,1289.2 2776.5,1289.1 2779.5,1290.5 2781.0,1290.3 2785.5,1291.0 2787.0,1290.7 2790.0,1290.6 2791.5,1290.2 2793.0,1290.2 2800.5,1287.0 2803.5,1287.9 2805.0,1287.9 2809.5,1288.4 2811.0,1288.8 2814.0,1288.8 2815.5,1289.2 2817.0,1289.0 2820.0,1289.7 2823.0,1289.8 2830.5,1289.1 2833.5,1289.2 2838.0,1288.9 2841.0,1289.2 2845.5,1288.6 2848.5,1287.9 2853.0,1287.7 2854.5,1288.2 2856.0,1289.0 2857.5,1288.6 2863.5,1289.2 2865.0,1289.1 2868.0,1289.5 2871.0,1288.8 2872.5,1289.4 2874.0,1289.6 2875.5,1289.2 2878.5,1289.6 2880.0,1289.2 2881.5,1288.5 2884.5,1288.9 2886.0,1288.8 2887.5,1289.4 2892.0,1288.8 2893.5,1289.2 2895.0,1289.3 2896.5,1288.7 2898.0,1288.7 2899.5,1288.5 2902.5,1288.7 2904.0,1288.2 2905.5,1288.1 2910.0,1288.1 2913.0,1287.4 2914.5,1287.8 2916.0,1287.7 2922.0,1286.6 2923.5,1285.9 2925.0,1285.7 2928.0,1286.4 2929.5,1286.2 2932.5,1285.2 2934.0,1284.9 2935.5,1284.8 2937.0,1285.1 2938.5,1284.9 2940.0,1284.3 2943.0,1284.4 2947.5,1284.1 2950.5,1283.6 2952.0,1283.2 2953.5,1283.3 2955.0,1283.9 2956.5,1283.6 2959.5,1284.3 2961.0,1284.2 2964.0,1283.3 2968.5,1283.8 2973.0,1282.6 2974.5,1282.5 2976.0,1283.0 2979.0,1283.4 2980.5,1283.3 2982.0,1282.5 2983.5,1282.1 2985.0,1282.1 2986.5,1282.6 2989.5,1281.4 2994.0,1281.7 2997.0,1281.3 3000.0,1281.2 3001.5,1281.4 3003.0,1281.0 3004.5,1278.9 3007.5,1271.3 3009.0,1268.9 3010.5,1269.1 3013.5,1269.2 3015.0,1268.8 3016.5,1268.7 3018.0,1269.3 3021.0,1269.2 3024.0,1269.8 3025.5,1269.8 3027.0,1269.4 3031.5,1270.5 3034.5,1270.4 3036.0,1270.6 3037.5,1270.9 3039.0,1271.8 3042.0,1271.7 3043.5,1272.4 3048.0,1273.2 3051.0,1274.1 3052.5,1275.0 3054.0,1274.9 3055.5,1274.6 3058.5,1276.7 3060.0,1276.7 3061.5,1276.2 3063.0,1276.1 3066.0,1277.3 3067.5,1276.9 3069.0,1276.1 3070.5,1276.3 3072.0,1276.1 3073.5,1275.6 3076.5,1275.5 3078.0,1275.6 3081.0,1275.2 3082.5,1275.5 3085.5,1275.5 3087.0,1275.0 3088.5,1274.2 3090.0,1274.2 3091.5,1274.5 3099.0,1273.6 3100.5,1274.1 3103.5,1273.3 3108.0,1273.1 3111.0,1272.6 3112.5,1272.8 3115.5,1272.2 3120.0,1271.8 3121.5,1271.2 3123.0,1271.0 3124.5,1271.1 3126.0,1271.5 3127.5,1271.6 3129.0,1271.1 3130.5,1271.0 3135.0,1271.4 3136.5,1271.3 3138.0,1270.8 3139.5,1271.2 3142.0,1272.2" fill="none" stroke="#ff4500" stroke-width="1.8" stroke-linejoin="round"/>
<polyline points="2700.0,1298.6 2710.5,1298.6 2760.0,1297.6 2800.5,1297.8 2847.0,1297.6 2866.5,1294.7 2874.0,1294.8 2877.0,1294.6 2884.5,1294.7 2887.5,1294.5 2893.5,1295.1 2899.5,1294.8 2902.5,1294.5 2905.5,1294.9 2911.5,1294.8 2914.5,1294.4 2919.0,1294.4 2925.0,1293.6 2926.5,1293.8 2928.0,1293.7 2929.5,1293.4 2934.0,1293.3 2935.5,1293.0 2938.5,1293.2 2944.5,1293.0 2952.0,1293.3 2958.0,1293.8 2961.0,1293.6 2967.0,1293.9 2968.5,1293.7 2977.5,1294.2 2980.5,1293.9 2983.5,1294.2 2986.5,1294.0 2992.5,1294.4 2998.5,1293.8 3001.5,1294.1 3003.0,1293.7 3004.5,1292.5 3007.5,1285.3 3009.0,1282.7 3010.5,1282.7 3015.0,1283.3 3019.5,1283.3 3025.5,1284.4 3030.0,1284.9 3034.5,1285.1 3037.5,1285.7 3040.5,1285.9 3045.0,1286.8 3051.0,1287.4 3052.5,1288.0 3055.5,1288.5 3064.5,1289.6 3067.5,1289.2 3070.5,1289.2 3078.0,1289.8 3081.0,1289.4 3084.0,1289.4 3087.0,1289.0 3090.0,1289.2 3093.0,1288.8 3097.5,1288.8 3100.5,1288.5 3105.0,1288.7 3108.0,1288.3 3112.5,1288.2 3115.5,1287.8 3118.5,1287.9 3121.5,1287.6 3124.5,1287.9 3127.5,1287.8 3129.0,1288.3 3135.0,1288.8 3139.5,1289.9 3142.0,1289.7" fill="none" stroke="#ffd700" stroke-width="1.8" stroke-linejoin="round"/>
<polyline points="2700.0,1298.8 2760.0,1297.6 2800.5,1297.8 2847.0,1297.6 2880.0,1296.4 2929.5,1296.6 2943.0,1295.4 2989.5,1297.0 3039.0,1297.4 3100.5,1296.6 3142.0,1295.8" fill="none" stroke="#4682b4" stroke-width="1.5" stroke-linejoin="round"/>
<polyline points="2848.5,1298.6 3142.0,1298.2" fill="none" stroke="#1400ff" stroke-width="1.5" stroke-linejoin="round"/>
<line x1="204" y1="739" x2="204" y2="1301" stroke="#d5ddee" stroke-width="2"/>
<line x1="203" y1="1300" x2="3171" y2="1300" stroke="#d5ddee" stroke-width="2"/>
<g stroke="#a0a0a0" stroke-width="2">
<line x1="340.0" y1="1301" x2="340.0" y2="1319"/>
<line x1="536.0" y1="1301" x2="536.0" y2="1319"/>
<line x1="734.0" y1="1301" x2="734.0" y2="1319"/>
<line x1="932.0" y1="1301" x2="932.0" y2="1319"/>
<line x1="1130.0" y1="1301" x2="1130.0" y2="1319"/>
<line x1="1326.0" y1="1301" x2="1326.0" y2="1319"/>
<line x1="1526.0" y1="1301" x2="1526.0" y2="1319"/>
<line x1="1722.0" y1="1301" x2="1722.0" y2="1319"/>
<line x1="1920.0" y1="1301" x2="1920.0" y2="1319"/>
<line x1="2116.0" y1="1301" x2="2116.0" y2="1319"/>
<line x1="2316.0" y1="1301" x2="2316.0" y2="1319"/>
<line x1="2512.0" y1="1301" x2="2512.0" y2="1319"/>
<line x1="2712.0" y1="1301" x2="2712.0" y2="1319"/>
<line x1="2908.0" y1="1301" x2="2908.0" y2="1319"/>
<line x1="3106.0" y1="1301" x2="3106.0" y2="1319"/>
</g>
<g font-family='"Liberation Sans", sans-serif' font-size="28" fill="#94a3b8">
<text x="90.0" y="748.3" font-size="28.5" letter-spacing="-1.46">$30.0B</text>
<text x="90.0" y="840.3" font-size="28.5" letter-spacing="-1.46">$25.0B</text>
<text x="90.0" y="934.3" font-size="28.5" letter-spacing="-1.46">$20.0B</text>
<text x="90.0" y="1028.3" font-size="28.5" letter-spacing="-1.46">$15.0B</text>
<text x="90.0" y="1120.3" font-size="28.5" letter-spacing="-1.46">$10.0B</text>
<text x="104.0" y="1214.3" font-size="28.5" letter-spacing="-1.37">$5.0B</text>
<text x="106.0" y="1308.3" font-size="28.5" letter-spacing="-1.12">$0.00</text>
<text x="297.5" y="1356.5" font-size="29" letter-spacing="0.70">1/1/19</text>
<text x="494.5" y="1356.5" font-size="29" letter-spacing="0.50">7/1/19</text>
<text x="691.5" y="1356.5" font-size="29" letter-spacing="0.70">1/1/20</text>
<text x="890.5" y="1356.5" font-size="29" letter-spacing="0.50">7/1/20</text>
<text x="1087.5" y="1356.5" font-size="29" letter-spacing="0.70">1/1/21</text>
<text x="1284.5" y="1356.5" font-size="29" letter-spacing="0.50">7/1/21</text>
<text x="1483.5" y="1356.5" font-size="29" letter-spacing="0.70">1/1/22</text>
<text x="1680.5" y="1356.5" font-size="29" letter-spacing="0.50">7/1/22</text>
<text x="1877.5" y="1356.5" font-size="29" letter-spacing="0.70">1/1/23</text>
<text x="2074.5" y="1356.5" font-size="29" letter-spacing="0.50">7/1/23</text>
<text x="2273.5" y="1356.5" font-size="29" letter-spacing="0.50">1/1/24</text>
<text x="2470.5" y="1356.5" font-size="29" letter-spacing="0.30">7/1/24</text>
<text x="2669.5" y="1356.5" font-size="29" letter-spacing="0.70">1/1/25</text>
<text x="2866.5" y="1356.5" font-size="29" letter-spacing="0.50">7/1/25</text>
<text x="3063.5" y="1356.5" font-size="29" letter-spacing="0.70">1/1/26</text>
</g>
<circle cx="232.9" cy="1424.0" r="12" fill="#0a3d78"/>
<circle cx="552.3" cy="1424.0" r="12" fill="#daa520"/>
<circle cx="872.9" cy="1424.0" r="12" fill="#2962ff"/>
<circle cx="1193.1" cy="1424.0" r="12" fill="#48c9ec"/>
<circle cx="1513.4" cy="1424.0" r="12" fill="#8a2be2"/>
<circle cx="1833.6" cy="1424.0" r="12" fill="#b0c4de"/>
<circle cx="2152.6" cy="1424.0" r="12" fill="#ff4500"/>
<circle cx="2473.1" cy="1424.0" r="12" fill="#ffd700"/>
<circle cx="2793.0" cy="1424.0" r="12" fill="#4682b4"/>
<circle cx="232.9" cy="1461.9" r="12" fill="#1400ff"/>
</svg>
<svg class="chart" width="3205" height="1486" viewBox="0 0 3205 1486">
<!-- help icons -->
<g fill="none" stroke="#7b7d83" stroke-width="1.9" stroke-linecap="round" stroke-linejoin="round">
<g transform="translate(369.55,277.5) scale(1.4545)"><circle cx="12" cy="12" r="10"/><path stroke-width="2.25" d="M9.09 9a3 3 0 0 1 5.83 1c0 2-3 3-3 3"/><path stroke-width="2.6" d="M12 17h.01"/></g>
<g transform="translate(1047.55,277.5) scale(1.4545)"><circle cx="12" cy="12" r="10"/><path stroke-width="2.25" d="M9.09 9a3 3 0 0 1 5.83 1c0 2-3 3-3 3"/><path stroke-width="2.6" d="M12 17h.01"/></g>
</g>
<!-- triangles -->
<path d="M28 442.7L39 423.2L50 442.7Z" fill="#0ac553"/>
<path d="M680 423.2L702 423.2L691 442.7Z" fill="#f5222d"/>
<path d="M1329 442.7L1340 423.2L1351 442.7Z" fill="#0ac553"/>
<path d="M1980 442.7L1991 423.2L2002 442.7Z" fill="#0ac553"/>
<path d="M2631 442.7L2642 423.2L2653 442.7Z" fill="#0ac553"/>
<!-- chain emoji box -->
<g>
<rect x="274" y="171" width="19" height="32" fill="#000"/>
<ellipse cx="277" cy="180.4" rx="6.2" ry="8" fill="#000"/><ellipse cx="277" cy="193.6" rx="6.2" ry="8" fill="#000"/>
<g fill="none" stroke="#e6e6e6" stroke-width="2">
<ellipse cx="277" cy="181.2" rx="3.3" ry="5"/><ellipse cx="277" cy="192.8" rx="3.3" ry="5"/>
<line x1="277" y1="173.5" x2="277" y2="177"/><line x1="277" y1="185.5" x2="277" y2="188.5"/><line x1="277" y1="197" x2="277" y2="201"/>
<ellipse cx="286.6" cy="187" rx="3.3" ry="5"/>
<path d="M283.3 173.5v3a3.3 3.3 0 0 0 6.6 0v-3"/><path d="M283.3 201v-3a3.3 3.3 0 0 1 6.6 0v3"/>
<line x1="286.6" y1="179.5" x2="286.6" y2="183"/><line x1="286.6" y1="191" x2="286.6" y2="194.7"/>
</g></g>
<!-- download icon -->
<g fill="none" stroke="#14213a" stroke-width="2.3" stroke-linecap="round" stroke-linejoin="round">
<path d="M2915.1 567.2V582.6"/><path d="M2909.3 577L2915.1 582.8L2920.9 577"/>
<path d="M2909 581.1h-0.4a3 3 0 0 0 -3 3v1.3a3 3 0 0 0 3 3h13a3 3 0 0 0 3 -3v-1.3a3 3 0 0 0 -3 -3h-0.4"/>
</g>
<circle cx="2920.5" cy="584.6" r="1.3" fill="#14213a"/>
<!-- more dots -->
<g fill="#1e293b"><circle cx="3141.2" cy="579" r="3.9"/><circle cx="3155" cy="579" r="3.9"/><circle cx="3168.7" cy="579" r="3.9"/></g>
</svg>
<div class="t" style="left:25.60px;top:11.07px;height:107px;line-height:107px;font-size:82px;font-weight:400;color:#09090b;letter-spacing:-1.834px;">Global Market Overview</div>
<div class="t" style="left:28.30px;top:128.09px;height:36px;line-height:36px;font-size:28px;font-weight:400;color:#44546f;letter-spacing:-0.075px;">Welcome to RWA.xyz. Explore tokenized real-world assets and the investors, issuers, and service providers participating on</div>
<div class="t" style="left:27.00px;top:169.89px;height:36px;line-height:36px;font-size:28px;font-weight:400;color:#44546f;letter-spacing:0.376px;">public blockchains.</div>
<div class="t" style="left:26.50px;top:275.41px;height:42px;line-height:42px;font-size:32px;font-weight:400;color:#44546f;letter-spacing:0.044px;">Distributed Asset Value</div>
<div class="t" style="left:675.90px;top:275.41px;height:42px;line-height:42px;font-size:32px;font-weight:400;color:#44546f;letter-spacing:-0.005px;">Represented Asset Value</div>
<div class="t" style="left:1328.50px;top:275.41px;height:42px;line-height:42px;font-size:32px;font-weight:400;color:#44546f;letter-spacing:0.018px;">Total Asset Holders</div>
<div class="t" style="left:1980.30px;top:275.41px;height:42px;line-height:42px;font-size:32px;font-weight:400;color:#44546f;letter-spacing:-0.042px;">Total Stablecoin Value</div>
<div class="t" style="left:2630.70px;top:275.41px;height:42px;line-height:42px;font-size:32px;font-weight:400;color:#44546f;letter-spacing:0.040px;">Total Stablecoin Holders</div>
<div class="t" style="left:28.60px;top:327.40px;height:78px;line-height:78px;font-size:60px;font-weight:400;color:#09090b;letter-spacing:-3.184px;font-kerning:none;">$24.11B</div>
<div class="t" style="left:680.30px;top:326.55px;height:79px;line-height:79px;font-size:61px;font-weight:400;color:#09090b;letter-spacing:-0.129px;">$364.91B</div>
<div class="t" style="left:1326.70px;top:326.55px;height:79px;line-height:79px;font-size:61px;font-weight:400;color:#09090b;letter-spacing:2.238px;">832,439</div>
<div class="t" style="left:1980.90px;top:326.55px;height:79px;line-height:79px;font-size:61px;font-weight:400;color:#09090b;letter-spacing:0.329px;">$310.85B</div>
<div class="t" style="left:2630.10px;top:326.55px;height:79px;line-height:79px;font-size:61px;font-weight:400;color:#09090b;letter-spacing:1.504px;">225.24M</div>
<div class="t" style="left:60.30px;top:414.99px;height:36px;line-height:36px;font-size:28px;font-weight:400;color:#0ac553;letter-spacing:-0.824px;-webkit-text-stroke:0.5px #0ac553;">+11.97%</div>
<div class="t" style="left:173.90px;top:414.99px;height:36px;line-height:36px;font-size:28px;font-weight:400;color:#94a3b8;letter-spacing:0.871px;">from 30d ago</div>
<div class="t" style="left:710.70px;top:414.99px;height:36px;line-height:36px;font-size:28px;font-weight:400;color:#f5222d;letter-spacing:-0.774px;-webkit-text-stroke:0.5px #f5222d;">9.15%</div>
<div class="t" style="left:795.30px;top:414.99px;height:36px;line-height:36px;font-size:28px;font-weight:400;color:#94a3b8;letter-spacing:0.907px;">from 30d ago</div>
<div class="t" style="left:1361.30px;top:414.99px;height:36px;line-height:36px;font-size:28px;font-weight:400;color:#0ac553;letter-spacing:0.663px;-webkit-text-stroke:0.5px #0ac553;">+36.62%</div>
<div class="t" style="left:1484.30px;top:414.99px;height:36px;line-height:36px;font-size:28px;font-weight:400;color:#94a3b8;letter-spacing:0.925px;">from 30d ago</div>
<div class="t" style="left:2012.30px;top:414.99px;height:36px;line-height:36px;font-size:28px;font-weight:400;color:#0ac553;letter-spacing:0.510px;-webkit-text-stroke:0.5px #0ac553;">+4.35%</div>
<div class="t" style="left:2118.10px;top:414.99px;height:36px;line-height:36px;font-size:28px;font-weight:400;color:#94a3b8;letter-spacing:0.962px;">from 30d ago</div>
<div class="t" style="left:2662.30px;top:414.99px;height:36px;line-height:36px;font-size:28px;font-weight:400;color:#0ac553;letter-spacing:0.790px;-webkit-text-stroke:0.5px #0ac553;">+3.99%</div>
<div class="t" style="left:2770.30px;top:414.99px;height:36px;line-height:36px;font-size:28px;font-weight:400;color:#94a3b8;letter-spacing:0.998px;">from 30d ago</div>
<div class="t" style="left:70.10px;top:554.08px;height:51px;line-height:51px;font-size:39px;font-weight:400;color:#09090b;letter-spacing:0.354px;">Total RWA Value</div>
<div class="t" style="left:70.10px;top:647.14px;height:35px;line-height:35px;font-size:27px;font-weight:700;color:#09090b;letter-spacing:0.063px;">Asset Type</div>
<div class="t" style="left:776.90px;top:646.29px;height:36px;line-height:36px;font-size:28px;font-weight:700;color:#09090b;letter-spacing:0.461px;">Metric</div>
<div class="t" style="left:254.70px;top:647.13px;height:32px;line-height:32px;font-size:25px;font-weight:400;color:#3f3f46;letter-spacing:0.421px;">Distributed</div>
<div class="t" style="left:428.30px;top:647.13px;height:32px;line-height:32px;font-size:25px;font-weight:400;color:#85888f;letter-spacing:-0.005px;">Represented</div>
<div class="t" style="left:623.90px;top:647.13px;height:32px;line-height:32px;font-size:25px;font-weight:400;color:#85888f;letter-spacing:0.385px;">All</div>
<div class="t" style="left:905.50px;top:647.13px;height:32px;line-height:32px;font-size:25px;font-weight:400;color:#3f3f46;letter-spacing:-0.273px;">Total Value</div>
<div class="t" style="left:1076.70px;top:647.13px;height:32px;line-height:32px;font-size:25px;font-weight:400;color:#85888f;letter-spacing:-0.160px;">Asset Holders</div>
<div class="t" style="left:1281.70px;top:647.13px;height:32px;line-height:32px;font-size:25px;font-weight:400;color:#85888f;letter-spacing:0.064px;">Active Addresses</div>
<div class="t" style="left:1526.30px;top:647.13px;height:32px;line-height:32px;font-size:25px;font-weight:400;color:#85888f;letter-spacing:-0.499px;">Transfer Volume</div>
<div class="t" style="left:1874.30px;top:630.53px;height:32px;line-height:32px;font-size:25px;font-weight:400;color:#334155;letter-spacing:-0.084px;-webkit-text-stroke:0.15px #334155;">Include Stablecoins</div>
<div class="t" style="left:1825.90px;top:662.73px;height:32px;line-height:32px;font-size:25px;font-weight:400;color:#475569;letter-spacing:-0.152px;">Include stablecoins, cash and cash-equivalents</div>
<div class="t" style="left:2942.10px;top:563.11px;height:32px;line-height:32px;font-size:24.5px;font-weight:400;color:#1e293b;letter-spacing:0.438px;-webkit-text-stroke:0.3px #1e293b;">Download</div>
<div class="t" style="left:260.90px;top:1409.56px;height:33px;line-height:33px;font-size:25.5px;font-weight:400;color:#333333;letter-spacing:-0.662px;">US Treasury Debt</div>
<div class="t" style="left:580.30px;top:1409.56px;height:33px;line-height:33px;font-size:25.5px;font-weight:400;color:#333333;letter-spacing:0.236px;">Commodities</div>
<div class="t" style="left:899.90px;top:1409.56px;height:33px;line-height:33px;font-size:25.5px;font-weight:400;color:#333333;letter-spacing:-0.176px;">Private Credit</div>
<div class="t" style="left:1220.10px;top:1409.56px;height:33px;line-height:33px;font-size:25.5px;font-weight:400;color:#333333;letter-spacing:0.274px;">Institutional Altern...</div>
<div class="t" style="left:1541.40px;top:1409.56px;height:33px;line-height:33px;font-size:25.5px;font-weight:400;color:#333333;letter-spacing:-0.145px;">Corporate Bonds</div>
<div class="t" style="left:1861.60px;top:1409.56px;height:33px;line-height:33px;font-size:25.5px;font-weight:400;color:#333333;letter-spacing:-0.280px;">non-US Governme...</div>
<div class="t" style="left:2179.60px;top:1409.56px;height:33px;line-height:33px;font-size:25.5px;font-weight:400;color:#333333;letter-spacing:-0.130px;">Public Equity</div>
<div class="t" style="left:2500.10px;top:1409.56px;height:33px;line-height:33px;font-size:25.5px;font-weight:400;color:#333333;letter-spacing:-0.221px;">Private Equity</div>
<div class="t" style="left:2822.00px;top:1409.56px;height:33px;line-height:33px;font-size:25.5px;font-weight:400;color:#333333;letter-spacing:0.031px;">Actively-Managed...</div>
<div class="t" style="left:260.90px;top:1447.46px;height:33px;line-height:33px;font-size:25.5px;font-weight:400;color:#333333;letter-spacing:-0.035px;">Structured Credit</div>
<div class="fab"></div>
<div class="fabi"></div>
</body>
</html>
